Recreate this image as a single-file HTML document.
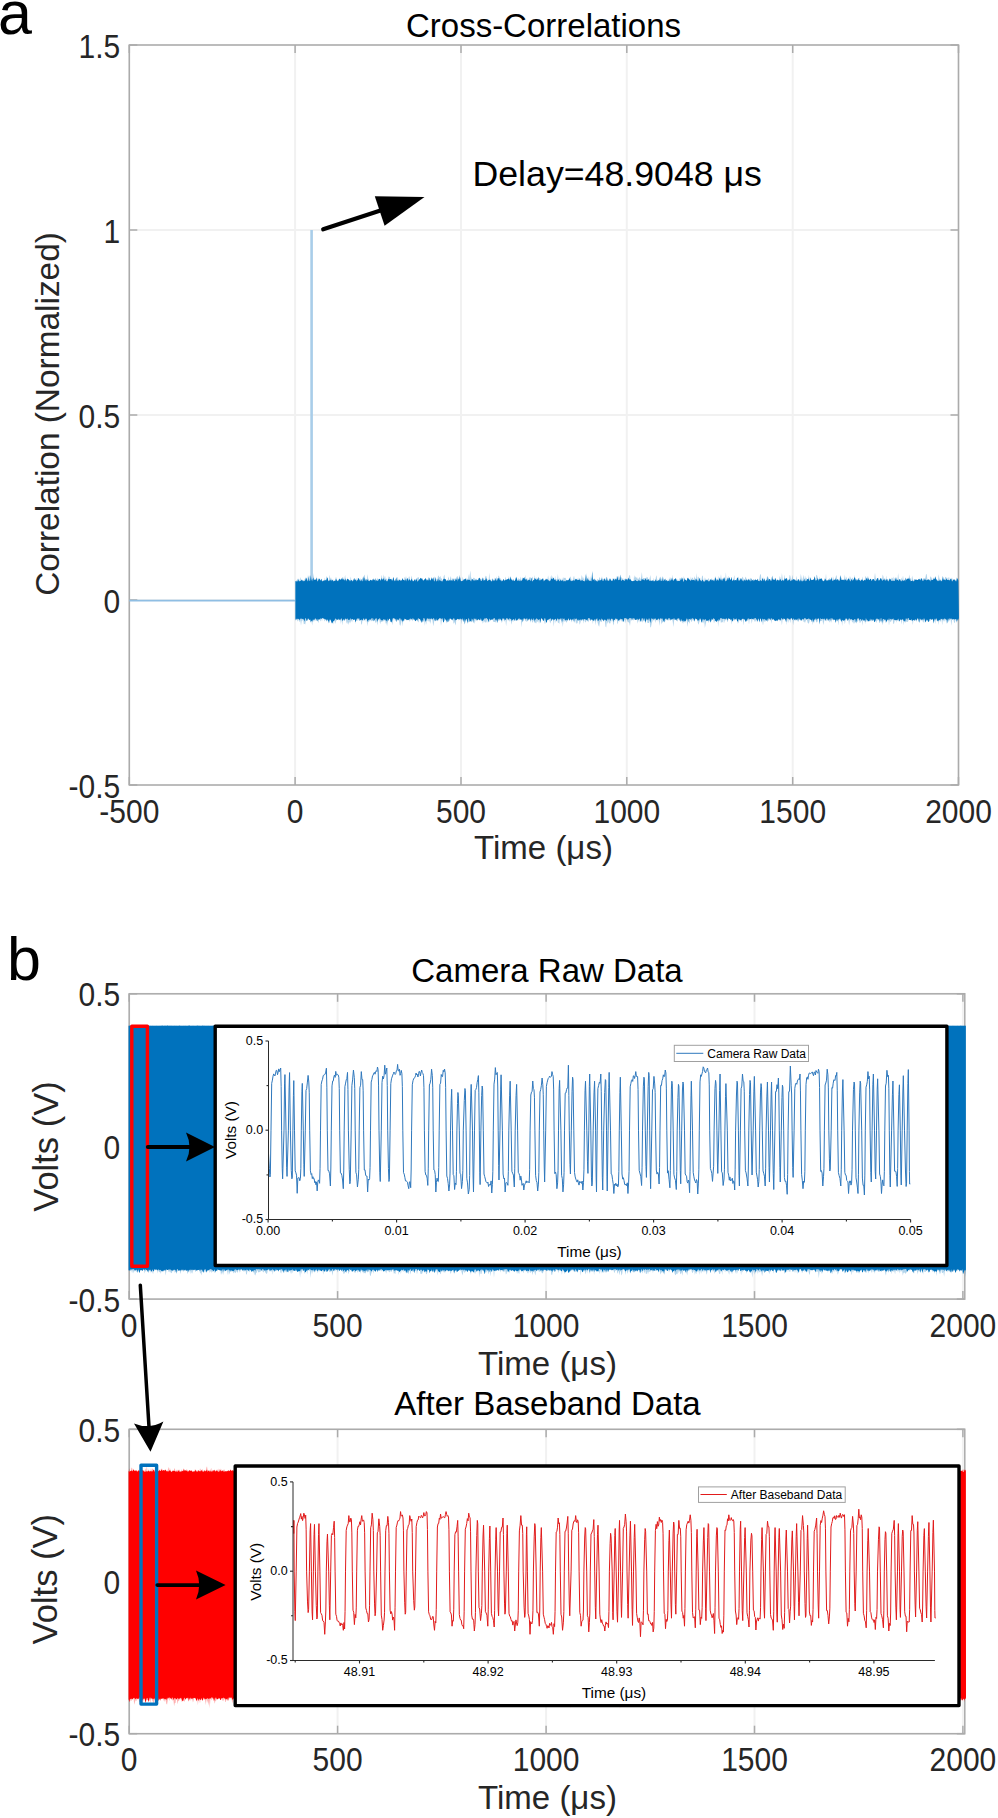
<!DOCTYPE html>
<html><head><meta charset="utf-8"><style>
html,body{margin:0;padding:0;background:#fff;}
svg{display:block;}
text{font-family:"Liberation Sans", Arial, Helvetica, sans-serif;}
</style></head><body>
<svg width="998" height="1818" viewBox="0 0 998 1818">
<rect width="998" height="1818" fill="#fff"/>
<g><line x1="129.3" y1="45" x2="129.3" y2="785" stroke="#f1f1f1" stroke-width="2"/><line x1="295.1" y1="45" x2="295.1" y2="785" stroke="#f1f1f1" stroke-width="2"/><line x1="461.0" y1="45" x2="461.0" y2="785" stroke="#f1f1f1" stroke-width="2"/><line x1="626.8" y1="45" x2="626.8" y2="785" stroke="#f1f1f1" stroke-width="2"/><line x1="792.7" y1="45" x2="792.7" y2="785" stroke="#f1f1f1" stroke-width="2"/><line x1="958.5" y1="45" x2="958.5" y2="785" stroke="#f1f1f1" stroke-width="2"/><line x1="129.3" y1="785.0" x2="958.5" y2="785.0" stroke="#f1f1f1" stroke-width="2"/><line x1="129.3" y1="600.0" x2="958.5" y2="600.0" stroke="#f1f1f1" stroke-width="2"/><line x1="129.3" y1="415.0" x2="958.5" y2="415.0" stroke="#f1f1f1" stroke-width="2"/><line x1="129.3" y1="230.0" x2="958.5" y2="230.0" stroke="#f1f1f1" stroke-width="2"/><line x1="129.3" y1="45.0" x2="958.5" y2="45.0" stroke="#f1f1f1" stroke-width="2"/><line x1="129.3" y1="785" x2="129.3" y2="777" stroke="#ababab" stroke-width="1.5"/><line x1="129.3" y1="45" x2="129.3" y2="53" stroke="#ababab" stroke-width="1.5"/><line x1="295.1" y1="785" x2="295.1" y2="777" stroke="#ababab" stroke-width="1.5"/><line x1="295.1" y1="45" x2="295.1" y2="53" stroke="#ababab" stroke-width="1.5"/><line x1="461.0" y1="785" x2="461.0" y2="777" stroke="#ababab" stroke-width="1.5"/><line x1="461.0" y1="45" x2="461.0" y2="53" stroke="#ababab" stroke-width="1.5"/><line x1="626.8" y1="785" x2="626.8" y2="777" stroke="#ababab" stroke-width="1.5"/><line x1="626.8" y1="45" x2="626.8" y2="53" stroke="#ababab" stroke-width="1.5"/><line x1="792.7" y1="785" x2="792.7" y2="777" stroke="#ababab" stroke-width="1.5"/><line x1="792.7" y1="45" x2="792.7" y2="53" stroke="#ababab" stroke-width="1.5"/><line x1="958.5" y1="785" x2="958.5" y2="777" stroke="#ababab" stroke-width="1.5"/><line x1="958.5" y1="45" x2="958.5" y2="53" stroke="#ababab" stroke-width="1.5"/><line x1="129.3" y1="785.0" x2="137.3" y2="785.0" stroke="#ababab" stroke-width="1.5"/><line x1="958.5" y1="785.0" x2="950.5" y2="785.0" stroke="#ababab" stroke-width="1.5"/><line x1="129.3" y1="600.0" x2="137.3" y2="600.0" stroke="#ababab" stroke-width="1.5"/><line x1="958.5" y1="600.0" x2="950.5" y2="600.0" stroke="#ababab" stroke-width="1.5"/><line x1="129.3" y1="415.0" x2="137.3" y2="415.0" stroke="#ababab" stroke-width="1.5"/><line x1="958.5" y1="415.0" x2="950.5" y2="415.0" stroke="#ababab" stroke-width="1.5"/><line x1="129.3" y1="230.0" x2="137.3" y2="230.0" stroke="#ababab" stroke-width="1.5"/><line x1="958.5" y1="230.0" x2="950.5" y2="230.0" stroke="#ababab" stroke-width="1.5"/><line x1="129.3" y1="45.0" x2="137.3" y2="45.0" stroke="#ababab" stroke-width="1.5"/><line x1="958.5" y1="45.0" x2="950.5" y2="45.0" stroke="#ababab" stroke-width="1.5"/><rect x="129.3" y="45" width="829.2" height="740" fill="none" stroke="#ababab" stroke-width="1.5"/><line x1="129.3" y1="600.6" x2="295.1" y2="600.6" stroke="#8fbee3" stroke-width="1.6"/><line x1="311.6" y1="230.0" x2="311.6" y2="600" stroke="#a9cde9" stroke-width="2.6"/><polygon points="295.4,581.5 295.4,581.5 296.1,580.5 296.8,580.6 297.5,578.5 298.2,580.0 298.9,578.2 299.6,581.3 300.3,577.0 301.0,579.8 301.7,579.4 302.4,579.8 303.1,580.3 303.8,581.1 304.5,578.4 305.2,581.4 305.9,579.2 306.6,577.0 307.3,580.0 308.0,575.1 308.7,577.1 309.4,575.3 310.1,580.7 310.8,577.2 311.5,580.6 312.2,581.0 312.9,580.9 313.6,573.0 314.3,579.7 315.0,581.3 315.7,581.1 316.4,576.3 317.1,579.9 317.8,578.2 318.5,578.8 319.2,577.9 319.9,578.8 320.6,581.4 321.3,578.5 322.0,579.5 322.7,581.1 323.4,581.1 324.1,581.3 324.8,577.4 325.5,581.2 326.2,576.9 326.9,576.3 327.6,578.6 328.3,581.1 329.0,579.3 329.7,574.7 330.4,578.9 331.1,577.5 331.8,581.2 332.5,579.6 333.2,580.9 333.9,579.2 334.6,581.3 335.3,579.2 336.0,576.6 336.7,579.2 337.4,580.8 338.1,579.9 338.8,581.1 339.5,577.5 340.2,579.5 340.9,580.8 341.6,578.5 342.3,577.6 343.0,577.0 343.7,578.8 344.4,579.3 345.1,574.8 345.8,579.9 346.5,581.2 347.2,577.3 347.9,579.2 348.6,580.4 349.3,580.3 350.0,580.7 350.7,576.4 351.4,580.1 352.1,580.5 352.8,580.3 353.5,581.1 354.2,580.8 354.9,577.7 355.6,581.5 356.3,580.0 357.0,577.6 357.7,579.3 358.4,581.4 359.1,579.2 359.8,580.4 360.5,577.9 361.2,581.5 361.9,579.5 362.6,577.1 363.3,580.3 364.0,575.8 364.7,574.6 365.4,580.5 366.1,578.5 366.8,580.9 367.5,573.9 368.2,578.7 368.9,579.4 369.6,580.8 370.3,579.8 371.0,580.9 371.7,580.8 372.4,579.1 373.1,579.7 373.8,578.0 374.5,581.2 375.2,581.4 375.9,577.9 376.6,580.6 377.3,578.6 378.0,578.2 378.7,580.8 379.4,581.2 380.1,579.5 380.8,581.1 381.5,574.8 382.2,577.7 382.9,580.3 383.6,574.3 384.3,578.6 385.0,575.6 385.7,578.9 386.4,578.6 387.1,578.9 387.8,581.1 388.5,576.3 389.2,577.3 389.9,576.6 390.6,581.3 391.3,580.6 392.0,581.0 392.7,578.2 393.4,577.8 394.1,579.7 394.8,581.3 395.5,578.8 396.2,579.4 396.9,577.2 397.6,577.3 398.3,581.0 399.0,578.2 399.7,581.5 400.4,579.2 401.1,580.4 401.8,579.6 402.5,581.5 403.2,580.2 403.9,580.5 404.6,576.8 405.3,578.8 406.0,575.9 406.7,579.2 407.4,577.9 408.1,580.4 408.8,576.8 409.5,576.6 410.2,580.8 410.9,579.4 411.6,575.6 412.3,579.0 413.0,581.4 413.7,581.3 414.4,579.0 415.1,580.0 415.8,579.7 416.5,581.0 417.2,577.8 417.9,577.4 418.6,577.0 419.3,579.8 420.0,580.5 420.7,581.4 421.4,580.0 422.1,579.8 422.8,579.4 423.5,580.5 424.2,581.0 424.9,581.4 425.6,577.5 426.3,579.2 427.0,580.2 427.7,579.6 428.4,576.8 429.1,578.3 429.8,578.2 430.5,581.0 431.2,579.7 431.9,578.9 432.6,578.7 433.3,578.4 434.0,580.0 434.7,576.4 435.4,577.3 436.1,578.6 436.8,579.8 437.5,578.6 438.2,575.2 438.9,576.5 439.6,577.6 440.3,575.8 441.0,578.7 441.7,578.1 442.4,581.5 443.1,578.7 443.8,576.0 444.5,574.4 445.2,580.6 445.9,581.4 446.6,580.7 447.3,581.4 448.0,578.6 448.7,576.4 449.4,580.9 450.1,578.2 450.8,576.0 451.5,579.8 452.2,581.3 452.9,580.1 453.6,578.2 454.3,579.3 455.0,578.1 455.7,578.5 456.4,580.8 457.1,578.9 457.8,580.3 458.5,580.4 459.2,574.7 459.9,576.8 460.6,578.5 461.3,581.2 462.0,581.5 462.7,576.6 463.4,579.9 464.1,579.0 464.8,581.2 465.5,581.2 466.2,580.5 466.9,577.6 467.6,581.4 468.3,574.1 469.0,579.2 469.7,574.9 470.4,570.5 471.1,579.7 471.8,577.0 472.5,581.3 473.2,577.5 473.9,578.3 474.6,577.7 475.3,581.0 476.0,581.3 476.7,581.3 477.4,581.4 478.1,578.8 478.8,579.6 479.5,580.8 480.2,578.0 480.9,579.8 481.6,579.2 482.3,577.8 483.0,577.2 483.7,581.0 484.4,581.5 485.1,577.0 485.8,575.7 486.5,576.6 487.2,579.9 487.9,578.9 488.6,580.2 489.3,572.7 490.0,580.7 490.7,581.3 491.4,581.2 492.1,577.9 492.8,580.6 493.5,580.9 494.2,577.5 494.9,580.4 495.6,581.5 496.3,576.3 497.0,579.6 497.7,580.2 498.4,575.4 499.1,576.2 499.8,578.2 500.5,578.4 501.2,579.2 501.9,581.1 502.6,580.8 503.3,580.6 504.0,580.8 504.7,581.3 505.4,576.4 506.1,579.6 506.8,581.3 507.5,579.5 508.2,579.4 508.9,576.1 509.6,579.8 510.3,581.3 511.0,580.3 511.7,577.8 512.4,581.3 513.1,578.6 513.8,580.2 514.5,580.7 515.2,580.8 515.9,581.1 516.6,576.1 517.3,580.7 518.0,578.6 518.7,578.5 519.4,578.9 520.1,579.6 520.8,576.4 521.5,580.4 522.2,579.5 522.9,580.9 523.6,581.5 524.3,578.1 525.0,579.9 525.7,574.7 526.4,580.6 527.1,580.8 527.8,578.0 528.5,580.4 529.2,577.3 529.9,577.8 530.6,577.2 531.3,578.4 532.0,577.9 532.7,576.4 533.4,580.6 534.1,579.6 534.8,574.9 535.5,580.8 536.2,579.5 536.9,576.9 537.6,581.4 538.3,576.5 539.0,578.3 539.7,578.3 540.4,578.6 541.1,579.8 541.8,580.5 542.5,580.8 543.2,580.8 543.9,580.5 544.6,580.5 545.3,581.4 546.0,580.8 546.7,581.2 547.4,579.8 548.1,575.2 548.8,579.5 549.5,581.3 550.2,575.8 550.9,580.2 551.6,574.9 552.3,576.7 553.0,578.6 553.7,579.1 554.4,581.0 555.1,575.7 555.8,580.2 556.5,579.2 557.2,579.4 557.9,573.9 558.6,580.8 559.3,578.9 560.0,577.5 560.7,581.3 561.4,580.9 562.1,577.6 562.8,581.1 563.5,577.6 564.2,577.7 564.9,577.9 565.6,577.8 566.3,579.9 567.0,579.8 567.7,581.1 568.4,580.2 569.1,580.4 569.8,577.1 570.5,576.6 571.2,578.8 571.9,580.9 572.6,580.8 573.3,578.1 574.0,575.7 574.7,578.9 575.4,580.9 576.1,580.2 576.8,580.2 577.5,578.0 578.2,580.8 578.9,577.4 579.6,578.4 580.3,578.8 581.0,579.9 581.7,575.1 582.4,577.0 583.1,579.5 583.8,577.0 584.5,580.2 585.2,580.5 585.9,577.7 586.6,572.9 587.3,580.9 588.0,576.1 588.7,579.3 589.4,580.9 590.1,575.9 590.8,580.2 591.5,578.2 592.2,577.3 592.9,577.9 593.6,580.4 594.3,578.0 595.0,579.8 595.7,580.0 596.4,581.3 597.1,579.7 597.8,578.7 598.5,580.5 599.2,578.0 599.9,577.1 600.6,581.3 601.3,578.5 602.0,576.3 602.7,581.5 603.4,579.3 604.1,578.2 604.8,578.6 605.5,579.8 606.2,576.4 606.9,578.9 607.6,580.2 608.3,580.7 609.0,579.0 609.7,579.5 610.4,581.0 611.1,579.5 611.8,581.3 612.5,577.8 613.2,581.2 613.9,581.3 614.6,578.3 615.3,578.4 616.0,581.4 616.7,575.7 617.4,579.3 618.1,577.8 618.8,575.4 619.5,581.3 620.2,577.8 620.9,576.4 621.6,577.8 622.3,579.0 623.0,577.7 623.7,580.2 624.4,578.8 625.1,579.1 625.8,579.5 626.5,579.0 627.2,580.0 627.9,578.2 628.6,577.4 629.3,575.3 630.0,575.2 630.7,580.4 631.4,580.7 632.1,581.4 632.8,581.0 633.5,581.3 634.2,575.1 634.9,578.0 635.6,576.2 636.3,578.1 637.0,577.0 637.7,579.0 638.4,578.7 639.1,578.3 639.8,576.8 640.5,580.3 641.2,576.8 641.9,572.0 642.6,579.7 643.3,577.9 644.0,578.0 644.7,577.9 645.4,580.5 646.1,576.4 646.8,578.2 647.5,576.8 648.2,578.7 648.9,580.1 649.6,578.6 650.3,575.1 651.0,580.2 651.7,581.4 652.4,581.2 653.1,581.2 653.8,577.7 654.5,581.3 655.2,581.4 655.9,577.1 656.6,575.2 657.3,581.0 658.0,578.9 658.7,581.3 659.4,579.4 660.1,579.0 660.8,581.3 661.5,578.0 662.2,579.5 662.9,581.1 663.6,580.7 664.3,580.9 665.0,579.0 665.7,578.3 666.4,580.7 667.1,579.6 667.8,580.7 668.5,581.5 669.2,576.9 669.9,581.3 670.6,577.0 671.3,579.4 672.0,580.5 672.7,574.5 673.4,581.2 674.1,581.0 674.8,581.0 675.5,580.1 676.2,580.2 676.9,578.2 677.6,580.6 678.3,579.6 679.0,581.2 679.7,577.4 680.4,580.7 681.1,581.0 681.8,581.0 682.5,580.0 683.2,579.6 683.9,575.9 684.6,579.9 685.3,580.7 686.0,580.5 686.7,580.2 687.4,579.3 688.1,580.6 688.8,579.3 689.5,580.0 690.2,580.8 690.9,576.4 691.6,579.7 692.3,577.6 693.0,578.1 693.7,580.7 694.4,576.2 695.1,578.3 695.8,581.0 696.5,573.0 697.2,580.2 697.9,576.5 698.6,577.1 699.3,579.4 700.0,577.2 700.7,580.2 701.4,580.6 702.1,575.6 702.8,576.1 703.5,581.2 704.2,580.7 704.9,577.2 705.6,579.2 706.3,580.1 707.0,580.2 707.7,581.1 708.4,578.1 709.1,578.9 709.8,581.3 710.5,579.0 711.2,579.5 711.9,577.9 712.6,580.2 713.3,580.5 714.0,580.3 714.7,578.1 715.4,576.0 716.1,579.5 716.8,581.3 717.5,580.5 718.2,575.8 718.9,580.3 719.6,579.5 720.3,578.6 721.0,573.9 721.7,580.4 722.4,578.5 723.1,580.2 723.8,579.5 724.5,581.4 725.2,578.9 725.9,572.2 726.6,581.1 727.3,579.7 728.0,579.2 728.7,575.8 729.4,577.7 730.1,580.4 730.8,580.5 731.5,578.8 732.2,579.7 732.9,581.4 733.6,578.4 734.3,574.9 735.0,581.0 735.7,581.3 736.4,580.8 737.1,577.0 737.8,581.4 738.5,576.5 739.2,578.2 739.9,580.9 740.6,580.8 741.3,578.8 742.0,578.0 742.7,576.4 743.4,578.4 744.1,580.4 744.8,579.3 745.5,576.4 746.2,578.0 746.9,579.8 747.6,579.8 748.3,579.9 749.0,578.0 749.7,580.7 750.4,577.8 751.1,578.4 751.8,578.6 752.5,580.8 753.2,579.1 753.9,579.2 754.6,580.6 755.3,578.4 756.0,581.3 756.7,580.3 757.4,578.4 758.1,579.4 758.8,580.0 759.5,577.4 760.2,573.9 760.9,574.8 761.6,581.3 762.3,580.8 763.0,576.3 763.7,581.1 764.4,578.2 765.1,581.1 765.8,580.0 766.5,578.7 767.2,575.9 767.9,576.7 768.6,579.3 769.3,578.9 770.0,581.0 770.7,580.8 771.4,579.4 772.1,580.4 772.8,579.8 773.5,578.5 774.2,580.3 774.9,578.0 775.6,577.7 776.3,581.4 777.0,579.0 777.7,580.3 778.4,580.8 779.1,579.1 779.8,576.1 780.5,578.0 781.2,580.2 781.9,573.0 782.6,578.3 783.3,581.1 784.0,579.1 784.7,574.6 785.4,580.7 786.1,580.3 786.8,577.4 787.5,579.8 788.2,579.2 788.9,579.8 789.6,575.0 790.3,575.7 791.0,579.6 791.7,579.2 792.4,574.7 793.1,579.3 793.8,580.8 794.5,580.0 795.2,579.2 795.9,580.3 796.6,575.8 797.3,580.3 798.0,579.0 798.7,580.4 799.4,579.5 800.1,580.3 800.8,573.7 801.5,577.4 802.2,580.6 802.9,577.7 803.6,574.8 804.3,581.4 805.0,575.4 805.7,578.5 806.4,577.4 807.1,579.8 807.8,581.2 808.5,574.7 809.2,580.3 809.9,576.4 810.6,580.5 811.3,581.1 812.0,580.4 812.7,581.3 813.4,579.7 814.1,579.4 814.8,575.8 815.5,581.4 816.2,575.3 816.9,574.8 817.6,577.0 818.3,579.1 819.0,579.2 819.7,576.6 820.4,581.3 821.1,581.3 821.8,580.5 822.5,581.2 823.2,580.0 823.9,581.2 824.6,577.8 825.3,580.2 826.0,573.8 826.7,581.3 827.4,580.7 828.1,579.7 828.8,579.1 829.5,577.7 830.2,580.8 830.9,578.4 831.6,580.6 832.3,581.1 833.0,576.3 833.7,579.2 834.4,581.2 835.1,579.7 835.8,576.5 836.5,574.9 837.2,579.2 837.9,579.7 838.6,579.3 839.3,579.5 840.0,576.8 840.7,576.2 841.4,579.0 842.1,580.5 842.8,579.3 843.5,579.7 844.2,578.4 844.9,574.5 845.6,580.3 846.3,576.4 847.0,579.3 847.7,580.2 848.4,580.4 849.1,576.1 849.8,580.8 850.5,576.3 851.2,578.9 851.9,578.4 852.6,577.4 853.3,580.0 854.0,579.3 854.7,574.8 855.4,579.1 856.1,581.1 856.8,580.3 857.5,581.1 858.2,579.4 858.9,581.4 859.6,577.3 860.3,580.1 861.0,580.2 861.7,580.1 862.4,576.6 863.1,580.9 863.8,580.6 864.5,580.8 865.2,576.9 865.9,576.0 866.6,581.1 867.3,577.4 868.0,575.7 868.7,580.6 869.4,581.2 870.1,579.1 870.8,581.2 871.5,579.3 872.2,579.6 872.9,579.1 873.6,581.4 874.3,578.2 875.0,572.8 875.7,578.1 876.4,579.9 877.1,578.7 877.8,578.9 878.5,577.6 879.2,579.9 879.9,581.4 880.6,578.2 881.3,578.3 882.0,579.9 882.7,574.4 883.4,576.6 884.1,580.1 884.8,581.0 885.5,580.9 886.2,575.5 886.9,579.9 887.6,578.8 888.3,579.6 889.0,581.2 889.7,578.5 890.4,579.4 891.1,579.5 891.8,577.6 892.5,578.8 893.2,576.6 893.9,580.8 894.6,577.6 895.3,579.9 896.0,578.3 896.7,579.5 897.4,581.0 898.1,573.1 898.8,578.9 899.5,579.8 900.2,581.2 900.9,580.4 901.6,577.4 902.3,579.8 903.0,575.6 903.7,580.6 904.4,581.4 905.1,581.1 905.8,577.1 906.5,580.4 907.2,578.8 907.9,577.8 908.6,578.6 909.3,574.4 910.0,578.9 910.7,580.6 911.4,581.0 912.1,575.5 912.8,578.4 913.5,581.1 914.2,579.9 914.9,579.0 915.6,580.0 916.3,580.5 917.0,580.6 917.7,581.1 918.4,581.1 919.1,577.6 919.8,581.4 920.5,578.5 921.2,578.2 921.9,580.7 922.6,579.3 923.3,577.9 924.0,580.9 924.7,577.9 925.4,577.7 926.1,573.7 926.8,574.7 927.5,580.8 928.2,579.0 928.9,581.1 929.6,581.2 930.3,576.3 931.0,577.0 931.7,577.9 932.4,581.3 933.1,576.7 933.8,580.9 934.5,579.2 935.2,580.6 935.9,579.0 936.6,581.4 937.3,579.9 938.0,579.7 938.7,574.3 939.4,578.5 940.1,579.1 940.8,581.0 941.5,581.3 942.2,578.0 942.9,580.0 943.6,579.1 944.3,580.9 945.0,577.5 945.7,576.8 946.4,577.5 947.1,579.3 947.8,577.8 948.5,577.2 949.2,581.2 949.9,577.1 950.6,580.3 951.3,578.4 952.0,577.5 952.7,580.1 953.4,580.1 954.1,579.1 954.8,579.3 955.5,580.3 956.2,581.4 956.9,579.7 957.6,579.8 958.3,581.3 958.9,618.0 958.3,620.7 957.6,619.8 956.9,622.8 956.2,621.4 955.5,618.9 954.8,623.0 954.1,622.5 953.4,619.5 952.7,619.8 952.0,620.0 951.3,625.8 950.6,618.9 949.9,618.1 949.2,621.4 948.5,619.0 947.8,620.0 947.1,620.3 946.4,624.1 945.7,620.3 945.0,619.2 944.3,621.4 943.6,621.2 942.9,618.7 942.2,625.3 941.5,619.1 940.8,620.4 940.1,622.3 939.4,619.0 938.7,624.9 938.0,618.8 937.3,618.3 936.6,621.3 935.9,618.4 935.2,623.9 934.5,619.7 933.8,621.3 933.1,618.8 932.4,618.8 931.7,619.3 931.0,619.7 930.3,620.4 929.6,620.9 928.9,622.0 928.2,618.0 927.5,621.8 926.8,619.0 926.1,621.4 925.4,621.7 924.7,619.0 924.0,623.3 923.3,621.5 922.6,621.6 921.9,618.2 921.2,621.3 920.5,619.2 919.8,622.0 919.1,622.6 918.4,620.2 917.7,618.6 917.0,620.0 916.3,622.1 915.6,619.0 914.9,618.9 914.2,619.4 913.5,619.5 912.8,624.9 912.1,619.9 911.4,621.3 910.7,618.0 910.0,618.6 909.3,620.1 908.6,619.9 907.9,622.1 907.2,621.8 906.5,622.0 905.8,620.5 905.1,620.8 904.4,619.2 903.7,625.6 903.0,618.4 902.3,619.1 901.6,624.4 900.9,619.2 900.2,620.6 899.5,621.8 898.8,620.5 898.1,621.4 897.4,619.5 896.7,622.8 896.0,618.7 895.3,618.8 894.6,620.9 893.9,624.2 893.2,623.2 892.5,618.3 891.8,620.3 891.1,621.6 890.4,622.0 889.7,620.5 889.0,625.8 888.3,619.2 887.6,619.2 886.9,621.9 886.2,622.5 885.5,622.7 884.8,619.0 884.1,620.4 883.4,621.5 882.7,625.3 882.0,621.6 881.3,621.1 880.6,621.2 879.9,619.9 879.2,621.5 878.5,619.5 877.8,621.0 877.1,619.4 876.4,623.3 875.7,620.4 875.0,621.9 874.3,618.4 873.6,619.0 872.9,620.6 872.2,619.3 871.5,621.7 870.8,618.5 870.1,621.4 869.4,620.6 868.7,619.7 868.0,622.6 867.3,619.3 866.6,622.1 865.9,619.6 865.2,624.1 864.5,620.7 863.8,620.2 863.1,618.3 862.4,625.7 861.7,620.3 861.0,621.3 860.3,622.8 859.6,622.7 858.9,618.6 858.2,620.9 857.5,621.9 856.8,620.8 856.1,621.7 855.4,622.0 854.7,623.8 854.0,620.4 853.3,623.8 852.6,622.0 851.9,621.5 851.2,618.9 850.5,620.4 849.8,620.8 849.1,625.6 848.4,620.1 847.7,621.1 847.0,620.7 846.3,618.8 845.6,620.3 844.9,624.2 844.2,620.9 843.5,620.2 842.8,620.3 842.1,626.0 841.4,618.3 840.7,620.6 840.0,620.2 839.3,618.3 838.6,625.4 837.9,618.9 837.2,619.2 836.5,620.2 835.8,622.4 835.1,620.6 834.4,619.0 833.7,621.1 833.0,618.3 832.3,618.6 831.6,622.9 830.9,618.3 830.2,622.2 829.5,622.2 828.8,618.5 828.1,621.6 827.4,619.2 826.7,621.5 826.0,619.1 825.3,620.6 824.6,619.6 823.9,622.2 823.2,624.9 822.5,619.5 821.8,621.1 821.1,620.7 820.4,621.4 819.7,619.9 819.0,620.0 818.3,618.0 817.6,621.4 816.9,622.6 816.2,621.9 815.5,619.4 814.8,620.2 814.1,622.8 813.4,619.7 812.7,625.2 812.0,618.3 811.3,619.7 810.6,619.1 809.9,619.4 809.2,622.4 808.5,623.8 807.8,622.9 807.1,620.6 806.4,619.5 805.7,620.8 805.0,623.1 804.3,621.6 803.6,622.0 802.9,618.2 802.2,620.8 801.5,619.9 800.8,619.3 800.1,618.5 799.4,619.0 798.7,621.1 798.0,622.3 797.3,619.4 796.6,618.8 795.9,618.9 795.2,619.5 794.5,619.3 793.8,621.0 793.1,625.3 792.4,618.8 791.7,618.2 791.0,618.4 790.3,622.9 789.6,620.0 788.9,618.9 788.2,622.9 787.5,618.7 786.8,624.9 786.1,618.6 785.4,620.2 784.7,618.6 784.0,619.9 783.3,619.8 782.6,619.4 781.9,625.3 781.2,619.8 780.5,620.8 779.8,621.5 779.1,618.6 778.4,619.7 777.7,621.8 777.0,618.7 776.3,620.8 775.6,621.0 774.9,618.9 774.2,621.2 773.5,618.2 772.8,620.2 772.1,619.1 771.4,623.7 770.7,618.5 770.0,620.5 769.3,619.4 768.6,618.4 767.9,621.1 767.2,619.0 766.5,620.9 765.8,621.0 765.1,621.8 764.4,621.5 763.7,620.9 763.0,625.6 762.3,621.6 761.6,618.8 760.9,619.0 760.2,619.3 759.5,621.7 758.8,619.8 758.1,620.4 757.4,622.5 756.7,618.8 756.0,622.2 755.3,620.2 754.6,621.9 753.9,618.4 753.2,618.1 752.5,619.2 751.8,623.7 751.1,619.5 750.4,619.0 749.7,618.6 749.0,624.8 748.3,618.6 747.6,618.3 746.9,621.0 746.2,619.4 745.5,620.5 744.8,619.2 744.1,620.3 743.4,625.4 742.7,618.1 742.0,620.3 741.3,622.2 740.6,619.3 739.9,619.7 739.2,620.8 738.5,622.5 737.8,623.8 737.1,618.1 736.4,620.3 735.7,618.5 735.0,620.2 734.3,620.5 733.6,619.7 732.9,621.9 732.2,618.0 731.5,624.7 730.8,620.0 730.1,618.4 729.4,618.2 728.7,618.0 728.0,621.3 727.3,622.3 726.6,618.2 725.9,621.1 725.2,619.1 724.5,623.3 723.8,618.4 723.1,623.0 722.4,621.7 721.7,621.9 721.0,623.3 720.3,619.5 719.6,621.7 718.9,618.0 718.2,627.0 717.5,618.4 716.8,620.3 716.1,622.3 715.4,621.0 714.7,621.1 714.0,623.4 713.3,619.5 712.6,618.4 711.9,619.4 711.2,618.7 710.5,623.1 709.8,618.6 709.1,622.1 708.4,622.7 707.7,618.4 707.0,619.3 706.3,621.4 705.6,624.4 704.9,628.1 704.2,620.6 703.5,623.8 702.8,619.4 702.1,619.9 701.4,618.3 700.7,619.2 700.0,620.5 699.3,622.0 698.6,624.8 697.9,622.9 697.2,619.6 696.5,618.5 695.8,618.5 695.1,620.1 694.4,620.3 693.7,621.0 693.0,619.4 692.3,620.3 691.6,622.3 690.9,620.6 690.2,619.4 689.5,623.7 688.8,622.0 688.1,622.1 687.4,627.1 686.7,620.4 686.0,618.8 685.3,623.0 684.6,620.7 683.9,624.0 683.2,619.7 682.5,623.6 681.8,622.1 681.1,618.7 680.4,619.3 679.7,620.5 679.0,619.4 678.3,619.3 677.6,621.4 676.9,621.1 676.2,620.9 675.5,618.6 674.8,618.1 674.1,620.8 673.4,627.0 672.7,621.5 672.0,618.3 671.3,619.0 670.6,621.1 669.9,619.9 669.2,620.2 668.5,620.5 667.8,619.6 667.1,619.7 666.4,619.2 665.7,621.5 665.0,618.2 664.3,619.8 663.6,621.2 662.9,622.5 662.2,622.2 661.5,624.5 660.8,618.9 660.1,620.4 659.4,625.9 658.7,618.3 658.0,622.0 657.3,618.8 656.6,619.6 655.9,620.3 655.2,623.0 654.5,618.3 653.8,618.7 653.1,618.6 652.4,621.5 651.7,623.3 651.0,626.9 650.3,627.4 649.6,620.2 648.9,623.1 648.2,623.1 647.5,622.9 646.8,619.2 646.1,620.9 645.4,623.8 644.7,620.5 644.0,621.2 643.3,620.7 642.6,622.8 641.9,619.5 641.2,618.3 640.5,621.2 639.8,618.5 639.1,622.8 638.4,619.5 637.7,623.8 637.0,619.4 636.3,620.0 635.6,620.0 634.9,618.9 634.2,619.0 633.5,620.7 632.8,619.1 632.1,620.4 631.4,620.4 630.7,619.6 630.0,626.0 629.3,622.9 628.6,622.2 627.9,621.9 627.2,621.0 626.5,618.8 625.8,620.5 625.1,623.5 624.4,618.4 623.7,622.5 623.0,618.9 622.3,622.2 621.6,621.1 620.9,619.1 620.2,620.6 619.5,622.1 618.8,618.2 618.1,622.4 617.4,624.5 616.7,618.4 616.0,618.6 615.3,621.3 614.6,618.3 613.9,623.7 613.2,625.4 612.5,618.6 611.8,622.1 611.1,618.1 610.4,623.2 609.7,623.4 609.0,623.0 608.3,621.1 607.6,624.1 606.9,620.4 606.2,627.5 605.5,626.5 604.8,620.4 604.1,620.1 603.4,621.9 602.7,618.5 602.0,621.3 601.3,622.2 600.6,621.2 599.9,621.8 599.2,626.8 598.5,625.4 597.8,623.3 597.1,620.5 596.4,619.0 595.7,625.2 595.0,619.9 594.3,619.4 593.6,619.1 592.9,624.0 592.2,619.9 591.5,620.1 590.8,620.2 590.1,619.9 589.4,619.8 588.7,621.3 588.0,622.6 587.3,619.0 586.6,619.1 585.9,622.4 585.2,621.9 584.5,619.1 583.8,623.8 583.1,619.1 582.4,618.7 581.7,621.1 581.0,620.3 580.3,623.1 579.6,624.8 578.9,619.4 578.2,618.6 577.5,623.5 576.8,622.5 576.1,624.3 575.4,619.7 574.7,622.3 574.0,622.4 573.3,620.4 572.6,618.2 571.9,622.4 571.2,620.6 570.5,619.3 569.8,619.4 569.1,621.0 568.4,618.9 567.7,618.7 567.0,622.2 566.3,622.5 565.6,621.3 564.9,619.8 564.2,622.3 563.5,620.4 562.8,627.1 562.1,621.0 561.4,623.5 560.7,618.7 560.0,618.1 559.3,624.1 558.6,622.8 557.9,622.8 557.2,618.9 556.5,619.0 555.8,623.2 555.1,618.7 554.4,620.6 553.7,626.7 553.0,618.6 552.3,620.1 551.6,620.0 550.9,621.7 550.2,623.4 549.5,620.6 548.8,618.2 548.1,620.8 547.4,618.6 546.7,621.1 546.0,618.9 545.3,623.7 544.6,623.4 543.9,618.1 543.2,619.8 542.5,618.6 541.8,618.3 541.1,618.7 540.4,618.3 539.7,621.4 539.0,623.8 538.3,620.0 537.6,622.2 536.9,620.9 536.2,623.4 535.5,622.9 534.8,622.0 534.1,623.0 533.4,618.6 532.7,623.1 532.0,621.6 531.3,619.4 530.6,622.7 529.9,620.0 529.2,619.7 528.5,619.8 527.8,620.0 527.1,619.1 526.4,622.3 525.7,621.0 525.0,620.4 524.3,618.4 523.6,618.2 522.9,622.7 522.2,620.4 521.5,627.5 520.8,618.3 520.1,619.1 519.4,620.1 518.7,620.6 518.0,618.6 517.3,621.1 516.6,619.6 515.9,620.7 515.2,620.4 514.5,619.4 513.8,618.8 513.1,622.2 512.4,619.5 511.7,624.8 511.0,621.8 510.3,619.6 509.6,622.0 508.9,618.7 508.2,621.3 507.5,619.5 506.8,620.3 506.1,626.3 505.4,619.2 504.7,621.6 504.0,621.1 503.3,618.7 502.6,620.2 501.9,622.9 501.2,621.1 500.5,619.2 499.8,621.1 499.1,619.3 498.4,619.1 497.7,618.4 497.0,623.2 496.3,620.2 495.6,622.6 494.9,622.0 494.2,622.1 493.5,622.0 492.8,620.2 492.1,619.0 491.4,619.1 490.7,620.3 490.0,619.2 489.3,622.3 488.6,620.2 487.9,623.1 487.2,618.8 486.5,622.4 485.8,622.0 485.1,622.9 484.4,620.9 483.7,623.1 483.0,618.1 482.3,623.9 481.6,620.0 480.9,618.8 480.2,619.4 479.5,620.8 478.8,618.6 478.1,618.3 477.4,621.3 476.7,621.0 476.0,618.1 475.3,621.0 474.6,623.9 473.9,619.2 473.2,619.8 472.5,618.7 471.8,622.6 471.1,620.8 470.4,618.6 469.7,618.5 469.0,622.7 468.3,621.8 467.6,622.0 466.9,621.1 466.2,619.7 465.5,621.0 464.8,620.2 464.1,618.8 463.4,619.8 462.7,620.9 462.0,618.5 461.3,624.3 460.6,618.3 459.9,618.0 459.2,618.2 458.5,620.7 457.8,619.3 457.1,618.7 456.4,619.1 455.7,625.4 455.0,623.5 454.3,621.9 453.6,624.1 452.9,618.8 452.2,620.0 451.5,619.7 450.8,618.1 450.1,619.3 449.4,621.4 448.7,618.2 448.0,619.8 447.3,621.1 446.6,623.5 445.9,620.8 445.2,619.7 444.5,621.5 443.8,619.5 443.1,618.6 442.4,618.4 441.7,620.9 441.0,625.9 440.3,618.3 439.6,618.2 438.9,621.2 438.2,618.2 437.5,621.6 436.8,620.1 436.1,620.1 435.4,619.2 434.7,618.5 434.0,622.4 433.3,626.3 432.6,621.6 431.9,618.0 431.2,619.1 430.5,624.0 429.8,620.6 429.1,622.5 428.4,620.2 427.7,621.6 427.0,618.1 426.3,624.8 425.6,620.5 424.9,625.7 424.2,620.6 423.5,621.9 422.8,620.4 422.1,618.5 421.4,620.3 420.7,619.7 420.0,620.5 419.3,618.1 418.6,622.5 417.9,621.7 417.2,620.6 416.5,619.0 415.8,618.4 415.1,618.2 414.4,619.2 413.7,619.7 413.0,619.2 412.3,621.5 411.6,618.6 410.9,621.0 410.2,618.2 409.5,622.1 408.8,619.5 408.1,619.3 407.4,620.5 406.7,619.9 406.0,618.7 405.3,619.8 404.6,618.7 403.9,618.7 403.2,620.6 402.5,626.5 401.8,619.0 401.1,622.9 400.4,625.8 399.7,624.9 399.0,620.3 398.3,619.2 397.6,620.7 396.9,620.2 396.2,621.1 395.5,618.7 394.8,618.4 394.1,620.4 393.4,618.0 392.7,625.2 392.0,621.8 391.3,618.7 390.6,618.9 389.9,618.6 389.2,618.8 388.5,618.9 387.8,621.7 387.1,626.1 386.4,623.0 385.7,623.4 385.0,618.4 384.3,621.2 383.6,620.5 382.9,621.9 382.2,620.9 381.5,621.9 380.8,622.0 380.1,624.3 379.4,619.6 378.7,620.1 378.0,620.5 377.3,625.5 376.6,620.4 375.9,623.2 375.2,621.8 374.5,619.3 373.8,620.9 373.1,621.0 372.4,620.3 371.7,620.8 371.0,621.4 370.3,619.4 369.6,620.9 368.9,621.7 368.2,621.9 367.5,626.2 366.8,618.4 366.1,622.7 365.4,618.9 364.7,620.7 364.0,619.2 363.3,621.0 362.6,619.0 361.9,624.7 361.2,623.9 360.5,618.1 359.8,620.8 359.1,618.8 358.4,620.0 357.7,621.3 357.0,618.4 356.3,618.7 355.6,623.9 354.9,619.9 354.2,618.2 353.5,619.1 352.8,619.0 352.1,622.6 351.4,620.2 350.7,621.6 350.0,623.4 349.3,621.3 348.6,624.9 347.9,621.6 347.2,623.9 346.5,622.8 345.8,618.9 345.1,618.7 344.4,620.4 343.7,620.5 343.0,619.3 342.3,625.5 341.6,618.8 340.9,624.1 340.2,619.0 339.5,618.2 338.8,618.2 338.1,619.5 337.4,619.3 336.7,620.2 336.0,621.2 335.3,624.0 334.6,619.3 333.9,624.8 333.2,619.4 332.5,619.3 331.8,619.2 331.1,620.8 330.4,619.6 329.7,619.4 329.0,621.5 328.3,621.0 327.6,618.3 326.9,618.5 326.2,618.8 325.5,619.2 324.8,621.6 324.1,619.9 323.4,618.3 322.7,618.1 322.0,621.5 321.3,618.5 320.6,621.5 319.9,619.7 319.2,618.1 318.5,623.3 317.8,621.1 317.1,621.1 316.4,619.3 315.7,621.0 315.0,618.8 314.3,621.2 313.6,621.5 312.9,620.1 312.2,625.6 311.5,621.5 310.8,618.3 310.1,620.2 309.4,619.5 308.7,618.2 308.0,620.5 307.3,620.7 306.6,620.2 305.9,621.3 305.2,624.6 304.5,623.7 303.8,624.3 303.1,619.1 302.4,620.7 301.7,620.8 301.0,625.7 300.3,620.0 299.6,622.1 298.9,621.0 298.2,618.7 297.5,621.8 296.8,619.4 296.1,619.9 295.4,618.1" fill="#0072BD" fill-opacity="0.3"/><polygon points="295.4,581.5 295.4,581.0 296.1,581.4 296.8,581.3 297.5,581.5 298.2,579.2 298.9,581.2 299.6,581.2 300.3,580.9 301.0,580.8 301.7,579.7 302.4,580.5 303.1,581.4 303.8,580.4 304.5,581.3 305.2,580.3 305.9,577.4 306.6,578.8 307.3,580.6 308.0,581.4 308.7,577.1 309.4,580.8 310.1,581.3 310.8,575.0 311.5,580.9 312.2,578.6 312.9,581.5 313.6,577.2 314.3,579.7 315.0,580.1 315.7,579.5 316.4,577.8 317.1,580.8 317.8,581.4 318.5,579.6 319.2,579.0 319.9,579.2 320.6,580.8 321.3,578.7 322.0,581.2 322.7,581.3 323.4,580.8 324.1,580.1 324.8,580.7 325.5,580.0 326.2,580.4 326.9,578.4 327.6,577.6 328.3,581.3 329.0,580.7 329.7,580.5 330.4,579.6 331.1,581.2 331.8,579.4 332.5,580.1 333.2,581.3 333.9,581.2 334.6,580.8 335.3,581.0 336.0,578.4 336.7,580.3 337.4,580.9 338.1,581.2 338.8,579.5 339.5,579.0 340.2,579.3 340.9,579.9 341.6,578.4 342.3,578.6 343.0,580.0 343.7,579.1 344.4,580.2 345.1,580.5 345.8,578.3 346.5,581.4 347.2,578.9 347.9,579.0 348.6,579.6 349.3,580.1 350.0,581.4 350.7,580.2 351.4,579.9 352.1,580.8 352.8,581.4 353.5,579.8 354.2,578.0 354.9,580.2 355.6,579.3 356.3,581.5 357.0,580.1 357.7,580.5 358.4,577.8 359.1,578.7 359.8,580.4 360.5,581.3 361.2,578.9 361.9,581.0 362.6,581.2 363.3,576.0 364.0,581.3 364.7,577.3 365.4,580.1 366.1,581.3 366.8,579.0 367.5,579.7 368.2,580.8 368.9,580.8 369.6,581.2 370.3,579.7 371.0,579.9 371.7,580.4 372.4,580.5 373.1,578.7 373.8,579.9 374.5,580.2 375.2,578.2 375.9,581.4 376.6,580.0 377.3,580.7 378.0,581.0 378.7,579.2 379.4,578.8 380.1,579.3 380.8,581.0 381.5,577.9 382.2,579.4 382.9,579.5 383.6,578.0 384.3,580.9 385.0,579.0 385.7,580.3 386.4,581.1 387.1,581.5 387.8,580.6 388.5,578.4 389.2,579.6 389.9,578.8 390.6,579.2 391.3,578.8 392.0,580.8 392.7,580.2 393.4,576.7 394.1,579.9 394.8,581.2 395.5,580.5 396.2,577.2 396.9,581.2 397.6,580.0 398.3,581.3 399.0,579.4 399.7,580.0 400.4,580.7 401.1,580.4 401.8,580.6 402.5,578.1 403.2,579.8 403.9,579.9 404.6,580.4 405.3,580.5 406.0,578.6 406.7,581.5 407.4,577.7 408.1,579.6 408.8,581.0 409.5,578.7 410.2,580.8 410.9,580.5 411.6,578.6 412.3,580.2 413.0,581.5 413.7,580.8 414.4,580.0 415.1,579.1 415.8,581.4 416.5,578.0 417.2,581.3 417.9,581.5 418.6,580.2 419.3,579.5 420.0,578.7 420.7,577.7 421.4,578.8 422.1,578.3 422.8,580.3 423.5,580.8 424.2,579.2 424.9,579.4 425.6,578.0 426.3,579.6 427.0,580.9 427.7,579.4 428.4,580.8 429.1,577.5 429.8,580.3 430.5,580.4 431.2,579.0 431.9,577.3 432.6,580.0 433.3,577.0 434.0,581.2 434.7,581.2 435.4,577.6 436.1,580.8 436.8,581.5 437.5,580.3 438.2,578.3 438.9,581.4 439.6,579.4 440.3,580.5 441.0,580.9 441.7,581.3 442.4,581.4 443.1,579.6 443.8,579.0 444.5,578.7 445.2,579.1 445.9,579.6 446.6,581.3 447.3,579.9 448.0,581.0 448.7,580.5 449.4,580.0 450.1,580.9 450.8,579.5 451.5,580.4 452.2,581.0 452.9,578.3 453.6,580.0 454.3,581.2 455.0,580.7 455.7,579.1 456.4,580.1 457.1,575.8 457.8,581.4 458.5,578.6 459.2,579.3 459.9,576.5 460.6,580.4 461.3,581.3 462.0,581.0 462.7,580.8 463.4,580.2 464.1,578.9 464.8,579.5 465.5,578.3 466.2,579.6 466.9,580.9 467.6,579.2 468.3,580.1 469.0,579.6 469.7,580.1 470.4,580.6 471.1,581.4 471.8,579.2 472.5,578.9 473.2,580.6 473.9,580.3 474.6,580.4 475.3,580.6 476.0,578.4 476.7,580.5 477.4,579.8 478.1,580.4 478.8,577.9 479.5,577.7 480.2,578.9 480.9,581.0 481.6,580.9 482.3,579.5 483.0,577.7 483.7,580.7 484.4,580.1 485.1,580.5 485.8,578.5 486.5,578.6 487.2,580.9 487.9,581.0 488.6,580.1 489.3,579.9 490.0,579.2 490.7,580.4 491.4,581.5 492.1,581.1 492.8,578.6 493.5,581.0 494.2,579.7 494.9,581.2 495.6,577.7 496.3,580.2 497.0,580.9 497.7,578.2 498.4,578.6 499.1,578.1 499.8,580.0 500.5,580.0 501.2,581.4 501.9,580.2 502.6,581.3 503.3,578.7 504.0,580.1 504.7,580.8 505.4,579.9 506.1,579.7 506.8,579.4 507.5,579.2 508.2,578.7 508.9,578.6 509.6,580.5 510.3,576.3 511.0,579.5 511.7,579.6 512.4,581.0 513.1,579.3 513.8,580.9 514.5,581.0 515.2,580.1 515.9,577.6 516.6,577.6 517.3,580.7 518.0,580.8 518.7,580.3 519.4,581.2 520.1,579.7 520.8,581.2 521.5,580.7 522.2,580.1 522.9,577.4 523.6,578.5 524.3,576.9 525.0,579.5 525.7,579.4 526.4,578.6 527.1,581.3 527.8,579.9 528.5,580.3 529.2,579.5 529.9,579.9 530.6,581.2 531.3,577.6 532.0,581.2 532.7,581.3 533.4,580.1 534.1,580.0 534.8,577.7 535.5,579.1 536.2,579.4 536.9,579.9 537.6,579.1 538.3,577.2 539.0,580.8 539.7,580.0 540.4,580.6 541.1,579.3 541.8,579.7 542.5,578.6 543.2,578.6 543.9,581.4 544.6,580.2 545.3,580.0 546.0,578.4 546.7,579.4 547.4,579.1 548.1,580.7 548.8,579.9 549.5,581.3 550.2,581.1 550.9,579.5 551.6,578.3 552.3,579.6 553.0,578.6 553.7,577.5 554.4,580.2 555.1,579.1 555.8,580.5 556.5,581.3 557.2,580.9 557.9,579.3 558.6,579.5 559.3,581.3 560.0,580.9 560.7,579.3 561.4,580.7 562.1,581.0 562.8,579.4 563.5,581.5 564.2,580.9 564.9,581.2 565.6,581.2 566.3,580.1 567.0,580.7 567.7,580.0 568.4,580.2 569.1,578.9 569.8,578.1 570.5,580.7 571.2,580.7 571.9,581.2 572.6,580.6 573.3,580.5 574.0,579.9 574.7,581.1 575.4,579.1 576.1,578.8 576.8,579.5 577.5,580.3 578.2,579.8 578.9,580.0 579.6,579.2 580.3,581.1 581.0,579.9 581.7,580.7 582.4,579.9 583.1,581.1 583.8,581.1 584.5,581.4 585.2,580.4 585.9,574.1 586.6,581.3 587.3,577.7 588.0,581.0 588.7,579.2 589.4,580.9 590.1,580.7 590.8,581.1 591.5,581.2 592.2,571.0 592.9,580.3 593.6,579.6 594.3,579.1 595.0,581.5 595.7,579.6 596.4,581.0 597.1,581.4 597.8,581.2 598.5,580.6 599.2,579.8 599.9,581.0 600.6,580.1 601.3,579.9 602.0,578.1 602.7,580.9 603.4,580.9 604.1,578.5 604.8,579.3 605.5,580.4 606.2,580.7 606.9,576.7 607.6,580.7 608.3,580.4 609.0,581.2 609.7,578.6 610.4,578.8 611.1,580.7 611.8,580.7 612.5,581.0 613.2,579.1 613.9,578.6 614.6,580.8 615.3,578.6 616.0,579.7 616.7,579.2 617.4,575.8 618.1,579.7 618.8,580.3 619.5,579.7 620.2,574.5 620.9,580.3 621.6,581.1 622.3,579.5 623.0,580.3 623.7,580.3 624.4,581.1 625.1,580.2 625.8,578.6 626.5,579.3 627.2,580.6 627.9,578.7 628.6,578.2 629.3,578.9 630.0,580.0 630.7,579.1 631.4,581.1 632.1,581.0 632.8,581.3 633.5,581.1 634.2,580.4 634.9,580.7 635.6,579.8 636.3,581.0 637.0,580.9 637.7,581.3 638.4,580.6 639.1,579.9 639.8,581.0 640.5,580.9 641.2,580.7 641.9,578.5 642.6,579.7 643.3,579.4 644.0,580.1 644.7,580.6 645.4,578.1 646.1,579.6 646.8,580.5 647.5,579.8 648.2,579.1 648.9,580.0 649.6,581.0 650.3,580.7 651.0,580.6 651.7,580.9 652.4,580.0 653.1,581.4 653.8,580.3 654.5,581.4 655.2,580.6 655.9,579.3 656.6,581.2 657.3,580.8 658.0,581.0 658.7,579.9 659.4,580.4 660.1,576.5 660.8,580.9 661.5,580.8 662.2,580.7 662.9,576.3 663.6,581.2 664.3,580.1 665.0,578.7 665.7,581.0 666.4,579.9 667.1,581.1 667.8,581.2 668.5,580.4 669.2,581.4 669.9,578.8 670.6,581.0 671.3,579.9 672.0,577.5 672.7,580.1 673.4,580.9 674.1,579.1 674.8,579.4 675.5,578.1 676.2,579.3 676.9,581.3 677.6,581.0 678.3,581.1 679.0,580.9 679.7,581.1 680.4,579.9 681.1,577.2 681.8,580.1 682.5,577.4 683.2,581.4 683.9,581.5 684.6,578.1 685.3,580.1 686.0,579.7 686.7,581.3 687.4,578.1 688.1,577.7 688.8,579.1 689.5,579.4 690.2,580.6 690.9,580.7 691.6,579.6 692.3,580.0 693.0,580.3 693.7,579.8 694.4,580.0 695.1,581.3 695.8,578.6 696.5,579.4 697.2,580.3 697.9,581.4 698.6,580.7 699.3,577.7 700.0,579.9 700.7,580.4 701.4,581.4 702.1,580.3 702.8,579.6 703.5,581.4 704.2,581.5 704.9,581.5 705.6,580.1 706.3,580.5 707.0,579.2 707.7,580.6 708.4,581.2 709.1,581.4 709.8,580.4 710.5,579.4 711.2,579.6 711.9,580.7 712.6,579.7 713.3,581.3 714.0,579.0 714.7,581.4 715.4,577.3 716.1,578.8 716.8,581.3 717.5,579.1 718.2,581.1 718.9,579.7 719.6,577.2 720.3,580.5 721.0,578.3 721.7,580.4 722.4,580.7 723.1,577.6 723.8,579.4 724.5,576.9 725.2,581.4 725.9,580.8 726.6,580.7 727.3,577.2 728.0,580.6 728.7,578.1 729.4,577.6 730.1,579.1 730.8,580.3 731.5,576.7 732.2,580.6 732.9,581.1 733.6,579.3 734.3,580.4 735.0,580.3 735.7,580.1 736.4,580.5 737.1,577.9 737.8,577.4 738.5,580.8 739.2,580.3 739.9,580.8 740.6,578.3 741.3,578.8 742.0,580.5 742.7,580.4 743.4,581.4 744.1,579.2 744.8,580.5 745.5,580.5 746.2,580.3 746.9,579.3 747.6,581.0 748.3,579.6 749.0,579.3 749.7,580.6 750.4,581.5 751.1,578.8 751.8,581.3 752.5,579.9 753.2,580.1 753.9,581.3 754.6,579.9 755.3,579.6 756.0,580.0 756.7,580.3 757.4,579.1 758.1,580.9 758.8,580.9 759.5,581.2 760.2,580.0 760.9,580.6 761.6,581.2 762.3,578.4 763.0,578.5 763.7,581.0 764.4,578.2 765.1,581.4 765.8,580.7 766.5,579.7 767.2,580.9 767.9,576.6 768.6,581.0 769.3,579.1 770.0,578.9 770.7,580.7 771.4,580.9 772.1,575.4 772.8,579.5 773.5,579.8 774.2,579.9 774.9,579.5 775.6,578.1 776.3,581.4 777.0,579.6 777.7,580.0 778.4,580.8 779.1,579.4 779.8,580.7 780.5,578.8 781.2,580.8 781.9,581.1 782.6,579.8 783.3,580.6 784.0,580.7 784.7,578.3 785.4,579.2 786.1,577.9 786.8,578.4 787.5,581.0 788.2,580.3 788.9,580.2 789.6,579.0 790.3,580.8 791.0,581.2 791.7,579.9 792.4,580.2 793.1,579.1 793.8,579.5 794.5,579.3 795.2,580.8 795.9,580.3 796.6,580.7 797.3,581.3 798.0,579.8 798.7,579.0 799.4,581.3 800.1,581.2 800.8,579.3 801.5,581.1 802.2,581.4 802.9,580.7 803.6,580.7 804.3,578.6 805.0,581.4 805.7,580.6 806.4,580.9 807.1,579.3 807.8,579.1 808.5,578.4 809.2,581.0 809.9,580.6 810.6,577.2 811.3,580.3 812.0,579.7 812.7,579.9 813.4,579.8 814.1,578.5 814.8,576.2 815.5,580.8 816.2,580.1 816.9,580.4 817.6,577.8 818.3,580.9 819.0,579.0 819.7,579.4 820.4,578.7 821.1,578.6 821.8,578.5 822.5,580.5 823.2,581.0 823.9,581.2 824.6,580.1 825.3,578.4 826.0,580.2 826.7,580.5 827.4,580.7 828.1,579.4 828.8,580.5 829.5,580.0 830.2,579.1 830.9,580.5 831.6,577.1 832.3,580.4 833.0,581.2 833.7,579.7 834.4,579.6 835.1,580.2 835.8,578.2 836.5,580.5 837.2,579.1 837.9,579.8 838.6,580.4 839.3,580.9 840.0,579.9 840.7,575.1 841.4,579.9 842.1,580.0 842.8,579.7 843.5,580.2 844.2,579.3 844.9,580.4 845.6,579.3 846.3,580.2 847.0,581.1 847.7,579.5 848.4,578.6 849.1,578.7 849.8,580.6 850.5,581.4 851.2,579.4 851.9,579.4 852.6,580.8 853.3,580.1 854.0,578.6 854.7,576.9 855.4,579.1 856.1,581.1 856.8,579.1 857.5,580.7 858.2,577.7 858.9,579.9 859.6,580.0 860.3,581.3 861.0,580.5 861.7,579.6 862.4,579.4 863.1,580.9 863.8,580.5 864.5,579.8 865.2,580.6 865.9,579.5 866.6,577.6 867.3,580.3 868.0,577.5 868.7,579.3 869.4,580.3 870.1,579.1 870.8,578.8 871.5,581.2 872.2,580.1 872.9,578.9 873.6,579.1 874.3,579.9 875.0,581.2 875.7,580.7 876.4,580.3 877.1,577.9 877.8,578.2 878.5,580.4 879.2,580.6 879.9,579.4 880.6,578.1 881.3,578.7 882.0,580.4 882.7,580.8 883.4,579.2 884.1,580.4 884.8,578.3 885.5,580.8 886.2,580.3 886.9,578.8 887.6,580.6 888.3,581.4 889.0,580.3 889.7,578.4 890.4,579.1 891.1,580.5 891.8,581.1 892.5,580.8 893.2,580.4 893.9,581.0 894.6,581.1 895.3,579.5 896.0,577.1 896.7,580.4 897.4,579.6 898.1,580.2 898.8,580.9 899.5,579.0 900.2,579.3 900.9,581.3 901.6,581.3 902.3,580.2 903.0,580.5 903.7,581.1 904.4,579.4 905.1,581.4 905.8,577.7 906.5,580.1 907.2,579.1 907.9,578.7 908.6,578.5 909.3,579.8 910.0,577.4 910.7,581.3 911.4,581.0 912.1,581.0 912.8,580.3 913.5,581.4 914.2,581.1 914.9,578.9 915.6,580.0 916.3,579.4 917.0,579.9 917.7,580.1 918.4,579.3 919.1,579.3 919.8,579.3 920.5,580.5 921.2,577.9 921.9,579.0 922.6,581.1 923.3,580.9 924.0,578.3 924.7,580.1 925.4,579.2 926.1,580.6 926.8,580.0 927.5,579.7 928.2,579.5 928.9,579.5 929.6,579.9 930.3,581.4 931.0,579.4 931.7,580.2 932.4,580.0 933.1,579.8 933.8,578.3 934.5,579.2 935.2,576.2 935.9,578.6 936.6,579.4 937.3,581.2 938.0,580.3 938.7,581.2 939.4,580.1 940.1,581.2 940.8,579.6 941.5,581.4 942.2,580.2 942.9,576.1 943.6,579.8 944.3,579.8 945.0,579.5 945.7,580.6 946.4,578.2 947.1,580.0 947.8,580.0 948.5,579.7 949.2,580.6 949.9,579.9 950.6,578.8 951.3,579.1 952.0,581.4 952.7,581.1 953.4,579.2 954.1,580.2 954.8,579.4 955.5,581.0 956.2,581.5 956.9,577.4 957.6,578.9 958.3,580.0 958.9,618.0 958.3,619.4 957.6,619.3 956.9,621.4 956.2,619.1 955.5,619.1 954.8,619.5 954.1,619.2 953.4,618.9 952.7,619.3 952.0,619.3 951.3,618.5 950.6,618.6 949.9,620.0 949.2,618.1 948.5,619.3 947.8,623.5 947.1,618.4 946.4,620.6 945.7,619.0 945.0,618.7 944.3,618.5 943.6,618.9 942.9,620.3 942.2,618.8 941.5,619.1 940.8,618.8 940.1,620.4 939.4,619.7 938.7,620.2 938.0,621.5 937.3,620.8 936.6,618.5 935.9,618.6 935.2,619.9 934.5,618.4 933.8,623.5 933.1,620.2 932.4,618.8 931.7,620.3 931.0,618.8 930.3,619.0 929.6,619.1 928.9,621.5 928.2,622.0 927.5,620.0 926.8,619.5 926.1,621.1 925.4,622.6 924.7,619.4 924.0,618.0 923.3,620.0 922.6,619.6 921.9,619.2 921.2,620.2 920.5,618.9 919.8,618.6 919.1,622.7 918.4,619.0 917.7,618.1 917.0,619.6 916.3,620.4 915.6,618.9 914.9,621.2 914.2,619.7 913.5,620.1 912.8,620.2 912.1,620.9 911.4,619.0 910.7,620.2 910.0,620.0 909.3,620.1 908.6,618.1 907.9,618.0 907.2,620.0 906.5,618.4 905.8,618.6 905.1,622.7 904.4,620.8 903.7,621.1 903.0,619.3 902.3,619.4 901.6,619.9 900.9,619.6 900.2,619.4 899.5,621.5 898.8,619.8 898.1,618.5 897.4,620.2 896.7,619.9 896.0,620.3 895.3,620.3 894.6,619.7 893.9,619.9 893.2,618.2 892.5,619.3 891.8,619.7 891.1,618.8 890.4,619.0 889.7,619.9 889.0,618.1 888.3,620.4 887.6,619.2 886.9,620.9 886.2,621.8 885.5,619.2 884.8,620.5 884.1,619.1 883.4,619.0 882.7,619.5 882.0,623.2 881.3,618.1 880.6,618.4 879.9,623.2 879.2,618.6 878.5,619.7 877.8,618.6 877.1,619.1 876.4,618.5 875.7,619.4 875.0,621.5 874.3,622.2 873.6,619.9 872.9,619.0 872.2,621.2 871.5,618.8 870.8,621.0 870.1,618.6 869.4,621.2 868.7,620.9 868.0,621.4 867.3,620.0 866.6,619.8 865.9,618.1 865.2,622.2 864.5,619.8 863.8,620.9 863.1,619.8 862.4,619.3 861.7,620.9 861.0,619.3 860.3,619.1 859.6,620.8 858.9,618.6 858.2,618.2 857.5,618.6 856.8,619.7 856.1,623.5 855.4,619.3 854.7,619.0 854.0,619.8 853.3,620.3 852.6,619.9 851.9,619.4 851.2,619.0 850.5,619.4 849.8,619.0 849.1,618.0 848.4,619.6 847.7,620.5 847.0,618.7 846.3,618.5 845.6,618.4 844.9,620.2 844.2,620.2 843.5,620.7 842.8,620.3 842.1,619.8 841.4,621.9 840.7,619.7 840.0,618.3 839.3,619.3 838.6,619.7 837.9,618.9 837.2,621.4 836.5,618.7 835.8,623.1 835.1,619.8 834.4,619.7 833.7,619.3 833.0,620.3 832.3,618.3 831.6,618.1 830.9,620.9 830.2,618.1 829.5,619.5 828.8,619.2 828.1,621.0 827.4,618.6 826.7,618.6 826.0,619.1 825.3,620.9 824.6,618.3 823.9,619.6 823.2,618.8 822.5,618.8 821.8,619.0 821.1,619.1 820.4,618.1 819.7,624.4 819.0,618.8 818.3,618.2 817.6,619.2 816.9,618.3 816.2,620.6 815.5,618.0 814.8,620.3 814.1,618.7 813.4,622.8 812.7,618.4 812.0,622.3 811.3,620.0 810.6,619.9 809.9,618.5 809.2,619.6 808.5,618.3 807.8,619.0 807.1,618.9 806.4,619.4 805.7,618.2 805.0,618.4 804.3,618.0 803.6,619.4 802.9,619.5 802.2,618.7 801.5,620.9 800.8,619.2 800.1,620.8 799.4,618.6 798.7,618.3 798.0,621.0 797.3,618.4 796.6,620.4 795.9,618.7 795.2,620.6 794.5,620.0 793.8,618.3 793.1,619.3 792.4,620.0 791.7,618.2 791.0,618.1 790.3,619.4 789.6,619.4 788.9,618.9 788.2,618.5 787.5,618.3 786.8,618.5 786.1,622.3 785.4,620.1 784.7,618.5 784.0,619.3 783.3,618.3 782.6,619.7 781.9,618.2 781.2,618.2 780.5,620.4 779.8,619.8 779.1,619.4 778.4,619.2 777.7,620.2 777.0,621.3 776.3,620.0 775.6,621.2 774.9,620.2 774.2,620.5 773.5,618.7 772.8,620.1 772.1,618.8 771.4,618.1 770.7,620.4 770.0,618.3 769.3,618.9 768.6,618.1 767.9,622.0 767.2,618.6 766.5,621.1 765.8,619.5 765.1,620.0 764.4,618.8 763.7,619.5 763.0,619.2 762.3,618.6 761.6,622.4 760.9,618.9 760.2,618.3 759.5,622.6 758.8,618.7 758.1,618.7 757.4,621.5 756.7,619.8 756.0,618.6 755.3,618.1 754.6,618.0 753.9,620.0 753.2,618.6 752.5,619.2 751.8,618.8 751.1,618.7 750.4,619.3 749.7,618.7 749.0,619.9 748.3,618.1 747.6,618.9 746.9,621.7 746.2,619.9 745.5,622.2 744.8,619.2 744.1,619.6 743.4,618.8 742.7,618.8 742.0,619.1 741.3,620.1 740.6,620.6 739.9,619.6 739.2,619.6 738.5,618.7 737.8,621.7 737.1,621.0 736.4,618.2 735.7,619.0 735.0,619.8 734.3,618.8 733.6,618.1 732.9,620.7 732.2,621.6 731.5,619.0 730.8,620.2 730.1,618.8 729.4,619.1 728.7,618.2 728.0,618.8 727.3,620.6 726.6,618.3 725.9,618.6 725.2,619.6 724.5,618.7 723.8,618.9 723.1,618.6 722.4,619.0 721.7,618.2 721.0,618.2 720.3,618.0 719.6,620.8 718.9,618.7 718.2,621.6 717.5,619.9 716.8,622.3 716.1,620.9 715.4,621.0 714.7,618.9 714.0,618.8 713.3,618.1 712.6,620.3 711.9,618.4 711.2,620.9 710.5,622.5 709.8,618.7 709.1,621.1 708.4,620.0 707.7,621.2 707.0,619.9 706.3,621.3 705.6,618.9 704.9,619.3 704.2,620.3 703.5,619.4 702.8,618.7 702.1,622.8 701.4,622.0 700.7,618.9 700.0,618.2 699.3,619.8 698.6,620.3 697.9,621.0 697.2,619.5 696.5,619.3 695.8,618.4 695.1,618.7 694.4,621.8 693.7,618.7 693.0,618.8 692.3,618.0 691.6,618.7 690.9,619.9 690.2,618.4 689.5,619.3 688.8,618.7 688.1,621.6 687.4,619.1 686.7,618.2 686.0,620.6 685.3,621.3 684.6,621.4 683.9,620.0 683.2,622.0 682.5,620.4 681.8,621.0 681.1,618.7 680.4,622.1 679.7,619.9 679.0,618.1 678.3,618.4 677.6,618.5 676.9,619.2 676.2,619.9 675.5,620.1 674.8,618.0 674.1,620.2 673.4,618.3 672.7,619.1 672.0,619.4 671.3,619.4 670.6,620.0 669.9,618.3 669.2,618.5 668.5,618.2 667.8,618.9 667.1,620.6 666.4,618.5 665.7,618.8 665.0,618.8 664.3,622.4 663.6,621.1 662.9,619.7 662.2,618.2 661.5,618.8 660.8,618.4 660.1,618.3 659.4,620.2 658.7,618.6 658.0,618.8 657.3,620.1 656.6,620.3 655.9,618.9 655.2,618.2 654.5,618.8 653.8,620.4 653.1,618.2 652.4,619.3 651.7,618.1 651.0,619.8 650.3,622.9 649.6,618.8 648.9,618.2 648.2,620.2 647.5,619.7 646.8,618.2 646.1,620.2 645.4,622.4 644.7,619.2 644.0,618.1 643.3,620.2 642.6,618.2 641.9,618.1 641.2,621.4 640.5,621.6 639.8,619.1 639.1,618.5 638.4,620.1 637.7,619.4 637.0,618.4 636.3,620.1 635.6,619.7 634.9,620.0 634.2,618.1 633.5,618.4 632.8,618.0 632.1,620.0 631.4,618.3 630.7,618.2 630.0,618.0 629.3,618.3 628.6,618.9 627.9,620.0 627.2,618.7 626.5,618.4 625.8,618.2 625.1,618.1 624.4,618.0 623.7,621.6 623.0,621.5 622.3,619.1 621.6,618.9 620.9,619.4 620.2,618.5 619.5,619.9 618.8,619.9 618.1,621.2 617.4,618.8 616.7,619.6 616.0,618.2 615.3,618.7 614.6,620.3 613.9,619.6 613.2,622.1 612.5,618.8 611.8,619.0 611.1,618.6 610.4,620.9 609.7,619.4 609.0,618.2 608.3,620.1 607.6,618.6 606.9,620.7 606.2,620.4 605.5,620.1 604.8,619.2 604.1,620.2 603.4,620.9 602.7,619.3 602.0,620.1 601.3,618.2 600.6,620.7 599.9,619.3 599.2,619.4 598.5,620.8 597.8,621.1 597.1,618.0 596.4,619.2 595.7,619.2 595.0,621.5 594.3,618.7 593.6,620.9 592.9,620.5 592.2,619.5 591.5,618.9 590.8,620.9 590.1,618.8 589.4,618.2 588.7,618.1 588.0,618.5 587.3,620.9 586.6,619.9 585.9,619.6 585.2,619.6 584.5,618.9 583.8,619.0 583.1,621.1 582.4,618.7 581.7,620.4 581.0,618.9 580.3,620.1 579.6,620.3 578.9,619.3 578.2,620.9 577.5,619.9 576.8,618.9 576.1,618.3 575.4,619.3 574.7,618.2 574.0,621.6 573.3,618.4 572.6,619.8 571.9,619.3 571.2,620.4 570.5,618.4 569.8,620.4 569.1,620.0 568.4,618.0 567.7,620.2 567.0,620.5 566.3,619.4 565.6,620.6 564.9,619.9 564.2,618.3 563.5,619.3 562.8,618.0 562.1,622.1 561.4,618.5 560.7,618.2 560.0,620.1 559.3,618.7 558.6,619.7 557.9,618.2 557.2,619.0 556.5,621.6 555.8,618.7 555.1,618.9 554.4,619.8 553.7,620.5 553.0,618.7 552.3,619.2 551.6,621.2 550.9,618.0 550.2,619.0 549.5,618.8 548.8,619.3 548.1,620.1 547.4,619.8 546.7,623.1 546.0,621.7 545.3,618.6 544.6,618.1 543.9,620.4 543.2,620.9 542.5,619.4 541.8,618.5 541.1,618.2 540.4,623.3 539.7,619.0 539.0,619.4 538.3,619.9 537.6,619.3 536.9,618.4 536.2,618.5 535.5,619.7 534.8,619.5 534.1,621.4 533.4,618.1 532.7,619.9 532.0,619.7 531.3,618.2 530.6,620.9 529.9,618.4 529.2,619.1 528.5,619.2 527.8,621.4 527.1,618.0 526.4,618.8 525.7,619.4 525.0,618.5 524.3,618.4 523.6,618.6 522.9,622.0 522.2,619.0 521.5,620.1 520.8,619.0 520.1,620.0 519.4,618.3 518.7,618.4 518.0,619.2 517.3,620.0 516.6,620.7 515.9,619.8 515.2,618.1 514.5,621.2 513.8,618.9 513.1,619.6 512.4,620.0 511.7,620.9 511.0,618.7 510.3,618.9 509.6,618.1 508.9,619.9 508.2,619.1 507.5,618.5 506.8,618.1 506.1,618.7 505.4,620.0 504.7,620.0 504.0,618.2 503.3,618.7 502.6,618.2 501.9,619.9 501.2,620.8 500.5,618.5 499.8,619.8 499.1,618.3 498.4,619.5 497.7,623.0 497.0,618.8 496.3,620.6 495.6,620.2 494.9,618.6 494.2,618.1 493.5,618.4 492.8,619.5 492.1,619.5 491.4,619.5 490.7,620.6 490.0,619.2 489.3,618.5 488.6,622.4 487.9,619.4 487.2,618.7 486.5,618.1 485.8,618.1 485.1,618.9 484.4,618.2 483.7,619.4 483.0,620.7 482.3,620.8 481.6,620.7 480.9,618.0 480.2,620.2 479.5,620.0 478.8,619.2 478.1,619.4 477.4,619.9 476.7,620.3 476.0,618.2 475.3,619.4 474.6,618.7 473.9,618.3 473.2,623.1 472.5,619.5 471.8,618.5 471.1,621.9 470.4,620.8 469.7,621.9 469.0,618.4 468.3,618.3 467.6,623.7 466.9,619.0 466.2,619.0 465.5,620.0 464.8,624.5 464.1,618.2 463.4,622.2 462.7,618.0 462.0,620.0 461.3,618.9 460.6,618.5 459.9,619.9 459.2,618.8 458.5,619.3 457.8,618.7 457.1,619.3 456.4,620.0 455.7,619.7 455.0,620.7 454.3,618.4 453.6,618.3 452.9,618.9 452.2,620.4 451.5,619.3 450.8,619.0 450.1,618.2 449.4,619.1 448.7,622.2 448.0,618.8 447.3,622.4 446.6,620.8 445.9,620.1 445.2,618.9 444.5,618.1 443.8,622.5 443.1,622.1 442.4,618.1 441.7,619.2 441.0,618.3 440.3,618.5 439.6,618.0 438.9,619.0 438.2,619.5 437.5,620.2 436.8,620.8 436.1,618.3 435.4,621.2 434.7,620.4 434.0,618.3 433.3,618.3 432.6,619.3 431.9,619.4 431.2,618.1 430.5,618.9 429.8,619.3 429.1,618.3 428.4,619.1 427.7,618.4 427.0,618.2 426.3,620.4 425.6,621.7 424.9,619.5 424.2,618.0 423.5,618.0 422.8,622.6 422.1,619.8 421.4,623.1 420.7,620.8 420.0,618.9 419.3,619.0 418.6,618.2 417.9,618.6 417.2,620.8 416.5,619.6 415.8,621.2 415.1,620.8 414.4,619.8 413.7,618.2 413.0,619.9 412.3,618.0 411.6,619.3 410.9,619.4 410.2,618.2 409.5,619.2 408.8,620.3 408.1,619.6 407.4,620.0 406.7,620.3 406.0,618.9 405.3,619.2 404.6,618.6 403.9,621.4 403.2,620.1 402.5,622.1 401.8,619.0 401.1,620.9 400.4,618.5 399.7,618.2 399.0,619.1 398.3,620.5 397.6,619.7 396.9,618.6 396.2,622.3 395.5,619.2 394.8,618.6 394.1,618.5 393.4,618.1 392.7,618.6 392.0,621.2 391.3,622.6 390.6,621.7 389.9,618.7 389.2,618.7 388.5,620.9 387.8,618.5 387.1,621.7 386.4,620.4 385.7,620.5 385.0,618.9 384.3,619.9 383.6,619.0 382.9,620.1 382.2,620.6 381.5,620.2 380.8,620.0 380.1,618.4 379.4,618.3 378.7,619.2 378.0,619.1 377.3,622.1 376.6,618.0 375.9,618.7 375.2,618.6 374.5,621.0 373.8,618.2 373.1,621.4 372.4,618.0 371.7,618.1 371.0,619.5 370.3,619.5 369.6,619.2 368.9,620.4 368.2,619.8 367.5,622.0 366.8,618.9 366.1,618.6 365.4,618.8 364.7,620.4 364.0,618.5 363.3,618.6 362.6,620.8 361.9,619.4 361.2,619.7 360.5,619.9 359.8,621.0 359.1,618.1 358.4,618.8 357.7,618.4 357.0,618.5 356.3,620.6 355.6,622.3 354.9,619.9 354.2,619.2 353.5,620.3 352.8,619.0 352.1,619.1 351.4,619.7 350.7,618.1 350.0,620.0 349.3,619.4 348.6,620.0 347.9,619.4 347.2,618.2 346.5,619.3 345.8,619.6 345.1,618.1 344.4,621.1 343.7,618.7 343.0,620.4 342.3,620.7 341.6,618.3 340.9,618.7 340.2,620.3 339.5,620.0 338.8,618.6 338.1,620.3 337.4,619.6 336.7,619.8 336.0,618.7 335.3,618.4 334.6,619.9 333.9,621.2 333.2,620.9 332.5,623.2 331.8,623.3 331.1,621.3 330.4,619.4 329.7,619.4 329.0,623.5 328.3,621.1 327.6,619.3 326.9,621.4 326.2,619.5 325.5,619.5 324.8,619.0 324.1,618.8 323.4,618.4 322.7,618.1 322.0,618.2 321.3,618.9 320.6,618.3 319.9,619.4 319.2,619.2 318.5,619.8 317.8,618.7 317.1,621.6 316.4,619.2 315.7,618.5 315.0,618.4 314.3,620.0 313.6,619.7 312.9,619.4 312.2,621.8 311.5,620.5 310.8,622.6 310.1,619.3 309.4,620.2 308.7,619.1 308.0,618.2 307.3,620.1 306.6,621.0 305.9,618.0 305.2,618.5 304.5,621.5 303.8,619.7 303.1,618.7 302.4,619.1 301.7,618.7 301.0,618.5 300.3,618.7 299.6,620.0 298.9,619.3 298.2,618.8 297.5,618.8 296.8,619.5 296.1,618.4 295.4,620.8" fill="#0072BD" fill-opacity="1.0"/><text transform="translate(129.3 822.6) scale(1 1.09)" font-size="30" fill="#262626" text-anchor="middle" >-500</text><text transform="translate(295.1 822.6) scale(1 1.09)" font-size="30" fill="#262626" text-anchor="middle" >0</text><text transform="translate(461.0 822.6) scale(1 1.09)" font-size="30" fill="#262626" text-anchor="middle" >500</text><text transform="translate(626.8 822.6) scale(1 1.09)" font-size="30" fill="#262626" text-anchor="middle" >1000</text><text transform="translate(792.7 822.6) scale(1 1.09)" font-size="30" fill="#262626" text-anchor="middle" >1500</text><text transform="translate(958.5 822.6) scale(1 1.09)" font-size="30" fill="#262626" text-anchor="middle" >2000</text><text transform="translate(120.2 797.6) scale(1 1.09)" font-size="30" fill="#262626" text-anchor="end" >-0.5</text><text transform="translate(120.2 612.6) scale(1 1.09)" font-size="30" fill="#262626" text-anchor="end" >0</text><text transform="translate(120.2 427.6) scale(1 1.09)" font-size="30" fill="#262626" text-anchor="end" >0.5</text><text transform="translate(120.2 242.6) scale(1 1.09)" font-size="30" fill="#262626" text-anchor="end" >1</text><text transform="translate(120.2 57.6) scale(1 1.09)" font-size="30" fill="#262626" text-anchor="end" >1.5</text><text x="543.5" y="859.4" font-size="33" fill="#262626" text-anchor="middle" >Time (μs)</text><text x="58.5" y="414.0" font-size="33.4" fill="#262626" text-anchor="middle" transform="rotate(-90 58.5 414)">Correlation (Normalized)</text><text x="543.5" y="36.6" font-size="33" fill="#000" text-anchor="middle" >Cross-Correlations</text></g><line x1="323.2" y1="229.3" x2="385" y2="209" stroke="#000" stroke-width="4.2" stroke-linecap="round"/><polygon points="424.5,197 374.8,196.2 384.6,225.8" fill="#000"/><text x="472.5" y="185.9" font-size="35.7" fill="#000" text-anchor="start" >Delay=48.9048 μs</text><text x="-2.0" y="34.3" font-size="61" fill="#000" text-anchor="start" >a</text>
<line x1="129.2" y1="993.8" x2="129.2" y2="1299.1" stroke="#f1f1f1" stroke-width="2"/><line x1="337.6" y1="993.8" x2="337.6" y2="1299.1" stroke="#f1f1f1" stroke-width="2"/><line x1="546.1" y1="993.8" x2="546.1" y2="1299.1" stroke="#f1f1f1" stroke-width="2"/><line x1="754.5" y1="993.8" x2="754.5" y2="1299.1" stroke="#f1f1f1" stroke-width="2"/><line x1="962.9" y1="993.8" x2="962.9" y2="1299.1" stroke="#f1f1f1" stroke-width="2"/><line x1="129.2" y1="1299.1" x2="964.8" y2="1299.1" stroke="#f1f1f1" stroke-width="2"/><line x1="129.2" y1="1146.4" x2="964.8" y2="1146.4" stroke="#f1f1f1" stroke-width="2"/><line x1="129.2" y1="993.8" x2="964.8" y2="993.8" stroke="#f1f1f1" stroke-width="2"/><line x1="129.2" y1="1299.1" x2="129.2" y2="1291.1" stroke="#ababab" stroke-width="1.5"/><line x1="129.2" y1="993.8" x2="129.2" y2="1001.8" stroke="#ababab" stroke-width="1.5"/><line x1="337.6" y1="1299.1" x2="337.6" y2="1291.1" stroke="#ababab" stroke-width="1.5"/><line x1="337.6" y1="993.8" x2="337.6" y2="1001.8" stroke="#ababab" stroke-width="1.5"/><line x1="546.1" y1="1299.1" x2="546.1" y2="1291.1" stroke="#ababab" stroke-width="1.5"/><line x1="546.1" y1="993.8" x2="546.1" y2="1001.8" stroke="#ababab" stroke-width="1.5"/><line x1="754.5" y1="1299.1" x2="754.5" y2="1291.1" stroke="#ababab" stroke-width="1.5"/><line x1="754.5" y1="993.8" x2="754.5" y2="1001.8" stroke="#ababab" stroke-width="1.5"/><line x1="962.9" y1="1299.1" x2="962.9" y2="1291.1" stroke="#ababab" stroke-width="1.5"/><line x1="962.9" y1="993.8" x2="962.9" y2="1001.8" stroke="#ababab" stroke-width="1.5"/><line x1="129.2" y1="1299.1" x2="137.2" y2="1299.1" stroke="#ababab" stroke-width="1.5"/><line x1="964.8" y1="1299.1" x2="956.8" y2="1299.1" stroke="#ababab" stroke-width="1.5"/><line x1="129.2" y1="1146.4" x2="137.2" y2="1146.4" stroke="#ababab" stroke-width="1.5"/><line x1="964.8" y1="1146.4" x2="956.8" y2="1146.4" stroke="#ababab" stroke-width="1.5"/><line x1="129.2" y1="993.8" x2="137.2" y2="993.8" stroke="#ababab" stroke-width="1.5"/><line x1="964.8" y1="993.8" x2="956.8" y2="993.8" stroke="#ababab" stroke-width="1.5"/><rect x="129.2" y="993.8" width="835.5999999999999" height="305.29999999999995" fill="none" stroke="#ababab" stroke-width="1.5"/><polygon points="128.6,1025.8 128.6,1025.7 129.3,1025.7 130.0,1025.6 130.7,1025.6 131.4,1025.7 132.1,1025.8 132.8,1025.6 133.5,1025.5 134.2,1025.7 134.9,1025.6 135.6,1025.8 136.3,1025.5 137.0,1025.6 137.7,1025.8 138.4,1025.8 139.1,1025.8 139.8,1025.7 140.5,1025.7 141.2,1025.6 141.9,1025.6 142.6,1025.7 143.3,1025.7 144.0,1025.5 144.7,1025.7 145.4,1025.7 146.1,1025.5 146.8,1025.8 147.5,1025.7 148.2,1025.8 148.9,1025.6 149.6,1025.7 150.3,1025.6 151.0,1025.8 151.7,1025.7 152.4,1025.6 153.1,1025.7 153.8,1025.8 154.5,1025.7 155.2,1025.7 155.9,1025.8 156.6,1025.5 157.3,1025.8 158.0,1025.7 158.7,1025.7 159.4,1025.8 160.1,1025.5 160.8,1025.8 161.5,1025.6 162.2,1025.5 162.9,1025.6 163.6,1025.7 164.3,1025.8 165.0,1025.7 165.7,1025.8 166.4,1025.7 167.1,1025.7 167.8,1025.7 168.5,1025.7 169.2,1025.5 169.9,1025.6 170.6,1025.5 171.3,1025.6 172.0,1025.6 172.7,1025.8 173.4,1025.8 174.1,1025.6 174.8,1025.6 175.5,1025.7 176.2,1025.6 176.9,1025.7 177.6,1025.8 178.3,1025.7 179.0,1025.6 179.7,1025.7 180.4,1025.8 181.1,1025.7 181.8,1025.7 182.5,1025.8 183.2,1025.7 183.9,1025.6 184.6,1025.7 185.3,1025.6 186.0,1025.7 186.7,1025.8 187.4,1025.8 188.1,1025.8 188.8,1025.7 189.5,1025.5 190.2,1025.8 190.9,1025.7 191.6,1025.7 192.3,1025.5 193.0,1025.8 193.7,1025.6 194.4,1025.7 195.1,1025.7 195.8,1025.7 196.5,1025.8 197.2,1025.5 197.9,1025.6 198.6,1025.6 199.3,1025.6 200.0,1025.8 200.7,1025.7 201.4,1025.7 202.1,1025.8 202.8,1025.5 203.5,1025.7 204.2,1025.6 204.9,1025.4 205.6,1025.8 206.3,1025.8 207.0,1025.6 207.7,1025.7 208.4,1025.6 209.1,1025.7 209.8,1025.8 210.5,1025.7 211.2,1025.7 211.9,1025.7 212.6,1025.6 213.3,1025.7 214.0,1025.5 214.7,1025.7 215.4,1025.6 216.1,1025.7 216.8,1025.7 217.5,1025.7 218.2,1025.7 218.9,1025.7 219.6,1025.6 220.3,1025.6 221.0,1025.7 221.7,1025.8 222.4,1025.7 223.1,1025.8 223.8,1025.6 224.5,1025.6 225.2,1025.7 225.9,1025.6 226.6,1025.7 227.3,1025.5 228.0,1025.5 228.7,1025.8 229.4,1025.8 230.1,1025.7 230.8,1025.6 231.5,1025.5 232.2,1025.8 232.9,1025.5 233.6,1025.7 234.3,1025.8 235.0,1025.7 235.7,1025.7 236.4,1025.8 237.1,1025.7 237.8,1025.8 238.5,1025.7 239.2,1025.7 239.9,1025.8 240.6,1025.8 241.3,1025.6 242.0,1025.7 242.7,1025.8 243.4,1025.4 244.1,1025.7 244.8,1025.7 245.5,1025.7 246.2,1025.5 246.9,1025.6 247.6,1025.7 248.3,1025.6 249.0,1025.7 249.7,1025.8 250.4,1025.6 251.1,1025.8 251.8,1025.8 252.5,1025.7 253.2,1025.6 253.9,1025.6 254.6,1025.8 255.3,1025.6 256.0,1025.7 256.7,1025.7 257.4,1025.7 258.1,1025.7 258.8,1025.7 259.5,1025.8 260.2,1025.7 260.9,1025.7 261.6,1025.7 262.3,1025.8 263.0,1025.4 263.7,1025.6 264.4,1025.7 265.1,1025.6 265.8,1025.8 266.5,1025.7 267.2,1025.6 267.9,1025.7 268.6,1025.6 269.3,1025.6 270.0,1025.8 270.7,1025.6 271.4,1025.6 272.1,1025.8 272.8,1025.7 273.5,1025.8 274.2,1025.7 274.9,1025.6 275.6,1025.6 276.3,1025.6 277.0,1025.7 277.7,1025.6 278.4,1025.8 279.1,1025.6 279.8,1025.8 280.5,1025.8 281.2,1025.8 281.9,1025.7 282.6,1025.8 283.3,1025.8 284.0,1025.6 284.7,1025.8 285.4,1025.7 286.1,1025.7 286.8,1025.8 287.5,1025.8 288.2,1025.5 288.9,1025.6 289.6,1025.8 290.3,1025.7 291.0,1025.7 291.7,1025.7 292.4,1025.6 293.1,1025.7 293.8,1025.8 294.5,1025.6 295.2,1025.7 295.9,1025.7 296.6,1025.8 297.3,1025.8 298.0,1025.8 298.7,1025.8 299.4,1025.7 300.1,1025.8 300.8,1025.8 301.5,1025.8 302.2,1025.7 302.9,1025.6 303.6,1025.7 304.3,1025.7 305.0,1025.8 305.7,1025.7 306.4,1025.5 307.1,1025.7 307.8,1025.8 308.5,1025.8 309.2,1025.6 309.9,1025.8 310.6,1025.5 311.3,1025.7 312.0,1025.7 312.7,1025.7 313.4,1025.8 314.1,1025.7 314.8,1025.8 315.5,1025.7 316.2,1025.8 316.9,1025.7 317.6,1025.7 318.3,1025.7 319.0,1025.5 319.7,1025.6 320.4,1025.4 321.1,1025.6 321.8,1025.8 322.5,1025.7 323.2,1025.8 323.9,1025.7 324.6,1025.7 325.3,1025.7 326.0,1025.7 326.7,1025.6 327.4,1025.5 328.1,1025.8 328.8,1025.7 329.5,1025.6 330.2,1025.7 330.9,1025.8 331.6,1025.6 332.3,1025.6 333.0,1025.6 333.7,1025.5 334.4,1025.7 335.1,1025.7 335.8,1025.8 336.5,1025.6 337.2,1025.7 337.9,1025.7 338.6,1025.7 339.3,1025.4 340.0,1025.7 340.7,1025.7 341.4,1025.6 342.1,1025.6 342.8,1025.6 343.5,1025.7 344.2,1025.7 344.9,1025.7 345.6,1025.8 346.3,1025.5 347.0,1025.6 347.7,1025.7 348.4,1025.7 349.1,1025.7 349.8,1025.7 350.5,1025.6 351.2,1025.7 351.9,1025.7 352.6,1025.8 353.3,1025.6 354.0,1025.6 354.7,1025.7 355.4,1025.8 356.1,1025.7 356.8,1025.7 357.5,1025.7 358.2,1025.7 358.9,1025.7 359.6,1025.7 360.3,1025.8 361.0,1025.6 361.7,1025.5 362.4,1025.8 363.1,1025.6 363.8,1025.7 364.5,1025.7 365.2,1025.5 365.9,1025.7 366.6,1025.6 367.3,1025.6 368.0,1025.7 368.7,1025.8 369.4,1025.8 370.1,1025.8 370.8,1025.7 371.5,1025.5 372.2,1025.5 372.9,1025.8 373.6,1025.7 374.3,1025.6 375.0,1025.7 375.7,1025.7 376.4,1025.7 377.1,1025.7 377.8,1025.6 378.5,1025.7 379.2,1025.8 379.9,1025.6 380.6,1025.8 381.3,1025.7 382.0,1025.7 382.7,1025.6 383.4,1025.5 384.1,1025.5 384.8,1025.6 385.5,1025.7 386.2,1025.8 386.9,1025.8 387.6,1025.8 388.3,1025.7 389.0,1025.7 389.7,1025.6 390.4,1025.6 391.1,1025.5 391.8,1025.4 392.5,1025.8 393.2,1025.6 393.9,1025.7 394.6,1025.7 395.3,1025.8 396.0,1025.7 396.7,1025.6 397.4,1025.7 398.1,1025.7 398.8,1025.8 399.5,1025.6 400.2,1025.6 400.9,1025.7 401.6,1025.6 402.3,1025.7 403.0,1025.5 403.7,1025.7 404.4,1025.8 405.1,1025.4 405.8,1025.6 406.5,1025.7 407.2,1025.7 407.9,1025.8 408.6,1025.8 409.3,1025.6 410.0,1025.7 410.7,1025.7 411.4,1025.6 412.1,1025.7 412.8,1025.7 413.5,1025.7 414.2,1025.6 414.9,1025.7 415.6,1025.6 416.3,1025.8 417.0,1025.7 417.7,1025.7 418.4,1025.7 419.1,1025.6 419.8,1025.7 420.5,1025.8 421.2,1025.7 421.9,1025.5 422.6,1025.5 423.3,1025.5 424.0,1025.7 424.7,1025.6 425.4,1025.7 426.1,1025.8 426.8,1025.8 427.5,1025.7 428.2,1025.8 428.9,1025.7 429.6,1025.8 430.3,1025.5 431.0,1025.7 431.7,1025.6 432.4,1025.7 433.1,1025.8 433.8,1025.7 434.5,1025.7 435.2,1025.6 435.9,1025.8 436.6,1025.6 437.3,1025.3 438.0,1025.7 438.7,1025.5 439.4,1025.5 440.1,1025.7 440.8,1025.7 441.5,1025.5 442.2,1025.7 442.9,1025.7 443.6,1025.7 444.3,1025.7 445.0,1025.6 445.7,1025.6 446.4,1025.6 447.1,1025.6 447.8,1025.7 448.5,1025.6 449.2,1025.6 449.9,1025.7 450.6,1025.8 451.3,1025.7 452.0,1025.7 452.7,1025.7 453.4,1025.6 454.1,1025.7 454.8,1025.8 455.5,1025.7 456.2,1025.8 456.9,1025.5 457.6,1025.7 458.3,1025.8 459.0,1025.6 459.7,1025.7 460.4,1025.7 461.1,1025.6 461.8,1025.7 462.5,1025.7 463.2,1025.8 463.9,1025.8 464.6,1025.6 465.3,1025.7 466.0,1025.6 466.7,1025.8 467.4,1025.8 468.1,1025.7 468.8,1025.8 469.5,1025.7 470.2,1025.7 470.9,1025.5 471.6,1025.8 472.3,1025.7 473.0,1025.7 473.7,1025.6 474.4,1025.7 475.1,1025.6 475.8,1025.6 476.5,1025.7 477.2,1025.7 477.9,1025.7 478.6,1025.6 479.3,1025.8 480.0,1025.5 480.7,1025.7 481.4,1025.7 482.1,1025.7 482.8,1025.8 483.5,1025.8 484.2,1025.7 484.9,1025.8 485.6,1025.7 486.3,1025.7 487.0,1025.8 487.7,1025.7 488.4,1025.8 489.1,1025.7 489.8,1025.7 490.5,1025.6 491.2,1025.7 491.9,1025.7 492.6,1025.6 493.3,1025.8 494.0,1025.8 494.7,1025.6 495.4,1025.7 496.1,1025.8 496.8,1025.7 497.5,1025.7 498.2,1025.8 498.9,1025.5 499.6,1025.6 500.3,1025.7 501.0,1025.8 501.7,1025.6 502.4,1025.7 503.1,1025.8 503.8,1025.8 504.5,1025.7 505.2,1025.8 505.9,1025.8 506.6,1025.8 507.3,1025.6 508.0,1025.8 508.7,1025.5 509.4,1025.6 510.1,1025.6 510.8,1025.7 511.5,1025.7 512.2,1025.7 512.9,1025.7 513.6,1025.8 514.3,1025.7 515.0,1025.6 515.7,1025.6 516.4,1025.7 517.1,1025.6 517.8,1025.6 518.5,1025.6 519.2,1025.6 519.9,1025.8 520.6,1025.8 521.3,1025.7 522.0,1025.8 522.7,1025.7 523.4,1025.8 524.1,1025.7 524.8,1025.6 525.5,1025.8 526.2,1025.8 526.9,1025.8 527.6,1025.8 528.3,1025.6 529.0,1025.7 529.7,1025.8 530.4,1025.7 531.1,1025.5 531.8,1025.6 532.5,1025.7 533.2,1025.8 533.9,1025.5 534.6,1025.7 535.3,1025.6 536.0,1025.6 536.7,1025.8 537.4,1025.8 538.1,1025.6 538.8,1025.7 539.5,1025.6 540.2,1025.7 540.9,1025.7 541.6,1025.6 542.3,1025.7 543.0,1025.7 543.7,1025.6 544.4,1025.7 545.1,1025.8 545.8,1025.7 546.5,1025.7 547.2,1025.6 547.9,1025.8 548.6,1025.6 549.3,1025.8 550.0,1025.7 550.7,1025.6 551.4,1025.7 552.1,1025.7 552.8,1025.8 553.5,1025.6 554.2,1025.8 554.9,1025.7 555.6,1025.8 556.3,1025.5 557.0,1025.7 557.7,1025.7 558.4,1025.8 559.1,1025.6 559.8,1025.6 560.5,1025.7 561.2,1025.7 561.9,1025.8 562.6,1025.7 563.3,1025.7 564.0,1025.7 564.7,1025.8 565.4,1025.6 566.1,1025.6 566.8,1025.7 567.5,1025.8 568.2,1025.5 568.9,1025.7 569.6,1025.8 570.3,1025.6 571.0,1025.7 571.7,1025.7 572.4,1025.5 573.1,1025.8 573.8,1025.7 574.5,1025.7 575.2,1025.7 575.9,1025.8 576.6,1025.5 577.3,1025.6 578.0,1025.8 578.7,1025.6 579.4,1025.5 580.1,1025.7 580.8,1025.6 581.5,1025.5 582.2,1025.6 582.9,1025.8 583.6,1025.7 584.3,1025.7 585.0,1025.8 585.7,1025.5 586.4,1025.7 587.1,1025.8 587.8,1025.6 588.5,1025.7 589.2,1025.7 589.9,1025.5 590.6,1025.7 591.3,1025.7 592.0,1025.8 592.7,1025.6 593.4,1025.5 594.1,1025.6 594.8,1025.7 595.5,1025.7 596.2,1025.7 596.9,1025.6 597.6,1025.6 598.3,1025.8 599.0,1025.4 599.7,1025.7 600.4,1025.7 601.1,1025.6 601.8,1025.8 602.5,1025.6 603.2,1025.7 603.9,1025.8 604.6,1025.8 605.3,1025.8 606.0,1025.7 606.7,1025.6 607.4,1025.7 608.1,1025.6 608.8,1025.6 609.5,1025.7 610.2,1025.7 610.9,1025.8 611.6,1025.7 612.3,1025.8 613.0,1025.8 613.7,1025.8 614.4,1025.7 615.1,1025.5 615.8,1025.8 616.5,1025.6 617.2,1025.6 617.9,1025.8 618.6,1025.7 619.3,1025.7 620.0,1025.6 620.7,1025.4 621.4,1025.8 622.1,1025.5 622.8,1025.7 623.5,1025.6 624.2,1025.8 624.9,1025.6 625.6,1025.6 626.3,1025.7 627.0,1025.7 627.7,1025.7 628.4,1025.8 629.1,1025.8 629.8,1025.5 630.5,1025.7 631.2,1025.6 631.9,1025.5 632.6,1025.8 633.3,1025.5 634.0,1025.7 634.7,1025.7 635.4,1025.5 636.1,1025.7 636.8,1025.7 637.5,1025.5 638.2,1025.8 638.9,1025.8 639.6,1025.5 640.3,1025.6 641.0,1025.7 641.7,1025.8 642.4,1025.5 643.1,1025.7 643.8,1025.7 644.5,1025.7 645.2,1025.8 645.9,1025.7 646.6,1025.7 647.3,1025.8 648.0,1025.5 648.7,1025.8 649.4,1025.7 650.1,1025.7 650.8,1025.4 651.5,1025.7 652.2,1025.7 652.9,1025.8 653.6,1025.7 654.3,1025.8 655.0,1025.5 655.7,1025.7 656.4,1025.7 657.1,1025.7 657.8,1025.7 658.5,1025.7 659.2,1025.5 659.9,1025.7 660.6,1025.7 661.3,1025.6 662.0,1025.5 662.7,1025.7 663.4,1025.8 664.1,1025.8 664.8,1025.7 665.5,1025.7 666.2,1025.7 666.9,1025.5 667.6,1025.8 668.3,1025.5 669.0,1025.6 669.7,1025.7 670.4,1025.7 671.1,1025.8 671.8,1025.5 672.5,1025.8 673.2,1025.7 673.9,1025.5 674.6,1025.7 675.3,1025.7 676.0,1025.8 676.7,1025.8 677.4,1025.7 678.1,1025.5 678.8,1025.6 679.5,1025.7 680.2,1025.8 680.9,1025.6 681.6,1025.7 682.3,1025.7 683.0,1025.7 683.7,1025.5 684.4,1025.8 685.1,1025.8 685.8,1025.6 686.5,1025.5 687.2,1025.7 687.9,1025.7 688.6,1025.7 689.3,1025.7 690.0,1025.4 690.7,1025.6 691.4,1025.5 692.1,1025.6 692.8,1025.7 693.5,1025.7 694.2,1025.6 694.9,1025.7 695.6,1025.7 696.3,1025.8 697.0,1025.5 697.7,1025.6 698.4,1025.7 699.1,1025.7 699.8,1025.6 700.5,1025.8 701.2,1025.8 701.9,1025.7 702.6,1025.7 703.3,1025.8 704.0,1025.8 704.7,1025.7 705.4,1025.7 706.1,1025.7 706.8,1025.8 707.5,1025.5 708.2,1025.6 708.9,1025.8 709.6,1025.5 710.3,1025.7 711.0,1025.5 711.7,1025.6 712.4,1025.7 713.1,1025.6 713.8,1025.7 714.5,1025.6 715.2,1025.6 715.9,1025.8 716.6,1025.7 717.3,1025.6 718.0,1025.7 718.7,1025.6 719.4,1025.8 720.1,1025.8 720.8,1025.7 721.5,1025.7 722.2,1025.6 722.9,1025.6 723.6,1025.8 724.3,1025.6 725.0,1025.7 725.7,1025.7 726.4,1025.7 727.1,1025.6 727.8,1025.7 728.5,1025.7 729.2,1025.7 729.9,1025.7 730.6,1025.8 731.3,1025.8 732.0,1025.6 732.7,1025.8 733.4,1025.6 734.1,1025.2 734.8,1025.7 735.5,1025.8 736.2,1025.6 736.9,1025.6 737.6,1025.5 738.3,1025.7 739.0,1025.8 739.7,1025.6 740.4,1025.6 741.1,1025.6 741.8,1025.7 742.5,1025.7 743.2,1025.6 743.9,1025.6 744.6,1025.7 745.3,1025.7 746.0,1025.8 746.7,1025.8 747.4,1025.7 748.1,1025.8 748.8,1025.6 749.5,1025.8 750.2,1025.6 750.9,1025.6 751.6,1025.7 752.3,1025.7 753.0,1025.6 753.7,1025.5 754.4,1025.6 755.1,1025.7 755.8,1025.8 756.5,1025.6 757.2,1025.7 757.9,1025.7 758.6,1025.7 759.3,1025.4 760.0,1025.7 760.7,1025.8 761.4,1025.7 762.1,1025.6 762.8,1025.7 763.5,1025.6 764.2,1025.8 764.9,1025.6 765.6,1025.7 766.3,1025.6 767.0,1025.6 767.7,1025.7 768.4,1025.6 769.1,1025.7 769.8,1025.7 770.5,1025.8 771.2,1025.6 771.9,1025.7 772.6,1025.5 773.3,1025.5 774.0,1025.7 774.7,1025.7 775.4,1025.7 776.1,1025.8 776.8,1025.6 777.5,1025.7 778.2,1025.7 778.9,1025.7 779.6,1025.7 780.3,1025.6 781.0,1025.6 781.7,1025.7 782.4,1025.7 783.1,1025.6 783.8,1025.6 784.5,1025.7 785.2,1025.7 785.9,1025.6 786.6,1025.8 787.3,1025.5 788.0,1025.6 788.7,1025.7 789.4,1025.7 790.1,1025.6 790.8,1025.7 791.5,1025.7 792.2,1025.7 792.9,1025.7 793.6,1025.7 794.3,1025.8 795.0,1025.6 795.7,1025.7 796.4,1025.7 797.1,1025.8 797.8,1025.8 798.5,1025.6 799.2,1025.6 799.9,1025.7 800.6,1025.6 801.3,1025.7 802.0,1025.8 802.7,1025.8 803.4,1025.7 804.1,1025.7 804.8,1025.6 805.5,1025.7 806.2,1025.8 806.9,1025.8 807.6,1025.5 808.3,1025.7 809.0,1025.7 809.7,1025.7 810.4,1025.7 811.1,1025.8 811.8,1025.8 812.5,1025.5 813.2,1025.5 813.9,1025.6 814.6,1025.7 815.3,1025.7 816.0,1025.8 816.7,1025.7 817.4,1025.8 818.1,1025.7 818.8,1025.6 819.5,1025.6 820.2,1025.7 820.9,1025.6 821.6,1025.7 822.3,1025.6 823.0,1025.7 823.7,1025.6 824.4,1025.8 825.1,1025.7 825.8,1025.7 826.5,1025.7 827.2,1025.5 827.9,1025.5 828.6,1025.8 829.3,1025.6 830.0,1025.6 830.7,1025.8 831.4,1025.5 832.1,1025.6 832.8,1025.7 833.5,1025.6 834.2,1025.6 834.9,1025.7 835.6,1025.7 836.3,1025.8 837.0,1025.7 837.7,1025.7 838.4,1025.7 839.1,1025.8 839.8,1025.5 840.5,1025.7 841.2,1025.4 841.9,1025.7 842.6,1025.8 843.3,1025.7 844.0,1025.8 844.7,1025.7 845.4,1025.6 846.1,1025.7 846.8,1025.7 847.5,1025.8 848.2,1025.6 848.9,1025.6 849.6,1025.4 850.3,1025.7 851.0,1025.7 851.7,1025.7 852.4,1025.7 853.1,1025.8 853.8,1025.7 854.5,1025.5 855.2,1025.8 855.9,1025.8 856.6,1025.6 857.3,1025.7 858.0,1025.7 858.7,1025.7 859.4,1025.8 860.1,1025.7 860.8,1025.7 861.5,1025.5 862.2,1025.7 862.9,1025.8 863.6,1025.7 864.3,1025.8 865.0,1025.7 865.7,1025.7 866.4,1025.5 867.1,1025.7 867.8,1025.6 868.5,1025.8 869.2,1025.7 869.9,1025.7 870.6,1025.6 871.3,1025.4 872.0,1025.8 872.7,1025.8 873.4,1025.8 874.1,1025.3 874.8,1025.6 875.5,1025.8 876.2,1025.7 876.9,1025.7 877.6,1025.6 878.3,1025.6 879.0,1025.7 879.7,1025.6 880.4,1025.5 881.1,1025.7 881.8,1025.7 882.5,1025.6 883.2,1025.8 883.9,1025.7 884.6,1025.8 885.3,1025.7 886.0,1025.6 886.7,1025.7 887.4,1025.6 888.1,1025.7 888.8,1025.7 889.5,1025.8 890.2,1025.7 890.9,1025.7 891.6,1025.4 892.3,1025.8 893.0,1025.7 893.7,1025.6 894.4,1025.7 895.1,1025.8 895.8,1025.8 896.5,1025.7 897.2,1025.7 897.9,1025.7 898.6,1025.8 899.3,1025.7 900.0,1025.7 900.7,1025.7 901.4,1025.3 902.1,1025.7 902.8,1025.7 903.5,1025.8 904.2,1025.8 904.9,1025.7 905.6,1025.7 906.3,1025.8 907.0,1025.8 907.7,1025.5 908.4,1025.7 909.1,1025.8 909.8,1025.6 910.5,1025.7 911.2,1025.5 911.9,1025.7 912.6,1025.7 913.3,1025.8 914.0,1025.6 914.7,1025.7 915.4,1025.8 916.1,1025.7 916.8,1025.7 917.5,1025.8 918.2,1025.8 918.9,1025.8 919.6,1025.7 920.3,1025.7 921.0,1025.8 921.7,1025.7 922.4,1025.6 923.1,1025.6 923.8,1025.8 924.5,1025.8 925.2,1025.8 925.9,1025.8 926.6,1025.8 927.3,1025.8 928.0,1025.7 928.7,1025.7 929.4,1025.7 930.1,1025.6 930.8,1025.5 931.5,1025.6 932.2,1025.6 932.9,1025.8 933.6,1025.7 934.3,1025.7 935.0,1025.6 935.7,1025.8 936.4,1025.5 937.1,1025.7 937.8,1025.7 938.5,1025.7 939.2,1025.7 939.9,1025.7 940.6,1025.6 941.3,1025.7 942.0,1025.5 942.7,1025.4 943.4,1025.6 944.1,1025.8 944.8,1025.7 945.5,1025.7 946.2,1025.6 946.9,1025.6 947.6,1025.8 948.3,1025.5 949.0,1025.8 949.7,1025.4 950.4,1025.7 951.1,1025.7 951.8,1025.8 952.5,1025.6 953.2,1025.8 953.9,1025.6 954.6,1025.8 955.3,1025.7 956.0,1025.7 956.7,1025.7 957.4,1025.6 958.1,1025.7 958.8,1025.8 959.5,1025.7 960.2,1025.7 960.9,1025.8 961.6,1025.7 962.3,1025.8 963.0,1025.7 963.7,1025.7 964.4,1025.8 965.1,1025.7 965.8,1025.7 965.9,1269.0 965.8,1277.1 965.1,1272.8 964.4,1269.2 963.7,1270.7 963.0,1269.4 962.3,1269.6 961.6,1269.0 960.9,1270.8 960.2,1270.9 959.5,1272.2 958.8,1269.2 958.1,1270.4 957.4,1270.5 956.7,1271.1 956.0,1269.0 955.3,1269.5 954.6,1269.2 953.9,1269.8 953.2,1269.7 952.5,1271.9 951.8,1271.4 951.1,1273.5 950.4,1269.6 949.7,1269.8 949.0,1272.2 948.3,1269.1 947.6,1272.6 946.9,1269.4 946.2,1271.9 945.5,1269.6 944.8,1271.5 944.1,1276.8 943.4,1272.0 942.7,1272.9 942.0,1272.9 941.3,1269.6 940.6,1273.1 939.9,1274.1 939.2,1272.0 938.5,1270.4 937.8,1270.5 937.1,1270.2 936.4,1275.9 935.7,1270.0 935.0,1271.1 934.3,1273.8 933.6,1270.4 932.9,1271.4 932.2,1271.4 931.5,1270.0 930.8,1269.2 930.1,1270.1 929.4,1269.6 928.7,1269.7 928.0,1271.9 927.3,1269.2 926.6,1269.6 925.9,1271.4 925.2,1271.9 924.5,1272.1 923.8,1269.1 923.1,1274.7 922.4,1269.9 921.7,1270.2 921.0,1271.2 920.3,1271.4 919.6,1271.1 918.9,1272.6 918.2,1269.8 917.5,1274.4 916.8,1270.5 916.1,1271.0 915.4,1271.0 914.7,1269.7 914.0,1274.0 913.3,1271.0 912.6,1272.4 911.9,1269.7 911.2,1269.9 910.5,1269.6 909.8,1271.2 909.1,1269.3 908.4,1270.0 907.7,1272.0 907.0,1271.5 906.3,1272.8 905.6,1274.1 904.9,1272.5 904.2,1272.7 903.5,1272.8 902.8,1275.8 902.1,1270.1 901.4,1271.5 900.7,1271.8 900.0,1269.4 899.3,1273.4 898.6,1270.3 897.9,1271.9 897.2,1270.2 896.5,1271.1 895.8,1269.6 895.1,1274.3 894.4,1271.2 893.7,1271.1 893.0,1272.2 892.3,1269.8 891.6,1274.2 890.9,1270.0 890.2,1271.7 889.5,1270.2 888.8,1271.9 888.1,1272.4 887.4,1270.1 886.7,1269.3 886.0,1275.8 885.3,1273.6 884.6,1269.5 883.9,1269.5 883.2,1269.9 882.5,1269.7 881.8,1271.5 881.1,1272.0 880.4,1269.4 879.7,1269.1 879.0,1271.5 878.3,1270.0 877.6,1271.2 876.9,1270.7 876.2,1269.9 875.5,1270.1 874.8,1273.7 874.1,1270.1 873.4,1272.2 872.7,1269.5 872.0,1272.9 871.3,1271.5 870.6,1269.9 869.9,1271.6 869.2,1271.0 868.5,1273.5 867.8,1269.4 867.1,1270.2 866.4,1272.8 865.7,1272.4 865.0,1272.2 864.3,1269.1 863.6,1269.8 862.9,1269.6 862.2,1270.4 861.5,1269.4 860.8,1269.9 860.1,1269.6 859.4,1273.3 858.7,1273.2 858.0,1271.2 857.3,1272.7 856.6,1273.0 855.9,1270.5 855.2,1270.4 854.5,1269.7 853.8,1270.5 853.1,1272.6 852.4,1270.8 851.7,1275.3 851.0,1270.2 850.3,1272.0 849.6,1269.1 848.9,1272.2 848.2,1270.2 847.5,1272.6 846.8,1269.7 846.1,1271.1 845.4,1272.5 844.7,1273.6 844.0,1271.6 843.3,1270.9 842.6,1272.1 841.9,1269.7 841.2,1269.9 840.5,1269.1 839.8,1269.2 839.1,1270.8 838.4,1273.0 837.7,1274.8 837.0,1269.5 836.3,1272.2 835.6,1269.4 834.9,1272.5 834.2,1269.5 833.5,1271.5 832.8,1271.7 832.1,1274.2 831.4,1271.9 830.7,1272.7 830.0,1271.9 829.3,1269.2 828.6,1270.6 827.9,1272.8 827.2,1270.1 826.5,1270.6 825.8,1271.0 825.1,1269.8 824.4,1269.6 823.7,1270.6 823.0,1270.0 822.3,1273.2 821.6,1273.4 820.9,1269.7 820.2,1269.7 819.5,1271.7 818.8,1278.2 818.1,1271.1 817.4,1271.7 816.7,1271.9 816.0,1271.0 815.3,1270.1 814.6,1270.5 813.9,1269.5 813.2,1270.1 812.5,1270.4 811.8,1269.6 811.1,1270.8 810.4,1270.1 809.7,1275.1 809.0,1273.4 808.3,1270.3 807.6,1271.9 806.9,1270.7 806.2,1273.1 805.5,1269.8 804.8,1272.1 804.1,1269.6 803.4,1270.4 802.7,1271.9 802.0,1273.1 801.3,1269.6 800.6,1269.1 799.9,1269.2 799.2,1272.5 798.5,1269.1 797.8,1270.2 797.1,1274.2 796.4,1269.4 795.7,1270.0 795.0,1273.3 794.3,1269.8 793.6,1271.5 792.9,1272.0 792.2,1269.4 791.5,1269.5 790.8,1269.7 790.1,1272.2 789.4,1271.5 788.7,1269.2 788.0,1272.3 787.3,1269.2 786.6,1271.5 785.9,1272.5 785.2,1272.7 784.5,1273.8 783.8,1270.5 783.1,1269.0 782.4,1269.7 781.7,1271.0 781.0,1269.9 780.3,1270.4 779.6,1271.2 778.9,1269.3 778.2,1269.6 777.5,1269.3 776.8,1270.6 776.1,1273.1 775.4,1270.3 774.7,1269.2 774.0,1270.3 773.3,1273.6 772.6,1270.0 771.9,1269.1 771.2,1270.0 770.5,1271.7 769.8,1271.9 769.1,1274.2 768.4,1269.6 767.7,1269.1 767.0,1269.4 766.3,1271.6 765.6,1270.4 764.9,1272.8 764.2,1273.0 763.5,1269.1 762.8,1272.2 762.1,1276.2 761.4,1271.9 760.7,1271.1 760.0,1272.5 759.3,1272.1 758.6,1270.7 757.9,1274.0 757.2,1270.6 756.5,1270.8 755.8,1273.8 755.1,1269.2 754.4,1274.7 753.7,1272.1 753.0,1270.0 752.3,1277.7 751.6,1272.3 750.9,1270.5 750.2,1273.0 749.5,1269.5 748.8,1269.6 748.1,1269.9 747.4,1269.2 746.7,1273.8 746.0,1271.3 745.3,1270.6 744.6,1269.4 743.9,1270.8 743.2,1270.6 742.5,1272.4 741.8,1270.3 741.1,1275.2 740.4,1269.3 739.7,1269.2 739.0,1269.1 738.3,1269.8 737.6,1271.6 736.9,1274.1 736.2,1270.2 735.5,1273.6 734.8,1270.3 734.1,1269.6 733.4,1271.3 732.7,1271.2 732.0,1274.5 731.3,1269.8 730.6,1270.1 729.9,1269.3 729.2,1274.8 728.5,1272.4 727.8,1269.9 727.1,1269.6 726.4,1270.0 725.7,1270.5 725.0,1272.5 724.3,1269.1 723.6,1270.7 722.9,1269.2 722.2,1275.0 721.5,1269.8 720.8,1269.8 720.1,1274.0 719.4,1273.9 718.7,1271.9 718.0,1270.6 717.3,1270.2 716.6,1269.7 715.9,1271.8 715.2,1271.7 714.5,1273.9 713.8,1269.3 713.1,1272.3 712.4,1270.2 711.7,1270.1 711.0,1269.3 710.3,1272.5 709.6,1269.9 708.9,1269.3 708.2,1270.0 707.5,1271.0 706.8,1274.7 706.1,1272.5 705.4,1270.1 704.7,1270.3 704.0,1272.8 703.3,1270.0 702.6,1272.3 701.9,1270.0 701.2,1273.7 700.5,1269.8 699.8,1275.0 699.1,1269.1 698.4,1272.7 697.7,1269.2 697.0,1270.4 696.3,1274.2 695.6,1272.0 694.9,1274.9 694.2,1269.9 693.5,1271.1 692.8,1273.0 692.1,1272.4 691.4,1270.1 690.7,1269.7 690.0,1269.4 689.3,1270.9 688.6,1269.1 687.9,1270.5 687.2,1275.6 686.5,1272.6 685.8,1272.7 685.1,1270.2 684.4,1270.5 683.7,1271.1 683.0,1270.8 682.3,1275.7 681.6,1271.7 680.9,1274.2 680.2,1273.6 679.5,1270.3 678.8,1273.2 678.1,1270.3 677.4,1274.2 676.7,1273.4 676.0,1274.5 675.3,1275.3 674.6,1273.6 673.9,1269.3 673.2,1270.7 672.5,1271.1 671.8,1270.0 671.1,1269.3 670.4,1269.1 669.7,1270.5 669.0,1272.5 668.3,1269.8 667.6,1270.4 666.9,1270.3 666.2,1269.4 665.5,1269.9 664.8,1271.0 664.1,1270.1 663.4,1272.8 662.7,1272.2 662.0,1271.9 661.3,1272.4 660.6,1274.4 659.9,1271.9 659.2,1270.0 658.5,1270.7 657.8,1270.1 657.1,1270.2 656.4,1271.1 655.7,1271.1 655.0,1270.4 654.3,1271.0 653.6,1270.6 652.9,1272.9 652.2,1269.4 651.5,1270.2 650.8,1269.9 650.1,1272.2 649.4,1271.5 648.7,1271.4 648.0,1274.2 647.3,1271.2 646.6,1273.9 645.9,1273.9 645.2,1269.8 644.5,1273.5 643.8,1271.2 643.1,1270.0 642.4,1273.6 641.7,1271.5 641.0,1271.7 640.3,1270.8 639.6,1273.3 638.9,1269.4 638.2,1270.9 637.5,1269.1 636.8,1270.0 636.1,1271.7 635.4,1271.2 634.7,1271.9 634.0,1269.5 633.3,1271.8 632.6,1271.9 631.9,1269.7 631.2,1270.8 630.5,1269.4 629.8,1272.4 629.1,1270.1 628.4,1270.7 627.7,1273.8 627.0,1271.4 626.3,1269.5 625.6,1275.1 624.9,1271.3 624.2,1269.3 623.5,1269.2 622.8,1269.4 622.1,1274.3 621.4,1275.4 620.7,1270.4 620.0,1272.0 619.3,1275.3 618.6,1269.4 617.9,1273.8 617.2,1272.4 616.5,1269.0 615.8,1270.4 615.1,1270.9 614.4,1273.2 613.7,1270.9 613.0,1269.2 612.3,1270.1 611.6,1270.3 610.9,1270.1 610.2,1269.1 609.5,1270.3 608.8,1269.5 608.1,1269.0 607.4,1271.9 606.7,1271.7 606.0,1269.3 605.3,1271.3 604.6,1271.2 603.9,1273.1 603.2,1271.8 602.5,1270.0 601.8,1269.5 601.1,1273.4 600.4,1269.4 599.7,1274.0 599.0,1270.3 598.3,1271.1 597.6,1269.3 596.9,1269.9 596.2,1270.8 595.5,1269.0 594.8,1269.2 594.1,1274.9 593.4,1269.1 592.7,1271.2 592.0,1272.3 591.3,1270.6 590.6,1270.0 589.9,1273.7 589.2,1272.3 588.5,1269.4 587.8,1269.7 587.1,1273.6 586.4,1269.8 585.7,1274.6 585.0,1272.2 584.3,1269.7 583.6,1269.1 582.9,1270.0 582.2,1269.7 581.5,1269.0 580.8,1275.8 580.1,1269.4 579.4,1269.2 578.7,1270.1 578.0,1271.5 577.3,1271.2 576.6,1270.3 575.9,1271.9 575.2,1271.2 574.5,1272.3 573.8,1271.4 573.1,1270.1 572.4,1270.3 571.7,1270.9 571.0,1269.9 570.3,1269.2 569.6,1273.3 568.9,1270.0 568.2,1270.8 567.5,1270.2 566.8,1270.4 566.1,1271.3 565.4,1270.2 564.7,1273.9 564.0,1272.5 563.3,1269.3 562.6,1269.6 561.9,1274.9 561.2,1269.1 560.5,1270.4 559.8,1270.6 559.1,1269.9 558.4,1273.1 557.7,1270.8 557.0,1269.6 556.3,1269.9 555.6,1271.8 554.9,1270.5 554.2,1270.0 553.5,1269.7 552.8,1271.7 552.1,1275.1 551.4,1274.8 550.7,1270.5 550.0,1271.0 549.3,1271.3 548.6,1269.1 547.9,1270.1 547.2,1269.9 546.5,1271.3 545.8,1271.2 545.1,1269.0 544.4,1269.9 543.7,1271.1 543.0,1272.8 542.3,1273.5 541.6,1272.5 540.9,1270.3 540.2,1271.7 539.5,1272.1 538.8,1269.9 538.1,1272.1 537.4,1269.0 536.7,1269.2 536.0,1271.8 535.3,1275.4 534.6,1272.4 533.9,1269.9 533.2,1271.8 532.5,1275.2 531.8,1270.8 531.1,1272.3 530.4,1272.8 529.7,1272.3 529.0,1269.4 528.3,1273.2 527.6,1273.2 526.9,1270.5 526.2,1272.2 525.5,1270.2 524.8,1270.4 524.1,1270.6 523.4,1273.2 522.7,1271.2 522.0,1270.0 521.3,1272.6 520.6,1269.3 519.9,1269.7 519.2,1274.0 518.5,1273.1 517.8,1271.2 517.1,1274.0 516.4,1271.3 515.7,1269.2 515.0,1271.4 514.3,1270.3 513.6,1270.5 512.9,1269.9 512.2,1269.1 511.5,1270.5 510.8,1269.7 510.1,1270.6 509.4,1273.1 508.7,1270.9 508.0,1271.5 507.3,1269.2 506.6,1273.4 505.9,1274.6 505.2,1269.9 504.5,1271.8 503.8,1271.2 503.1,1272.3 502.4,1270.3 501.7,1270.3 501.0,1269.4 500.3,1272.4 499.6,1269.7 498.9,1271.2 498.2,1269.2 497.5,1269.9 496.8,1269.9 496.1,1269.7 495.4,1271.7 494.7,1269.6 494.0,1277.7 493.3,1269.2 492.6,1269.9 491.9,1270.1 491.2,1269.4 490.5,1276.4 489.8,1270.5 489.1,1272.7 488.4,1274.3 487.7,1269.1 487.0,1272.7 486.3,1271.4 485.6,1269.1 484.9,1274.0 484.2,1273.6 483.5,1270.6 482.8,1269.8 482.1,1270.5 481.4,1274.1 480.7,1274.1 480.0,1270.6 479.3,1277.5 478.6,1269.7 477.9,1269.0 477.2,1272.2 476.5,1272.0 475.8,1271.7 475.1,1274.1 474.4,1272.5 473.7,1271.3 473.0,1271.6 472.3,1271.7 471.6,1269.0 470.9,1275.1 470.2,1270.1 469.5,1269.3 468.8,1269.5 468.1,1270.3 467.4,1271.6 466.7,1269.3 466.0,1272.4 465.3,1271.1 464.6,1273.3 463.9,1270.4 463.2,1271.9 462.5,1275.5 461.8,1273.1 461.1,1270.2 460.4,1271.1 459.7,1269.2 459.0,1270.6 458.3,1270.5 457.6,1269.0 456.9,1272.9 456.2,1269.5 455.5,1271.1 454.8,1271.0 454.1,1274.5 453.4,1269.9 452.7,1270.7 452.0,1270.1 451.3,1272.3 450.6,1273.9 449.9,1271.0 449.2,1270.6 448.5,1270.8 447.8,1271.4 447.1,1270.1 446.4,1271.2 445.7,1270.3 445.0,1273.2 444.3,1271.5 443.6,1272.4 442.9,1269.3 442.2,1270.2 441.5,1269.9 440.8,1274.3 440.1,1273.4 439.4,1272.1 438.7,1272.8 438.0,1270.6 437.3,1275.4 436.6,1270.2 435.9,1270.6 435.2,1269.4 434.5,1272.7 433.8,1271.5 433.1,1270.4 432.4,1272.5 431.7,1271.0 431.0,1270.7 430.3,1270.1 429.6,1270.2 428.9,1269.6 428.2,1270.3 427.5,1272.0 426.8,1274.3 426.1,1274.1 425.4,1271.0 424.7,1272.4 424.0,1271.6 423.3,1270.9 422.6,1272.3 421.9,1274.2 421.2,1273.4 420.5,1274.0 419.8,1270.2 419.1,1270.1 418.4,1269.4 417.7,1271.1 417.0,1274.3 416.3,1270.6 415.6,1271.0 414.9,1270.7 414.2,1270.1 413.5,1271.8 412.8,1272.1 412.1,1269.7 411.4,1269.2 410.7,1274.5 410.0,1271.5 409.3,1269.8 408.6,1273.9 407.9,1273.3 407.2,1270.8 406.5,1272.0 405.8,1269.9 405.1,1273.3 404.4,1269.1 403.7,1272.3 403.0,1269.7 402.3,1271.4 401.6,1269.7 400.9,1274.0 400.2,1270.5 399.5,1270.0 398.8,1274.9 398.1,1271.1 397.4,1269.4 396.7,1269.0 396.0,1269.7 395.3,1274.2 394.6,1273.1 393.9,1273.7 393.2,1270.3 392.5,1269.0 391.8,1272.2 391.1,1271.0 390.4,1271.3 389.7,1272.4 389.0,1271.4 388.3,1271.3 387.6,1270.7 386.9,1270.6 386.2,1273.5 385.5,1271.5 384.8,1270.4 384.1,1271.6 383.4,1269.7 382.7,1269.9 382.0,1269.7 381.3,1271.6 380.6,1270.1 379.9,1269.1 379.2,1270.5 378.5,1269.4 377.8,1272.4 377.1,1270.2 376.4,1269.9 375.7,1269.7 375.0,1271.0 374.3,1270.4 373.6,1273.8 372.9,1269.4 372.2,1271.9 371.5,1272.5 370.8,1275.2 370.1,1276.2 369.4,1270.6 368.7,1270.3 368.0,1269.7 367.3,1272.4 366.6,1270.1 365.9,1272.8 365.2,1273.6 364.5,1272.7 363.8,1273.5 363.1,1271.6 362.4,1272.4 361.7,1270.5 361.0,1270.5 360.3,1273.7 359.6,1269.6 358.9,1269.3 358.2,1272.2 357.5,1272.4 356.8,1269.9 356.1,1270.4 355.4,1272.9 354.7,1272.5 354.0,1272.0 353.3,1270.3 352.6,1270.2 351.9,1271.5 351.2,1269.4 350.5,1269.8 349.8,1271.4 349.1,1272.0 348.4,1274.2 347.7,1269.2 347.0,1271.0 346.3,1273.3 345.6,1271.7 344.9,1272.6 344.2,1273.8 343.5,1273.8 342.8,1271.1 342.1,1272.2 341.4,1269.1 340.7,1270.1 340.0,1269.2 339.3,1269.6 338.6,1269.6 337.9,1272.6 337.2,1271.1 336.5,1269.5 335.8,1270.9 335.1,1269.4 334.4,1271.5 333.7,1269.6 333.0,1272.1 332.3,1275.7 331.6,1269.5 330.9,1269.5 330.2,1272.2 329.5,1271.9 328.8,1270.6 328.1,1270.3 327.4,1269.5 326.7,1269.5 326.0,1271.7 325.3,1271.1 324.6,1270.3 323.9,1270.8 323.2,1274.8 322.5,1269.6 321.8,1269.1 321.1,1270.0 320.4,1270.4 319.7,1271.4 319.0,1270.1 318.3,1271.3 317.6,1272.9 316.9,1270.4 316.2,1270.5 315.5,1272.0 314.8,1269.2 314.1,1270.1 313.4,1270.0 312.7,1271.6 312.0,1274.1 311.3,1270.1 310.6,1278.1 309.9,1271.0 309.2,1270.4 308.5,1269.1 307.8,1270.8 307.1,1274.4 306.4,1269.2 305.7,1269.5 305.0,1273.8 304.3,1272.9 303.6,1269.3 302.9,1271.5 302.2,1269.5 301.5,1274.1 300.8,1269.9 300.1,1277.8 299.4,1271.3 298.7,1270.6 298.0,1269.0 297.3,1270.4 296.6,1271.6 295.9,1269.8 295.2,1271.3 294.5,1269.4 293.8,1271.5 293.1,1269.1 292.4,1272.5 291.7,1273.8 291.0,1269.5 290.3,1273.8 289.6,1269.3 288.9,1269.1 288.2,1269.8 287.5,1271.5 286.8,1271.2 286.1,1269.2 285.4,1269.9 284.7,1272.9 284.0,1269.5 283.3,1271.1 282.6,1271.1 281.9,1270.2 281.2,1273.6 280.5,1272.6 279.8,1269.2 279.1,1269.6 278.4,1271.4 277.7,1269.4 277.0,1271.1 276.3,1270.4 275.6,1271.2 274.9,1269.9 274.2,1272.3 273.5,1269.4 272.8,1274.8 272.1,1270.0 271.4,1272.1 270.7,1270.1 270.0,1271.8 269.3,1269.2 268.6,1270.3 267.9,1270.1 267.2,1273.2 266.5,1274.0 265.8,1272.9 265.1,1272.0 264.4,1270.2 263.7,1272.2 263.0,1272.3 262.3,1270.5 261.6,1270.2 260.9,1271.6 260.2,1271.6 259.5,1271.9 258.8,1272.6 258.1,1271.9 257.4,1269.9 256.7,1272.5 256.0,1273.3 255.3,1275.5 254.6,1274.6 253.9,1270.5 253.2,1273.4 252.5,1269.6 251.8,1271.0 251.1,1269.2 250.4,1270.2 249.7,1271.2 249.0,1272.4 248.3,1269.3 247.6,1270.1 246.9,1274.0 246.2,1274.7 245.5,1269.6 244.8,1271.0 244.1,1271.4 243.4,1271.3 242.7,1270.9 242.0,1269.6 241.3,1269.1 240.6,1270.5 239.9,1272.7 239.2,1270.6 238.5,1269.3 237.8,1273.1 237.1,1271.7 236.4,1271.0 235.7,1273.2 235.0,1272.3 234.3,1272.2 233.6,1273.5 232.9,1271.0 232.2,1270.7 231.5,1271.7 230.8,1270.9 230.1,1271.8 229.4,1274.6 228.7,1270.6 228.0,1275.3 227.3,1271.7 226.6,1269.9 225.9,1271.5 225.2,1270.6 224.5,1271.3 223.8,1271.7 223.1,1275.1 222.4,1272.1 221.7,1272.9 221.0,1275.0 220.3,1269.3 219.6,1269.9 218.9,1269.9 218.2,1269.3 217.5,1271.5 216.8,1270.1 216.1,1269.2 215.4,1272.8 214.7,1273.0 214.0,1270.4 213.3,1269.8 212.6,1272.3 211.9,1270.9 211.2,1272.9 210.5,1270.4 209.8,1272.9 209.1,1269.7 208.4,1269.3 207.7,1270.5 207.0,1272.1 206.3,1269.6 205.6,1271.4 204.9,1272.6 204.2,1270.8 203.5,1272.9 202.8,1270.6 202.1,1270.8 201.4,1275.6 200.7,1273.3 200.0,1272.8 199.3,1270.3 198.6,1269.5 197.9,1270.2 197.2,1271.5 196.5,1270.1 195.8,1271.7 195.1,1271.4 194.4,1269.3 193.7,1269.7 193.0,1270.5 192.3,1273.6 191.6,1273.0 190.9,1269.8 190.2,1273.9 189.5,1270.8 188.8,1271.0 188.1,1272.8 187.4,1274.1 186.7,1269.4 186.0,1269.3 185.3,1269.8 184.6,1270.6 183.9,1271.1 183.2,1271.7 182.5,1270.7 181.8,1270.0 181.1,1271.3 180.4,1274.1 179.7,1269.9 179.0,1269.2 178.3,1270.5 177.6,1272.0 176.9,1269.8 176.2,1271.9 175.5,1270.9 174.8,1273.1 174.1,1269.3 173.4,1271.6 172.7,1270.3 172.0,1272.4 171.3,1273.2 170.6,1272.5 169.9,1270.7 169.2,1272.3 168.5,1271.6 167.8,1269.6 167.1,1269.6 166.4,1270.7 165.7,1275.5 165.0,1270.5 164.3,1270.2 163.6,1271.4 162.9,1271.4 162.2,1271.8 161.5,1271.0 160.8,1273.8 160.1,1271.7 159.4,1272.2 158.7,1271.4 158.0,1269.7 157.3,1273.4 156.6,1269.1 155.9,1269.5 155.2,1269.3 154.5,1270.1 153.8,1270.2 153.1,1273.9 152.4,1272.2 151.7,1269.1 151.0,1273.6 150.3,1269.8 149.6,1270.9 148.9,1271.4 148.2,1269.7 147.5,1269.7 146.8,1269.5 146.1,1271.2 145.4,1271.1 144.7,1273.6 144.0,1270.1 143.3,1269.2 142.6,1269.8 141.9,1270.2 141.2,1270.5 140.5,1269.2 139.8,1269.7 139.1,1270.4 138.4,1269.7 137.7,1270.2 137.0,1270.8 136.3,1272.2 135.6,1269.8 134.9,1272.0 134.2,1269.4 133.5,1273.6 132.8,1270.0 132.1,1273.3 131.4,1270.3 130.7,1271.0 130.0,1271.1 129.3,1270.5 128.6,1270.2" fill="#0072BD" fill-opacity="0.3"/><polygon points="128.6,1025.8 128.6,1025.8 129.3,1025.7 130.0,1025.7 130.7,1025.7 131.4,1025.7 132.1,1025.7 132.8,1025.8 133.5,1025.8 134.2,1025.7 134.9,1025.7 135.6,1025.8 136.3,1025.8 137.0,1025.7 137.7,1025.6 138.4,1025.8 139.1,1025.8 139.8,1025.8 140.5,1025.8 141.2,1025.8 141.9,1025.7 142.6,1025.6 143.3,1025.6 144.0,1025.8 144.7,1025.8 145.4,1025.8 146.1,1025.7 146.8,1025.8 147.5,1025.8 148.2,1025.7 148.9,1025.8 149.6,1025.8 150.3,1025.8 151.0,1025.7 151.7,1025.7 152.4,1025.8 153.1,1025.7 153.8,1025.8 154.5,1025.8 155.2,1025.8 155.9,1025.7 156.6,1025.7 157.3,1025.7 158.0,1025.8 158.7,1025.7 159.4,1025.7 160.1,1025.8 160.8,1025.8 161.5,1025.7 162.2,1025.6 162.9,1025.7 163.6,1025.7 164.3,1025.7 165.0,1025.6 165.7,1025.8 166.4,1025.7 167.1,1025.6 167.8,1025.6 168.5,1025.8 169.2,1025.8 169.9,1025.7 170.6,1025.7 171.3,1025.7 172.0,1025.7 172.7,1025.7 173.4,1025.8 174.1,1025.7 174.8,1025.7 175.5,1025.7 176.2,1025.7 176.9,1025.8 177.6,1025.8 178.3,1025.7 179.0,1025.8 179.7,1025.6 180.4,1025.8 181.1,1025.8 181.8,1025.7 182.5,1025.8 183.2,1025.8 183.9,1025.8 184.6,1025.7 185.3,1025.7 186.0,1025.7 186.7,1025.7 187.4,1025.8 188.1,1025.7 188.8,1025.6 189.5,1025.6 190.2,1025.7 190.9,1025.8 191.6,1025.7 192.3,1025.7 193.0,1025.8 193.7,1025.8 194.4,1025.7 195.1,1025.7 195.8,1025.7 196.5,1025.8 197.2,1025.6 197.9,1025.7 198.6,1025.8 199.3,1025.8 200.0,1025.8 200.7,1025.7 201.4,1025.8 202.1,1025.7 202.8,1025.6 203.5,1025.8 204.2,1025.8 204.9,1025.7 205.6,1025.7 206.3,1025.7 207.0,1025.7 207.7,1025.7 208.4,1025.8 209.1,1025.8 209.8,1025.8 210.5,1025.7 211.2,1025.8 211.9,1025.7 212.6,1025.8 213.3,1025.6 214.0,1025.7 214.7,1025.8 215.4,1025.7 216.1,1025.7 216.8,1025.6 217.5,1025.6 218.2,1025.7 218.9,1025.7 219.6,1025.8 220.3,1025.7 221.0,1025.8 221.7,1025.8 222.4,1025.8 223.1,1025.7 223.8,1025.7 224.5,1025.8 225.2,1025.7 225.9,1025.8 226.6,1025.7 227.3,1025.7 228.0,1025.7 228.7,1025.7 229.4,1025.7 230.1,1025.7 230.8,1025.7 231.5,1025.7 232.2,1025.8 232.9,1025.7 233.6,1025.6 234.3,1025.8 235.0,1025.8 235.7,1025.7 236.4,1025.6 237.1,1025.8 237.8,1025.7 238.5,1025.7 239.2,1025.7 239.9,1025.7 240.6,1025.7 241.3,1025.8 242.0,1025.8 242.7,1025.8 243.4,1025.8 244.1,1025.7 244.8,1025.7 245.5,1025.7 246.2,1025.8 246.9,1025.7 247.6,1025.8 248.3,1025.7 249.0,1025.7 249.7,1025.7 250.4,1025.6 251.1,1025.8 251.8,1025.7 252.5,1025.7 253.2,1025.6 253.9,1025.7 254.6,1025.7 255.3,1025.7 256.0,1025.7 256.7,1025.6 257.4,1025.7 258.1,1025.8 258.8,1025.7 259.5,1025.8 260.2,1025.7 260.9,1025.6 261.6,1025.7 262.3,1025.7 263.0,1025.7 263.7,1025.7 264.4,1025.8 265.1,1025.7 265.8,1025.7 266.5,1025.8 267.2,1025.7 267.9,1025.8 268.6,1025.7 269.3,1025.6 270.0,1025.7 270.7,1025.7 271.4,1025.5 272.1,1025.7 272.8,1025.7 273.5,1025.8 274.2,1025.8 274.9,1025.7 275.6,1025.8 276.3,1025.6 277.0,1025.8 277.7,1025.7 278.4,1025.7 279.1,1025.8 279.8,1025.8 280.5,1025.8 281.2,1025.7 281.9,1025.8 282.6,1025.7 283.3,1025.8 284.0,1025.7 284.7,1025.7 285.4,1025.7 286.1,1025.8 286.8,1025.8 287.5,1025.7 288.2,1025.8 288.9,1025.7 289.6,1025.8 290.3,1025.7 291.0,1025.7 291.7,1025.7 292.4,1025.8 293.1,1025.7 293.8,1025.7 294.5,1025.8 295.2,1025.7 295.9,1025.7 296.6,1025.8 297.3,1025.8 298.0,1025.7 298.7,1025.8 299.4,1025.8 300.1,1025.7 300.8,1025.7 301.5,1025.6 302.2,1025.7 302.9,1025.7 303.6,1025.8 304.3,1025.7 305.0,1025.7 305.7,1025.8 306.4,1025.7 307.1,1025.8 307.8,1025.7 308.5,1025.7 309.2,1025.7 309.9,1025.7 310.6,1025.8 311.3,1025.8 312.0,1025.7 312.7,1025.7 313.4,1025.8 314.1,1025.7 314.8,1025.7 315.5,1025.8 316.2,1025.8 316.9,1025.6 317.6,1025.8 318.3,1025.7 319.0,1025.8 319.7,1025.8 320.4,1025.7 321.1,1025.7 321.8,1025.8 322.5,1025.7 323.2,1025.7 323.9,1025.7 324.6,1025.8 325.3,1025.8 326.0,1025.8 326.7,1025.8 327.4,1025.8 328.1,1025.7 328.8,1025.7 329.5,1025.8 330.2,1025.7 330.9,1025.7 331.6,1025.7 332.3,1025.7 333.0,1025.7 333.7,1025.8 334.4,1025.8 335.1,1025.7 335.8,1025.6 336.5,1025.7 337.2,1025.7 337.9,1025.8 338.6,1025.8 339.3,1025.7 340.0,1025.7 340.7,1025.7 341.4,1025.8 342.1,1025.8 342.8,1025.7 343.5,1025.7 344.2,1025.8 344.9,1025.8 345.6,1025.8 346.3,1025.6 347.0,1025.8 347.7,1025.8 348.4,1025.6 349.1,1025.8 349.8,1025.7 350.5,1025.7 351.2,1025.7 351.9,1025.8 352.6,1025.8 353.3,1025.8 354.0,1025.8 354.7,1025.7 355.4,1025.7 356.1,1025.8 356.8,1025.8 357.5,1025.7 358.2,1025.7 358.9,1025.8 359.6,1025.7 360.3,1025.7 361.0,1025.7 361.7,1025.7 362.4,1025.7 363.1,1025.8 363.8,1025.7 364.5,1025.6 365.2,1025.8 365.9,1025.6 366.6,1025.8 367.3,1025.8 368.0,1025.7 368.7,1025.7 369.4,1025.8 370.1,1025.8 370.8,1025.8 371.5,1025.7 372.2,1025.8 372.9,1025.6 373.6,1025.7 374.3,1025.8 375.0,1025.7 375.7,1025.7 376.4,1025.8 377.1,1025.8 377.8,1025.6 378.5,1025.8 379.2,1025.7 379.9,1025.8 380.6,1025.7 381.3,1025.8 382.0,1025.6 382.7,1025.8 383.4,1025.8 384.1,1025.7 384.8,1025.8 385.5,1025.8 386.2,1025.7 386.9,1025.8 387.6,1025.8 388.3,1025.6 389.0,1025.8 389.7,1025.7 390.4,1025.7 391.1,1025.8 391.8,1025.8 392.5,1025.8 393.2,1025.7 393.9,1025.8 394.6,1025.7 395.3,1025.7 396.0,1025.7 396.7,1025.8 397.4,1025.7 398.1,1025.8 398.8,1025.8 399.5,1025.8 400.2,1025.7 400.9,1025.7 401.6,1025.8 402.3,1025.8 403.0,1025.8 403.7,1025.6 404.4,1025.8 405.1,1025.7 405.8,1025.7 406.5,1025.7 407.2,1025.7 407.9,1025.7 408.6,1025.8 409.3,1025.7 410.0,1025.8 410.7,1025.7 411.4,1025.7 412.1,1025.7 412.8,1025.8 413.5,1025.6 414.2,1025.8 414.9,1025.6 415.6,1025.6 416.3,1025.7 417.0,1025.8 417.7,1025.7 418.4,1025.8 419.1,1025.8 419.8,1025.8 420.5,1025.7 421.2,1025.7 421.9,1025.8 422.6,1025.8 423.3,1025.8 424.0,1025.8 424.7,1025.7 425.4,1025.8 426.1,1025.8 426.8,1025.7 427.5,1025.7 428.2,1025.6 428.9,1025.8 429.6,1025.7 430.3,1025.7 431.0,1025.8 431.7,1025.5 432.4,1025.8 433.1,1025.7 433.8,1025.8 434.5,1025.7 435.2,1025.7 435.9,1025.8 436.6,1025.6 437.3,1025.7 438.0,1025.8 438.7,1025.7 439.4,1025.7 440.1,1025.7 440.8,1025.8 441.5,1025.6 442.2,1025.6 442.9,1025.8 443.6,1025.8 444.3,1025.8 445.0,1025.6 445.7,1025.8 446.4,1025.7 447.1,1025.7 447.8,1025.8 448.5,1025.8 449.2,1025.7 449.9,1025.8 450.6,1025.7 451.3,1025.7 452.0,1025.8 452.7,1025.7 453.4,1025.7 454.1,1025.7 454.8,1025.8 455.5,1025.7 456.2,1025.8 456.9,1025.8 457.6,1025.7 458.3,1025.8 459.0,1025.7 459.7,1025.8 460.4,1025.8 461.1,1025.7 461.8,1025.8 462.5,1025.7 463.2,1025.7 463.9,1025.8 464.6,1025.8 465.3,1025.7 466.0,1025.8 466.7,1025.7 467.4,1025.7 468.1,1025.7 468.8,1025.7 469.5,1025.6 470.2,1025.7 470.9,1025.8 471.6,1025.7 472.3,1025.8 473.0,1025.7 473.7,1025.8 474.4,1025.8 475.1,1025.8 475.8,1025.8 476.5,1025.7 477.2,1025.7 477.9,1025.7 478.6,1025.8 479.3,1025.8 480.0,1025.6 480.7,1025.6 481.4,1025.7 482.1,1025.6 482.8,1025.8 483.5,1025.8 484.2,1025.5 484.9,1025.8 485.6,1025.6 486.3,1025.7 487.0,1025.8 487.7,1025.8 488.4,1025.7 489.1,1025.8 489.8,1025.8 490.5,1025.8 491.2,1025.7 491.9,1025.7 492.6,1025.8 493.3,1025.8 494.0,1025.7 494.7,1025.8 495.4,1025.8 496.1,1025.8 496.8,1025.7 497.5,1025.8 498.2,1025.8 498.9,1025.7 499.6,1025.7 500.3,1025.8 501.0,1025.7 501.7,1025.8 502.4,1025.7 503.1,1025.7 503.8,1025.7 504.5,1025.7 505.2,1025.7 505.9,1025.7 506.6,1025.8 507.3,1025.6 508.0,1025.6 508.7,1025.8 509.4,1025.8 510.1,1025.7 510.8,1025.8 511.5,1025.6 512.2,1025.7 512.9,1025.7 513.6,1025.8 514.3,1025.7 515.0,1025.7 515.7,1025.8 516.4,1025.7 517.1,1025.7 517.8,1025.7 518.5,1025.8 519.2,1025.8 519.9,1025.8 520.6,1025.8 521.3,1025.7 522.0,1025.7 522.7,1025.8 523.4,1025.8 524.1,1025.8 524.8,1025.7 525.5,1025.6 526.2,1025.8 526.9,1025.7 527.6,1025.8 528.3,1025.7 529.0,1025.6 529.7,1025.6 530.4,1025.8 531.1,1025.7 531.8,1025.8 532.5,1025.6 533.2,1025.8 533.9,1025.7 534.6,1025.8 535.3,1025.7 536.0,1025.7 536.7,1025.8 537.4,1025.8 538.1,1025.6 538.8,1025.8 539.5,1025.7 540.2,1025.7 540.9,1025.7 541.6,1025.7 542.3,1025.7 543.0,1025.6 543.7,1025.7 544.4,1025.7 545.1,1025.7 545.8,1025.8 546.5,1025.8 547.2,1025.8 547.9,1025.7 548.6,1025.7 549.3,1025.8 550.0,1025.7 550.7,1025.8 551.4,1025.7 552.1,1025.8 552.8,1025.8 553.5,1025.7 554.2,1025.7 554.9,1025.6 555.6,1025.7 556.3,1025.7 557.0,1025.7 557.7,1025.8 558.4,1025.8 559.1,1025.7 559.8,1025.8 560.5,1025.7 561.2,1025.8 561.9,1025.8 562.6,1025.7 563.3,1025.8 564.0,1025.8 564.7,1025.6 565.4,1025.7 566.1,1025.8 566.8,1025.8 567.5,1025.7 568.2,1025.8 568.9,1025.8 569.6,1025.7 570.3,1025.7 571.0,1025.7 571.7,1025.8 572.4,1025.8 573.1,1025.8 573.8,1025.8 574.5,1025.8 575.2,1025.8 575.9,1025.7 576.6,1025.8 577.3,1025.7 578.0,1025.7 578.7,1025.7 579.4,1025.7 580.1,1025.7 580.8,1025.8 581.5,1025.8 582.2,1025.7 582.9,1025.7 583.6,1025.7 584.3,1025.7 585.0,1025.7 585.7,1025.8 586.4,1025.8 587.1,1025.8 587.8,1025.7 588.5,1025.7 589.2,1025.7 589.9,1025.7 590.6,1025.7 591.3,1025.7 592.0,1025.7 592.7,1025.8 593.4,1025.8 594.1,1025.8 594.8,1025.8 595.5,1025.7 596.2,1025.7 596.9,1025.7 597.6,1025.7 598.3,1025.7 599.0,1025.7 599.7,1025.6 600.4,1025.7 601.1,1025.8 601.8,1025.7 602.5,1025.7 603.2,1025.8 603.9,1025.7 604.6,1025.7 605.3,1025.8 606.0,1025.8 606.7,1025.7 607.4,1025.7 608.1,1025.7 608.8,1025.8 609.5,1025.8 610.2,1025.8 610.9,1025.8 611.6,1025.8 612.3,1025.7 613.0,1025.8 613.7,1025.7 614.4,1025.8 615.1,1025.7 615.8,1025.7 616.5,1025.8 617.2,1025.8 617.9,1025.8 618.6,1025.8 619.3,1025.7 620.0,1025.8 620.7,1025.7 621.4,1025.7 622.1,1025.7 622.8,1025.7 623.5,1025.8 624.2,1025.8 624.9,1025.7 625.6,1025.7 626.3,1025.8 627.0,1025.6 627.7,1025.8 628.4,1025.7 629.1,1025.7 629.8,1025.8 630.5,1025.7 631.2,1025.8 631.9,1025.8 632.6,1025.7 633.3,1025.7 634.0,1025.8 634.7,1025.8 635.4,1025.7 636.1,1025.8 636.8,1025.8 637.5,1025.8 638.2,1025.7 638.9,1025.8 639.6,1025.7 640.3,1025.8 641.0,1025.8 641.7,1025.8 642.4,1025.6 643.1,1025.7 643.8,1025.8 644.5,1025.7 645.2,1025.7 645.9,1025.8 646.6,1025.8 647.3,1025.8 648.0,1025.7 648.7,1025.7 649.4,1025.8 650.1,1025.8 650.8,1025.6 651.5,1025.8 652.2,1025.7 652.9,1025.7 653.6,1025.8 654.3,1025.7 655.0,1025.7 655.7,1025.7 656.4,1025.7 657.1,1025.8 657.8,1025.6 658.5,1025.7 659.2,1025.7 659.9,1025.8 660.6,1025.8 661.3,1025.7 662.0,1025.7 662.7,1025.7 663.4,1025.8 664.1,1025.8 664.8,1025.8 665.5,1025.7 666.2,1025.7 666.9,1025.7 667.6,1025.8 668.3,1025.7 669.0,1025.8 669.7,1025.8 670.4,1025.7 671.1,1025.7 671.8,1025.7 672.5,1025.6 673.2,1025.8 673.9,1025.7 674.6,1025.7 675.3,1025.7 676.0,1025.7 676.7,1025.8 677.4,1025.7 678.1,1025.7 678.8,1025.8 679.5,1025.8 680.2,1025.7 680.9,1025.8 681.6,1025.8 682.3,1025.7 683.0,1025.8 683.7,1025.8 684.4,1025.8 685.1,1025.8 685.8,1025.8 686.5,1025.7 687.2,1025.7 687.9,1025.7 688.6,1025.7 689.3,1025.8 690.0,1025.7 690.7,1025.8 691.4,1025.8 692.1,1025.7 692.8,1025.8 693.5,1025.8 694.2,1025.7 694.9,1025.7 695.6,1025.7 696.3,1025.7 697.0,1025.7 697.7,1025.8 698.4,1025.7 699.1,1025.7 699.8,1025.6 700.5,1025.7 701.2,1025.8 701.9,1025.8 702.6,1025.8 703.3,1025.7 704.0,1025.8 704.7,1025.8 705.4,1025.7 706.1,1025.6 706.8,1025.8 707.5,1025.8 708.2,1025.7 708.9,1025.8 709.6,1025.7 710.3,1025.6 711.0,1025.7 711.7,1025.7 712.4,1025.6 713.1,1025.8 713.8,1025.7 714.5,1025.6 715.2,1025.7 715.9,1025.8 716.6,1025.6 717.3,1025.7 718.0,1025.7 718.7,1025.7 719.4,1025.7 720.1,1025.8 720.8,1025.7 721.5,1025.8 722.2,1025.8 722.9,1025.8 723.6,1025.8 724.3,1025.8 725.0,1025.7 725.7,1025.8 726.4,1025.6 727.1,1025.6 727.8,1025.7 728.5,1025.7 729.2,1025.7 729.9,1025.7 730.6,1025.8 731.3,1025.7 732.0,1025.7 732.7,1025.8 733.4,1025.7 734.1,1025.8 734.8,1025.8 735.5,1025.7 736.2,1025.8 736.9,1025.8 737.6,1025.7 738.3,1025.7 739.0,1025.8 739.7,1025.7 740.4,1025.7 741.1,1025.7 741.8,1025.7 742.5,1025.7 743.2,1025.7 743.9,1025.7 744.6,1025.8 745.3,1025.7 746.0,1025.7 746.7,1025.8 747.4,1025.8 748.1,1025.7 748.8,1025.8 749.5,1025.7 750.2,1025.8 750.9,1025.8 751.6,1025.6 752.3,1025.8 753.0,1025.7 753.7,1025.6 754.4,1025.7 755.1,1025.8 755.8,1025.7 756.5,1025.8 757.2,1025.7 757.9,1025.7 758.6,1025.7 759.3,1025.7 760.0,1025.8 760.7,1025.7 761.4,1025.7 762.1,1025.7 762.8,1025.8 763.5,1025.8 764.2,1025.7 764.9,1025.7 765.6,1025.8 766.3,1025.7 767.0,1025.8 767.7,1025.7 768.4,1025.8 769.1,1025.7 769.8,1025.7 770.5,1025.7 771.2,1025.8 771.9,1025.8 772.6,1025.7 773.3,1025.7 774.0,1025.6 774.7,1025.8 775.4,1025.7 776.1,1025.7 776.8,1025.7 777.5,1025.7 778.2,1025.8 778.9,1025.7 779.6,1025.7 780.3,1025.7 781.0,1025.7 781.7,1025.7 782.4,1025.8 783.1,1025.6 783.8,1025.7 784.5,1025.7 785.2,1025.7 785.9,1025.8 786.6,1025.8 787.3,1025.7 788.0,1025.8 788.7,1025.8 789.4,1025.8 790.1,1025.8 790.8,1025.8 791.5,1025.7 792.2,1025.8 792.9,1025.7 793.6,1025.6 794.3,1025.7 795.0,1025.8 795.7,1025.7 796.4,1025.8 797.1,1025.7 797.8,1025.7 798.5,1025.7 799.2,1025.8 799.9,1025.8 800.6,1025.8 801.3,1025.7 802.0,1025.8 802.7,1025.8 803.4,1025.7 804.1,1025.8 804.8,1025.7 805.5,1025.7 806.2,1025.8 806.9,1025.6 807.6,1025.7 808.3,1025.7 809.0,1025.8 809.7,1025.6 810.4,1025.8 811.1,1025.7 811.8,1025.8 812.5,1025.8 813.2,1025.8 813.9,1025.6 814.6,1025.7 815.3,1025.7 816.0,1025.7 816.7,1025.7 817.4,1025.8 818.1,1025.7 818.8,1025.7 819.5,1025.7 820.2,1025.7 820.9,1025.7 821.6,1025.7 822.3,1025.8 823.0,1025.7 823.7,1025.7 824.4,1025.7 825.1,1025.8 825.8,1025.7 826.5,1025.8 827.2,1025.7 827.9,1025.8 828.6,1025.8 829.3,1025.7 830.0,1025.7 830.7,1025.7 831.4,1025.8 832.1,1025.7 832.8,1025.7 833.5,1025.7 834.2,1025.7 834.9,1025.7 835.6,1025.6 836.3,1025.8 837.0,1025.8 837.7,1025.7 838.4,1025.7 839.1,1025.8 839.8,1025.6 840.5,1025.7 841.2,1025.7 841.9,1025.8 842.6,1025.7 843.3,1025.7 844.0,1025.8 844.7,1025.8 845.4,1025.8 846.1,1025.7 846.8,1025.7 847.5,1025.7 848.2,1025.8 848.9,1025.8 849.6,1025.7 850.3,1025.7 851.0,1025.7 851.7,1025.8 852.4,1025.7 853.1,1025.7 853.8,1025.7 854.5,1025.7 855.2,1025.7 855.9,1025.8 856.6,1025.7 857.3,1025.8 858.0,1025.7 858.7,1025.8 859.4,1025.8 860.1,1025.7 860.8,1025.7 861.5,1025.8 862.2,1025.8 862.9,1025.6 863.6,1025.8 864.3,1025.8 865.0,1025.8 865.7,1025.7 866.4,1025.7 867.1,1025.7 867.8,1025.7 868.5,1025.7 869.2,1025.6 869.9,1025.8 870.6,1025.8 871.3,1025.8 872.0,1025.7 872.7,1025.8 873.4,1025.7 874.1,1025.8 874.8,1025.8 875.5,1025.7 876.2,1025.7 876.9,1025.7 877.6,1025.8 878.3,1025.8 879.0,1025.8 879.7,1025.8 880.4,1025.7 881.1,1025.5 881.8,1025.8 882.5,1025.7 883.2,1025.7 883.9,1025.7 884.6,1025.8 885.3,1025.7 886.0,1025.8 886.7,1025.7 887.4,1025.8 888.1,1025.8 888.8,1025.8 889.5,1025.8 890.2,1025.7 890.9,1025.8 891.6,1025.7 892.3,1025.8 893.0,1025.7 893.7,1025.7 894.4,1025.8 895.1,1025.6 895.8,1025.7 896.5,1025.7 897.2,1025.8 897.9,1025.8 898.6,1025.6 899.3,1025.7 900.0,1025.8 900.7,1025.8 901.4,1025.8 902.1,1025.8 902.8,1025.7 903.5,1025.8 904.2,1025.7 904.9,1025.8 905.6,1025.7 906.3,1025.8 907.0,1025.8 907.7,1025.8 908.4,1025.8 909.1,1025.8 909.8,1025.6 910.5,1025.7 911.2,1025.7 911.9,1025.8 912.6,1025.8 913.3,1025.6 914.0,1025.8 914.7,1025.8 915.4,1025.7 916.1,1025.7 916.8,1025.8 917.5,1025.7 918.2,1025.6 918.9,1025.7 919.6,1025.8 920.3,1025.7 921.0,1025.8 921.7,1025.8 922.4,1025.7 923.1,1025.7 923.8,1025.7 924.5,1025.7 925.2,1025.7 925.9,1025.8 926.6,1025.6 927.3,1025.8 928.0,1025.7 928.7,1025.8 929.4,1025.8 930.1,1025.8 930.8,1025.8 931.5,1025.7 932.2,1025.7 932.9,1025.8 933.6,1025.7 934.3,1025.7 935.0,1025.8 935.7,1025.7 936.4,1025.7 937.1,1025.7 937.8,1025.8 938.5,1025.8 939.2,1025.8 939.9,1025.8 940.6,1025.6 941.3,1025.8 942.0,1025.6 942.7,1025.8 943.4,1025.8 944.1,1025.8 944.8,1025.6 945.5,1025.7 946.2,1025.8 946.9,1025.8 947.6,1025.7 948.3,1025.8 949.0,1025.8 949.7,1025.7 950.4,1025.8 951.1,1025.7 951.8,1025.8 952.5,1025.7 953.2,1025.8 953.9,1025.7 954.6,1025.8 955.3,1025.8 956.0,1025.8 956.7,1025.7 957.4,1025.7 958.1,1025.8 958.8,1025.7 959.5,1025.8 960.2,1025.8 960.9,1025.6 961.6,1025.8 962.3,1025.7 963.0,1025.8 963.7,1025.8 964.4,1025.8 965.1,1025.7 965.8,1025.7 965.9,1269.0 965.8,1270.6 965.1,1270.2 964.4,1270.3 963.7,1272.7 963.0,1274.2 962.3,1269.3 961.6,1270.7 960.9,1270.2 960.2,1270.1 959.5,1270.9 958.8,1269.7 958.1,1269.6 957.4,1269.2 956.7,1269.9 956.0,1271.7 955.3,1273.0 954.6,1269.2 953.9,1271.4 953.2,1269.3 952.5,1271.6 951.8,1271.7 951.1,1269.3 950.4,1272.6 949.7,1271.0 949.0,1269.3 948.3,1270.7 947.6,1269.7 946.9,1270.5 946.2,1271.2 945.5,1269.1 944.8,1270.9 944.1,1269.1 943.4,1269.9 942.7,1269.9 942.0,1269.0 941.3,1269.9 940.6,1269.3 939.9,1271.7 939.2,1269.6 938.5,1269.9 937.8,1269.3 937.1,1270.4 936.4,1271.9 935.7,1271.6 935.0,1270.7 934.3,1272.1 933.6,1270.7 932.9,1270.2 932.2,1269.9 931.5,1269.5 930.8,1269.7 930.1,1269.8 929.4,1272.0 928.7,1272.6 928.0,1269.7 927.3,1269.8 926.6,1270.8 925.9,1269.7 925.2,1269.6 924.5,1269.3 923.8,1269.1 923.1,1270.0 922.4,1273.1 921.7,1269.3 921.0,1269.3 920.3,1272.9 919.6,1269.2 918.9,1269.4 918.2,1270.4 917.5,1269.4 916.8,1269.7 916.1,1269.8 915.4,1270.5 914.7,1270.9 914.0,1269.3 913.3,1273.1 912.6,1271.3 911.9,1270.0 911.2,1269.4 910.5,1269.2 909.8,1269.6 909.1,1269.7 908.4,1270.0 907.7,1270.9 907.0,1271.5 906.3,1269.3 905.6,1269.0 904.9,1269.2 904.2,1269.3 903.5,1269.3 902.8,1270.0 902.1,1269.6 901.4,1270.3 900.7,1269.7 900.0,1269.4 899.3,1270.3 898.6,1269.8 897.9,1269.3 897.2,1269.3 896.5,1270.7 895.8,1269.3 895.1,1270.4 894.4,1269.5 893.7,1270.2 893.0,1269.2 892.3,1271.3 891.6,1270.2 890.9,1270.2 890.2,1272.2 889.5,1269.3 888.8,1269.2 888.1,1271.2 887.4,1269.6 886.7,1271.9 886.0,1270.2 885.3,1271.4 884.6,1269.3 883.9,1270.4 883.2,1270.3 882.5,1270.7 881.8,1270.2 881.1,1270.7 880.4,1271.2 879.7,1269.3 879.0,1272.3 878.3,1269.6 877.6,1269.8 876.9,1269.6 876.2,1270.6 875.5,1270.1 874.8,1271.8 874.1,1269.4 873.4,1270.1 872.7,1269.5 872.0,1269.4 871.3,1269.5 870.6,1269.7 869.9,1270.7 869.2,1270.4 868.5,1270.5 867.8,1271.2 867.1,1269.3 866.4,1269.5 865.7,1270.4 865.0,1272.0 864.3,1270.1 863.6,1270.0 862.9,1272.0 862.2,1272.6 861.5,1269.4 860.8,1270.1 860.1,1270.9 859.4,1271.8 858.7,1271.1 858.0,1271.4 857.3,1270.5 856.6,1271.7 855.9,1270.5 855.2,1270.6 854.5,1270.4 853.8,1270.3 853.1,1269.4 852.4,1270.0 851.7,1269.4 851.0,1270.9 850.3,1271.6 849.6,1270.2 848.9,1269.8 848.2,1271.5 847.5,1272.6 846.8,1271.2 846.1,1269.4 845.4,1273.1 844.7,1269.2 844.0,1270.1 843.3,1270.5 842.6,1271.7 841.9,1269.0 841.2,1269.3 840.5,1269.2 839.8,1269.3 839.1,1270.9 838.4,1271.3 837.7,1270.3 837.0,1271.4 836.3,1269.1 835.6,1270.2 834.9,1269.1 834.2,1269.2 833.5,1270.4 832.8,1269.4 832.1,1269.9 831.4,1271.8 830.7,1273.4 830.0,1269.3 829.3,1270.9 828.6,1270.4 827.9,1270.5 827.2,1271.1 826.5,1270.8 825.8,1269.5 825.1,1270.7 824.4,1270.3 823.7,1269.2 823.0,1270.0 822.3,1272.0 821.6,1270.6 820.9,1269.7 820.2,1272.3 819.5,1270.1 818.8,1269.3 818.1,1269.8 817.4,1269.2 816.7,1269.0 816.0,1270.3 815.3,1272.4 814.6,1269.4 813.9,1269.9 813.2,1269.6 812.5,1270.3 811.8,1270.1 811.1,1270.3 810.4,1269.8 809.7,1269.4 809.0,1269.3 808.3,1269.2 807.6,1269.2 806.9,1271.0 806.2,1272.0 805.5,1270.5 804.8,1270.0 804.1,1269.1 803.4,1270.7 802.7,1270.9 802.0,1269.9 801.3,1271.1 800.6,1269.1 799.9,1269.0 799.2,1269.7 798.5,1272.9 797.8,1270.8 797.1,1269.8 796.4,1269.6 795.7,1270.2 795.0,1269.4 794.3,1270.2 793.6,1269.6 792.9,1271.7 792.2,1269.3 791.5,1269.9 790.8,1269.5 790.1,1269.4 789.4,1269.3 788.7,1270.1 788.0,1269.5 787.3,1270.0 786.6,1269.5 785.9,1271.4 785.2,1272.4 784.5,1269.4 783.8,1270.0 783.1,1270.8 782.4,1270.5 781.7,1269.3 781.0,1269.2 780.3,1271.4 779.6,1269.6 778.9,1270.8 778.2,1269.2 777.5,1270.5 776.8,1271.9 776.1,1273.2 775.4,1270.1 774.7,1269.6 774.0,1269.3 773.3,1271.1 772.6,1270.9 771.9,1270.2 771.2,1269.5 770.5,1270.8 769.8,1270.2 769.1,1269.3 768.4,1271.6 767.7,1270.9 767.0,1270.7 766.3,1270.4 765.6,1271.9 764.9,1269.2 764.2,1272.4 763.5,1270.1 762.8,1270.7 762.1,1269.7 761.4,1271.6 760.7,1270.0 760.0,1269.3 759.3,1269.3 758.6,1270.6 757.9,1270.1 757.2,1269.2 756.5,1269.0 755.8,1272.6 755.1,1270.2 754.4,1269.7 753.7,1270.6 753.0,1269.5 752.3,1269.8 751.6,1271.3 750.9,1271.3 750.2,1272.8 749.5,1271.5 748.8,1269.8 748.1,1270.4 747.4,1271.5 746.7,1271.4 746.0,1270.3 745.3,1271.1 744.6,1269.4 743.9,1270.4 743.2,1269.7 742.5,1270.2 741.8,1269.8 741.1,1270.9 740.4,1270.9 739.7,1269.1 739.0,1269.1 738.3,1271.0 737.6,1269.6 736.9,1270.0 736.2,1269.7 735.5,1270.5 734.8,1269.9 734.1,1269.8 733.4,1270.2 732.7,1271.9 732.0,1269.6 731.3,1272.4 730.6,1271.3 729.9,1270.0 729.2,1269.5 728.5,1270.1 727.8,1269.9 727.1,1271.4 726.4,1270.5 725.7,1269.8 725.0,1270.1 724.3,1269.1 723.6,1270.3 722.9,1270.1 722.2,1269.4 721.5,1271.6 720.8,1270.8 720.1,1269.2 719.4,1269.5 718.7,1269.5 718.0,1269.8 717.3,1270.6 716.6,1270.2 715.9,1272.6 715.2,1270.6 714.5,1269.0 713.8,1270.8 713.1,1269.3 712.4,1269.2 711.7,1270.6 711.0,1269.7 710.3,1273.3 709.6,1269.0 708.9,1270.5 708.2,1269.8 707.5,1270.3 706.8,1269.6 706.1,1271.4 705.4,1269.8 704.7,1270.5 704.0,1269.5 703.3,1269.5 702.6,1271.1 701.9,1269.2 701.2,1269.1 700.5,1270.3 699.8,1270.8 699.1,1270.0 698.4,1269.2 697.7,1269.8 697.0,1271.9 696.3,1271.0 695.6,1270.7 694.9,1270.1 694.2,1270.0 693.5,1269.5 692.8,1269.7 692.1,1270.0 691.4,1269.1 690.7,1269.0 690.0,1269.7 689.3,1269.2 688.6,1269.6 687.9,1271.7 687.2,1270.1 686.5,1270.0 685.8,1272.5 685.1,1270.3 684.4,1270.3 683.7,1270.8 683.0,1269.9 682.3,1269.5 681.6,1271.1 680.9,1269.4 680.2,1271.3 679.5,1269.8 678.8,1269.1 678.1,1270.2 677.4,1269.3 676.7,1270.0 676.0,1269.6 675.3,1271.8 674.6,1269.6 673.9,1271.4 673.2,1270.7 672.5,1273.0 671.8,1270.4 671.1,1269.8 670.4,1269.3 669.7,1270.2 669.0,1269.0 668.3,1269.5 667.6,1270.9 666.9,1270.7 666.2,1269.3 665.5,1269.4 664.8,1269.0 664.1,1274.5 663.4,1270.7 662.7,1271.0 662.0,1270.8 661.3,1269.7 660.6,1270.6 659.9,1269.3 659.2,1269.4 658.5,1272.4 657.8,1270.1 657.1,1270.3 656.4,1269.9 655.7,1269.1 655.0,1269.4 654.3,1271.1 653.6,1269.9 652.9,1270.9 652.2,1269.3 651.5,1270.2 650.8,1270.6 650.1,1269.8 649.4,1269.1 648.7,1269.4 648.0,1269.9 647.3,1269.2 646.6,1269.9 645.9,1269.6 645.2,1269.1 644.5,1270.2 643.8,1269.0 643.1,1269.8 642.4,1271.3 641.7,1269.2 641.0,1269.6 640.3,1273.4 639.6,1270.0 638.9,1269.9 638.2,1269.4 637.5,1271.7 636.8,1270.1 636.1,1271.1 635.4,1270.8 634.7,1269.8 634.0,1272.8 633.3,1270.0 632.6,1269.6 631.9,1270.8 631.2,1270.7 630.5,1273.5 629.8,1269.2 629.1,1269.4 628.4,1269.6 627.7,1270.6 627.0,1269.2 626.3,1270.6 625.6,1271.4 624.9,1270.4 624.2,1269.3 623.5,1269.2 622.8,1269.2 622.1,1269.7 621.4,1270.0 620.7,1270.5 620.0,1269.3 619.3,1269.7 618.6,1270.7 617.9,1269.1 617.2,1270.2 616.5,1270.1 615.8,1269.0 615.1,1269.6 614.4,1269.2 613.7,1269.2 613.0,1270.2 612.3,1270.0 611.6,1270.3 610.9,1269.3 610.2,1269.9 609.5,1269.2 608.8,1270.3 608.1,1271.9 607.4,1269.6 606.7,1269.7 606.0,1272.9 605.3,1269.0 604.6,1270.5 603.9,1269.2 603.2,1269.9 602.5,1272.8 601.8,1269.5 601.1,1269.6 600.4,1269.5 599.7,1269.1 599.0,1269.1 598.3,1271.7 597.6,1271.1 596.9,1271.8 596.2,1270.6 595.5,1270.4 594.8,1269.5 594.1,1272.2 593.4,1269.4 592.7,1269.8 592.0,1271.6 591.3,1269.8 590.6,1269.5 589.9,1272.2 589.2,1269.0 588.5,1269.1 587.8,1270.3 587.1,1270.2 586.4,1269.2 585.7,1269.8 585.0,1271.1 584.3,1269.3 583.6,1270.2 582.9,1272.3 582.2,1271.8 581.5,1270.0 580.8,1269.6 580.1,1270.0 579.4,1269.9 578.7,1269.6 578.0,1269.9 577.3,1272.4 576.6,1271.1 575.9,1269.3 575.2,1269.6 574.5,1271.6 573.8,1269.3 573.1,1270.5 572.4,1269.0 571.7,1269.9 571.0,1269.3 570.3,1271.2 569.6,1271.2 568.9,1272.5 568.2,1272.8 567.5,1269.2 566.8,1271.3 566.1,1271.5 565.4,1272.5 564.7,1271.8 564.0,1271.2 563.3,1270.1 562.6,1269.1 561.9,1270.9 561.2,1271.3 560.5,1270.3 559.8,1269.0 559.1,1270.5 558.4,1269.9 557.7,1269.5 557.0,1270.0 556.3,1269.0 555.6,1269.0 554.9,1272.2 554.2,1270.0 553.5,1269.4 552.8,1271.9 552.1,1269.8 551.4,1271.3 550.7,1269.6 550.0,1270.8 549.3,1269.8 548.6,1270.4 547.9,1269.1 547.2,1271.1 546.5,1270.4 545.8,1269.8 545.1,1269.9 544.4,1269.4 543.7,1270.7 543.0,1269.3 542.3,1271.4 541.6,1270.2 540.9,1269.5 540.2,1270.9 539.5,1269.0 538.8,1270.3 538.1,1269.3 537.4,1270.1 536.7,1271.3 536.0,1270.1 535.3,1269.8 534.6,1270.6 533.9,1269.8 533.2,1271.9 532.5,1270.5 531.8,1271.3 531.1,1270.2 530.4,1270.9 529.7,1269.1 529.0,1270.4 528.3,1271.3 527.6,1270.5 526.9,1270.8 526.2,1270.9 525.5,1269.5 524.8,1270.5 524.1,1269.4 523.4,1270.6 522.7,1270.8 522.0,1271.2 521.3,1270.8 520.6,1269.9 519.9,1269.1 519.2,1270.4 518.5,1270.4 517.8,1271.0 517.1,1271.2 516.4,1271.0 515.7,1270.1 515.0,1271.0 514.3,1271.8 513.6,1271.0 512.9,1269.9 512.2,1270.5 511.5,1270.7 510.8,1270.4 510.1,1269.4 509.4,1270.1 508.7,1270.9 508.0,1272.5 507.3,1269.4 506.6,1269.3 505.9,1269.2 505.2,1269.2 504.5,1269.6 503.8,1269.2 503.1,1270.9 502.4,1269.7 501.7,1270.1 501.0,1270.3 500.3,1269.9 499.6,1269.1 498.9,1270.0 498.2,1270.7 497.5,1269.8 496.8,1270.4 496.1,1270.6 495.4,1270.6 494.7,1270.8 494.0,1271.1 493.3,1270.0 492.6,1269.1 491.9,1272.3 491.2,1270.4 490.5,1270.2 489.8,1269.2 489.1,1272.3 488.4,1269.7 487.7,1270.7 487.0,1269.6 486.3,1269.8 485.6,1269.6 484.9,1274.2 484.2,1271.7 483.5,1270.5 482.8,1269.3 482.1,1270.7 481.4,1269.2 480.7,1269.8 480.0,1270.7 479.3,1271.5 478.6,1270.0 477.9,1271.1 477.2,1270.2 476.5,1271.3 475.8,1269.8 475.1,1269.2 474.4,1270.1 473.7,1272.8 473.0,1271.4 472.3,1271.1 471.6,1270.7 470.9,1272.7 470.2,1271.2 469.5,1270.8 468.8,1269.8 468.1,1270.9 467.4,1272.1 466.7,1270.4 466.0,1270.2 465.3,1270.6 464.6,1269.7 463.9,1269.4 463.2,1270.5 462.5,1269.5 461.8,1269.9 461.1,1269.7 460.4,1269.4 459.7,1269.8 459.0,1270.4 458.3,1270.7 457.6,1271.5 456.9,1271.9 456.2,1269.8 455.5,1270.5 454.8,1270.7 454.1,1273.2 453.4,1269.8 452.7,1270.1 452.0,1270.5 451.3,1271.1 450.6,1270.4 449.9,1271.3 449.2,1269.9 448.5,1271.4 447.8,1270.1 447.1,1270.5 446.4,1269.8 445.7,1270.7 445.0,1271.6 444.3,1269.8 443.6,1270.0 442.9,1271.5 442.2,1269.4 441.5,1271.7 440.8,1269.5 440.1,1272.1 439.4,1272.1 438.7,1271.4 438.0,1270.7 437.3,1269.3 436.6,1269.6 435.9,1269.1 435.2,1271.6 434.5,1273.0 433.8,1269.3 433.1,1271.9 432.4,1271.0 431.7,1269.2 431.0,1271.2 430.3,1271.0 429.6,1273.3 428.9,1269.5 428.2,1270.2 427.5,1269.3 426.8,1271.1 426.1,1272.2 425.4,1270.4 424.7,1272.6 424.0,1269.7 423.3,1269.9 422.6,1271.2 421.9,1270.3 421.2,1269.5 420.5,1269.8 419.8,1270.8 419.1,1270.7 418.4,1269.1 417.7,1270.7 417.0,1269.5 416.3,1269.0 415.6,1269.1 414.9,1270.6 414.2,1273.3 413.5,1269.3 412.8,1269.4 412.1,1270.9 411.4,1271.0 410.7,1269.2 410.0,1269.2 409.3,1270.8 408.6,1269.7 407.9,1273.2 407.2,1269.3 406.5,1273.6 405.8,1271.3 405.1,1269.7 404.4,1271.2 403.7,1269.2 403.0,1269.9 402.3,1270.2 401.6,1269.5 400.9,1270.5 400.2,1270.9 399.5,1272.2 398.8,1271.1 398.1,1270.5 397.4,1270.7 396.7,1270.6 396.0,1269.7 395.3,1270.4 394.6,1270.4 393.9,1270.8 393.2,1269.0 392.5,1269.4 391.8,1270.4 391.1,1269.6 390.4,1270.1 389.7,1270.0 389.0,1270.2 388.3,1269.9 387.6,1270.1 386.9,1270.4 386.2,1269.8 385.5,1270.0 384.8,1270.6 384.1,1271.2 383.4,1271.6 382.7,1270.2 382.0,1269.7 381.3,1269.1 380.6,1269.2 379.9,1271.0 379.2,1269.4 378.5,1270.0 377.8,1271.8 377.1,1269.9 376.4,1269.7 375.7,1272.0 375.0,1270.7 374.3,1270.5 373.6,1269.8 372.9,1269.4 372.2,1270.2 371.5,1271.6 370.8,1270.4 370.1,1270.1 369.4,1269.7 368.7,1269.2 368.0,1272.6 367.3,1269.3 366.6,1270.1 365.9,1271.8 365.2,1269.9 364.5,1271.0 363.8,1271.4 363.1,1269.9 362.4,1270.5 361.7,1270.2 361.0,1269.1 360.3,1271.2 359.6,1272.0 358.9,1269.8 358.2,1270.7 357.5,1269.5 356.8,1270.5 356.1,1270.5 355.4,1271.6 354.7,1269.9 354.0,1270.1 353.3,1270.8 352.6,1271.4 351.9,1271.6 351.2,1269.5 350.5,1270.0 349.8,1269.6 349.1,1269.0 348.4,1271.3 347.7,1270.1 347.0,1270.1 346.3,1271.3 345.6,1271.9 344.9,1269.8 344.2,1270.2 343.5,1271.2 342.8,1270.1 342.1,1269.2 341.4,1271.3 340.7,1269.3 340.0,1270.2 339.3,1271.1 338.6,1269.0 337.9,1270.2 337.2,1269.2 336.5,1269.7 335.8,1269.4 335.1,1269.1 334.4,1269.9 333.7,1271.2 333.0,1269.2 332.3,1269.1 331.6,1270.4 330.9,1271.4 330.2,1269.7 329.5,1269.3 328.8,1269.3 328.1,1270.5 327.4,1271.4 326.7,1271.9 326.0,1269.3 325.3,1270.0 324.6,1271.8 323.9,1271.2 323.2,1269.4 322.5,1270.1 321.8,1271.2 321.1,1270.9 320.4,1270.6 319.7,1269.5 319.0,1270.4 318.3,1269.2 317.6,1271.2 316.9,1270.2 316.2,1269.1 315.5,1270.3 314.8,1270.3 314.1,1272.6 313.4,1269.2 312.7,1270.3 312.0,1270.3 311.3,1270.0 310.6,1269.4 309.9,1269.6 309.2,1269.1 308.5,1270.4 307.8,1269.6 307.1,1270.7 306.4,1270.4 305.7,1272.3 305.0,1271.9 304.3,1269.2 303.6,1271.3 302.9,1269.4 302.2,1269.1 301.5,1269.4 300.8,1269.3 300.1,1271.6 299.4,1271.0 298.7,1271.3 298.0,1271.6 297.3,1271.9 296.6,1270.6 295.9,1269.1 295.2,1271.1 294.5,1271.1 293.8,1270.1 293.1,1270.9 292.4,1269.0 291.7,1269.9 291.0,1270.2 290.3,1270.3 289.6,1270.9 288.9,1269.3 288.2,1272.2 287.5,1271.9 286.8,1269.0 286.1,1272.5 285.4,1269.3 284.7,1270.7 284.0,1269.9 283.3,1273.0 282.6,1270.2 281.9,1269.1 281.2,1269.4 280.5,1269.4 279.8,1269.9 279.1,1269.5 278.4,1271.5 277.7,1270.0 277.0,1269.8 276.3,1269.8 275.6,1269.3 274.9,1271.8 274.2,1270.2 273.5,1270.3 272.8,1269.2 272.1,1269.4 271.4,1270.2 270.7,1269.7 270.0,1271.5 269.3,1269.6 268.6,1269.1 267.9,1269.7 267.2,1269.9 266.5,1270.4 265.8,1269.6 265.1,1271.1 264.4,1270.2 263.7,1269.8 263.0,1269.2 262.3,1269.0 261.6,1270.8 260.9,1269.8 260.2,1269.2 259.5,1269.4 258.8,1269.0 258.1,1269.6 257.4,1269.2 256.7,1269.3 256.0,1269.1 255.3,1270.8 254.6,1269.9 253.9,1269.7 253.2,1271.8 252.5,1270.5 251.8,1272.2 251.1,1270.4 250.4,1270.0 249.7,1269.2 249.0,1270.4 248.3,1270.8 247.6,1269.9 246.9,1269.3 246.2,1270.2 245.5,1270.4 244.8,1269.5 244.1,1270.4 243.4,1269.5 242.7,1270.4 242.0,1270.1 241.3,1269.1 240.6,1269.3 239.9,1270.6 239.2,1269.3 238.5,1269.4 237.8,1269.9 237.1,1270.3 236.4,1269.7 235.7,1269.6 235.0,1269.3 234.3,1270.3 233.6,1271.2 232.9,1270.6 232.2,1271.6 231.5,1270.2 230.8,1270.1 230.1,1271.7 229.4,1269.9 228.7,1269.7 228.0,1269.3 227.3,1269.9 226.6,1269.9 225.9,1270.5 225.2,1271.1 224.5,1269.8 223.8,1269.0 223.1,1271.4 222.4,1269.0 221.7,1270.5 221.0,1270.8 220.3,1270.2 219.6,1270.3 218.9,1270.0 218.2,1269.8 217.5,1269.3 216.8,1270.7 216.1,1270.7 215.4,1272.1 214.7,1269.3 214.0,1270.6 213.3,1271.6 212.6,1270.0 211.9,1269.8 211.2,1269.3 210.5,1269.0 209.8,1269.6 209.1,1269.7 208.4,1270.5 207.7,1270.2 207.0,1270.8 206.3,1272.7 205.6,1269.0 204.9,1269.7 204.2,1269.4 203.5,1272.4 202.8,1272.0 202.1,1269.7 201.4,1269.7 200.7,1269.6 200.0,1271.2 199.3,1269.4 198.6,1269.9 197.9,1270.0 197.2,1270.0 196.5,1270.6 195.8,1270.3 195.1,1269.2 194.4,1270.1 193.7,1270.2 193.0,1269.4 192.3,1270.0 191.6,1269.9 190.9,1269.3 190.2,1270.6 189.5,1269.7 188.8,1270.1 188.1,1272.1 187.4,1270.1 186.7,1270.6 186.0,1271.0 185.3,1269.6 184.6,1270.5 183.9,1269.6 183.2,1270.4 182.5,1269.7 181.8,1269.4 181.1,1270.6 180.4,1270.5 179.7,1269.9 179.0,1271.2 178.3,1270.3 177.6,1269.1 176.9,1269.5 176.2,1273.8 175.5,1270.0 174.8,1270.0 174.1,1269.6 173.4,1269.9 172.7,1271.1 172.0,1269.8 171.3,1270.8 170.6,1269.5 169.9,1269.4 169.2,1269.5 168.5,1269.4 167.8,1270.0 167.1,1270.0 166.4,1269.2 165.7,1269.7 165.0,1271.1 164.3,1269.8 163.6,1270.6 162.9,1271.2 162.2,1270.8 161.5,1271.2 160.8,1269.7 160.1,1270.2 159.4,1270.2 158.7,1269.1 158.0,1270.4 157.3,1270.0 156.6,1269.2 155.9,1270.2 155.2,1269.3 154.5,1269.1 153.8,1271.5 153.1,1270.7 152.4,1269.3 151.7,1271.5 151.0,1271.5 150.3,1269.6 149.6,1270.2 148.9,1269.2 148.2,1272.7 147.5,1270.9 146.8,1269.8 146.1,1270.0 145.4,1269.1 144.7,1270.4 144.0,1269.1 143.3,1269.5 142.6,1271.0 141.9,1270.3 141.2,1269.9 140.5,1270.0 139.8,1272.0 139.1,1272.9 138.4,1269.0 137.7,1273.1 137.0,1269.7 136.3,1269.8 135.6,1270.2 134.9,1270.7 134.2,1269.4 133.5,1269.1 132.8,1269.3 132.1,1269.2 131.4,1269.5 130.7,1269.5 130.0,1269.8 129.3,1270.6 128.6,1270.2" fill="#0072BD" fill-opacity="1.0"/><text transform="translate(129.2 1336.8) scale(1 1.09)" font-size="30" fill="#262626" text-anchor="middle" >0</text><text transform="translate(337.6 1336.8) scale(1 1.09)" font-size="30" fill="#262626" text-anchor="middle" >500</text><text transform="translate(546.1 1336.8) scale(1 1.09)" font-size="30" fill="#262626" text-anchor="middle" >1000</text><text transform="translate(754.5 1336.8) scale(1 1.09)" font-size="30" fill="#262626" text-anchor="middle" >1500</text><text transform="translate(962.9 1336.8) scale(1 1.09)" font-size="30" fill="#262626" text-anchor="middle" >2000</text><text transform="translate(120.2 1311.7) scale(1 1.09)" font-size="30" fill="#262626" text-anchor="end" >-0.5</text><text transform="translate(120.2 1159.0) scale(1 1.09)" font-size="30" fill="#262626" text-anchor="end" >0</text><text transform="translate(120.2 1006.4) scale(1 1.09)" font-size="30" fill="#262626" text-anchor="end" >0.5</text><text x="547.5" y="1375.0" font-size="33" fill="#262626" text-anchor="middle" >Time (μs)</text><text x="57.5" y="1146.5" font-size="34.5" fill="#262626" text-anchor="middle" transform="rotate(-90 57.5 1146.5)">Volts (V)</text><text x="547.0" y="981.6" font-size="33" fill="#000" text-anchor="middle" >Camera Raw Data</text><text x="7.0" y="980.0" font-size="61" fill="#000" text-anchor="start" >b</text><rect x="215.2" y="1026.2" width="731.7" height="239.29999999999995" fill="#fff" stroke="#000" stroke-width="3.4" stroke-linejoin="round"/><polyline points="268.50,1153.6 269.35,1168.6 269.91,1177.0 270.36,1174.7 271.00,1130.2 271.70,1083.4 272.40,1080.1 273.04,1076.1 273.68,1073.9 274.32,1075.3 274.95,1076.0 275.59,1073.1 276.23,1070.3 276.87,1070.5 277.51,1074.7 278.15,1072.2 278.78,1068.9 279.42,1071.6 280.06,1069.8 280.70,1068.0 281.15,1086.3 281.60,1130.2 282.22,1168.3 282.63,1178.8 284.00,1130.2 284.56,1083.9 284.94,1074.6 286.00,1130.2 286.62,1167.2 287.04,1176.4 288.40,1130.2 289.09,1087.9 289.55,1072.6 290.40,1130.2 291.27,1170.6 291.85,1178.8 292.30,1177.8 292.90,1130.2 293.43,1095.5 293.78,1080.6 294.50,1130.2 295.20,1170.8 295.90,1172.8 296.54,1175.2 297.19,1193.3 297.83,1178.1 298.47,1177.7 299.11,1177.7 299.76,1180.8 300.40,1178.7 300.85,1168.3 301.30,1130.2 301.90,1091.8 302.30,1083.4 303.30,1130.2 303.85,1164.8 304.22,1176.4 305.30,1130.2 306.00,1090.4 306.70,1088.6 307.40,1082.1 308.10,1075.4 308.80,1082.0 309.25,1092.8 309.70,1130.2 310.40,1170.8 311.10,1174.5 311.71,1173.6 312.31,1178.6 312.92,1176.7 313.53,1178.8 314.14,1178.5 314.74,1182.7 315.35,1181.5 315.96,1184.8 316.56,1181.9 317.17,1190.9 317.78,1182.3 318.39,1179.9 318.99,1180.8 319.60,1183.3 320.05,1168.3 320.50,1130.2 321.20,1084.4 321.90,1081.0 322.54,1079.3 323.19,1075.8 323.83,1074.9 324.47,1074.8 325.11,1074.1 325.76,1072.1 326.40,1068.2 326.85,1087.2 327.30,1130.2 328.00,1170.6 328.70,1170.5 329.55,1173.8 330.40,1186.0 330.85,1168.0 331.30,1130.2 332.00,1085.9 332.70,1081.0 333.31,1080.9 333.92,1076.6 334.53,1075.0 335.14,1077.4 335.75,1071.4 336.36,1074.9 336.97,1075.2 337.58,1074.3 338.19,1074.9 338.80,1077.2 339.25,1088.6 339.70,1130.2 340.40,1172.8 341.10,1173.1 341.83,1175.3 342.57,1180.0 343.30,1188.7 343.75,1170.1 344.20,1130.2 344.90,1086.7 345.60,1083.1 346.23,1079.9 346.87,1078.4 347.50,1072.4 347.95,1089.4 348.40,1130.2 349.26,1169.8 349.84,1183.8 350.29,1181.6 351.20,1130.2 351.90,1085.5 352.60,1079.9 353.45,1070.0 354.30,1077.6 354.75,1088.3 355.20,1130.2 355.90,1172.3 356.60,1174.8 357.45,1187.0 358.30,1179.2 358.75,1169.7 359.20,1130.2 359.90,1087.6 360.60,1085.2 361.30,1071.6 362.00,1079.6 362.70,1079.6 363.15,1090.2 363.60,1130.2 364.30,1170.0 365.00,1169.8 365.66,1175.2 366.31,1176.1 366.97,1176.0 367.63,1192.0 368.29,1179.1 368.94,1180.1 369.60,1178.7 370.05,1167.5 370.50,1130.2 371.20,1082.1 371.90,1079.4 372.52,1075.9 373.14,1075.1 373.76,1073.2 374.38,1072.4 375.00,1074.2 375.62,1071.8 376.24,1070.7 376.86,1071.5 377.48,1067.0 378.10,1069.6 378.55,1085.1 379.00,1130.2 379.75,1172.2 380.25,1181.5 381.30,1130.2 382.00,1082.5 382.70,1076.2 383.38,1079.0 384.07,1075.7 384.75,1065.2 385.43,1074.2 386.12,1071.4 386.80,1068.0 387.25,1085.5 387.70,1130.2 388.44,1168.5 388.94,1181.5 389.39,1179.3 390.10,1130.2 390.80,1083.6 391.50,1078.8 392.11,1077.0 392.72,1075.1 393.34,1073.8 393.95,1072.0 394.56,1073.4 395.17,1074.5 395.78,1073.5 396.39,1070.7 397.01,1070.3 397.62,1064.4 398.23,1070.9 398.84,1071.0 399.45,1069.2 400.06,1075.3 400.68,1073.6 401.29,1070.4 401.90,1073.6 402.35,1086.5 402.80,1130.2 403.50,1172.6 404.20,1174.1 404.85,1177.3 405.50,1180.9 406.15,1180.8 406.80,1181.4 407.45,1182.2 408.10,1185.8 408.75,1188.7 409.40,1182.1 410.05,1181.5 410.70,1187.7 411.15,1170.0 411.60,1130.2 412.30,1084.8 413.00,1080.7 413.62,1078.9 414.24,1077.9 414.85,1077.6 415.47,1075.7 416.09,1073.0 416.71,1075.0 417.32,1074.4 417.94,1077.0 418.56,1073.7 419.18,1071.3 419.79,1071.8 420.41,1076.0 421.03,1072.6 421.65,1070.0 422.26,1072.5 422.88,1073.5 423.50,1075.5 423.95,1087.7 424.40,1130.2 425.10,1171.5 425.80,1175.1 426.47,1175.4 427.13,1178.2 427.80,1185.4 428.25,1168.9 428.70,1130.2 429.40,1085.0 430.10,1083.3 430.83,1079.3 431.57,1069.2 432.30,1075.4 432.75,1087.8 433.20,1130.2 433.90,1170.0 434.60,1170.4 435.22,1174.6 435.83,1192.0 436.45,1182.3 437.07,1178.1 437.68,1181.1 438.30,1181.6 438.75,1167.5 439.20,1130.2 439.90,1084.4 440.60,1083.1 441.26,1074.5 441.91,1076.5 442.57,1076.6 443.23,1070.3 443.89,1071.9 444.54,1069.0 445.20,1072.9 445.65,1087.3 446.10,1130.2 446.80,1176.0 447.50,1178.4 448.20,1183.5 448.90,1191.0 449.60,1184.9 450.05,1173.1 450.50,1130.2 451.20,1100.8 451.67,1089.3 452.50,1130.2 453.20,1174.5 453.90,1175.8 454.60,1189.5 455.30,1183.0 456.00,1184.6 456.45,1171.7 456.90,1130.2 457.51,1103.4 457.92,1092.5 458.37,1095.8 459.30,1130.2 460.00,1173.2 460.70,1174.2 461.55,1188.6 462.40,1181.5 462.85,1170.5 463.30,1130.2 464.29,1100.6 464.95,1088.5 465.40,1090.8 466.10,1130.2 466.80,1178.5 467.50,1182.9 468.35,1194.0 469.20,1189.5 469.65,1175.5 470.10,1130.2 470.75,1095.9 471.19,1084.4 472.50,1130.2 473.10,1177.0 473.49,1192.0 474.50,1130.2 475.20,1090.3 475.90,1089.4 476.52,1087.6 477.15,1082.5 477.78,1079.6 478.40,1075.6 478.85,1092.8 479.30,1130.2 479.79,1172.8 480.12,1184.6 480.90,1130.2 481.66,1095.5 482.17,1086.0 482.62,1089.0 483.30,1130.2 484.00,1174.0 484.70,1176.6 485.34,1179.1 485.98,1181.7 486.62,1182.5 487.27,1183.1 487.91,1182.1 488.55,1186.5 489.19,1184.5 489.83,1184.9 490.48,1185.0 491.12,1180.9 491.76,1193.0 492.40,1184.4 492.85,1171.3 493.30,1130.2 494.00,1084.1 494.70,1079.1 495.35,1067.6 496.00,1074.8 496.65,1073.2 497.30,1072.5 497.75,1087.0 498.20,1130.2 498.66,1165.6 498.97,1180.0 500.00,1130.2 500.65,1089.9 501.08,1074.8 502.40,1130.2 503.10,1174.0 503.80,1178.7 504.48,1178.0 505.17,1192.0 505.85,1182.8 506.53,1182.5 507.22,1183.1 507.90,1185.3 508.35,1171.3 508.80,1130.2 509.62,1095.8 510.16,1081.2 511.20,1130.2 511.90,1171.4 512.60,1173.2 513.45,1175.1 514.30,1187.0 514.75,1168.8 515.20,1130.2 516.06,1095.6 516.63,1084.4 517.60,1130.2 518.30,1172.4 519.00,1173.6 519.60,1175.3 520.20,1180.2 520.80,1176.1 521.40,1179.1 522.00,1185.3 522.60,1184.0 523.20,1183.4 523.80,1190.0 524.40,1185.8 525.00,1183.8 525.60,1183.0 526.20,1180.8 526.80,1182.8 527.40,1181.7 528.00,1181.8 528.60,1181.8 529.20,1182.9 529.65,1169.8 530.10,1130.2 530.80,1095.0 531.50,1092.1 532.12,1091.3 532.75,1081.0 533.38,1088.7 534.00,1089.8 534.45,1097.2 534.90,1130.2 535.60,1175.3 536.30,1180.6 537.00,1182.7 537.70,1191.0 538.40,1184.1 538.85,1172.5 539.30,1130.2 540.00,1091.9 540.70,1089.7 541.40,1085.3 542.10,1078.0 542.80,1084.7 543.25,1094.3 543.70,1130.2 544.26,1167.0 544.63,1182.0 545.70,1130.2 546.40,1086.3 547.10,1082.6 547.71,1080.1 548.32,1078.3 548.93,1077.7 549.54,1076.2 550.15,1077.1 550.76,1077.0 551.37,1076.5 551.98,1071.6 552.59,1074.5 553.20,1076.3 553.65,1089.1 554.10,1130.2 554.80,1173.6 555.50,1172.0 556.20,1174.7 556.90,1188.7 557.60,1182.9 558.05,1170.8 558.50,1130.2 559.17,1088.5 559.61,1080.4 560.90,1130.2 561.60,1175.4 562.30,1178.6 562.95,1191.9 563.60,1184.8 564.05,1172.6 564.50,1130.2 565.20,1093.2 565.90,1093.0 566.52,1089.7 567.15,1088.0 567.77,1087.9 568.40,1065.2 568.85,1095.5 569.30,1130.2 569.97,1164.5 570.42,1174.0 571.30,1130.2 572.07,1091.2 572.58,1077.2 573.03,1079.8 573.80,1130.2 574.50,1172.4 575.20,1176.9 575.84,1179.1 576.48,1180.8 577.12,1182.1 577.75,1179.8 578.39,1182.7 579.03,1185.1 579.67,1181.4 580.31,1182.6 580.95,1181.7 581.58,1183.4 582.22,1181.1 582.86,1190.0 583.50,1182.3 583.95,1169.8 584.40,1130.2 585.06,1090.5 585.50,1081.2 586.80,1130.2 587.49,1161.9 587.94,1173.4 588.80,1130.2 589.34,1086.5 589.70,1074.0 590.80,1130.2 591.44,1177.1 591.87,1186.0 592.32,1182.9 593.20,1130.2 594.02,1092.9 594.57,1081.2 595.60,1130.2 596.14,1177.1 596.50,1192.0 597.20,1130.2 597.90,1088.6 598.60,1085.7 599.33,1082.3 600.07,1083.3 600.80,1074.0 601.25,1091.2 601.70,1130.2 602.33,1177.2 602.74,1190.0 603.70,1130.2 604.68,1092.5 605.33,1079.6 605.78,1080.6 606.50,1130.2 606.94,1176.9 607.24,1191.0 608.10,1130.2 608.74,1087.3 609.17,1072.4 610.50,1130.2 611.20,1174.0 611.90,1174.8 612.55,1179.7 613.20,1183.8 613.85,1193.5 614.50,1184.1 615.15,1185.3 615.80,1183.2 616.45,1186.0 617.10,1184.2 617.75,1186.9 618.40,1185.8 618.85,1171.3 619.30,1130.2 619.92,1092.3 620.33,1077.2 621.30,1130.2 622.00,1174.0 622.70,1179.1 623.36,1177.7 624.01,1180.5 624.67,1184.2 625.32,1185.1 625.98,1184.0 626.63,1185.7 627.29,1182.8 627.94,1193.5 628.60,1182.9 629.05,1171.3 629.50,1130.2 630.20,1086.8 630.90,1083.3 631.51,1080.3 632.12,1079.6 632.73,1081.4 633.34,1075.8 633.95,1076.0 634.55,1078.5 635.16,1075.7 635.77,1071.6 636.38,1076.5 636.99,1076.2 637.60,1076.6 638.05,1089.5 638.50,1130.2 639.20,1170.4 639.90,1173.1 640.75,1176.2 641.60,1185.5 642.05,1167.8 642.50,1130.2 643.35,1086.2 643.92,1077.2 644.37,1079.1 645.30,1130.2 645.98,1166.5 646.43,1177.4 647.30,1130.2 648.15,1086.3 648.72,1072.4 649.17,1075.5 649.70,1130.2 650.25,1174.1 650.61,1188.7 651.80,1130.2 652.50,1089.9 653.20,1088.7 653.95,1076.4 654.70,1083.9 655.15,1092.4 655.60,1130.2 656.30,1170.0 657.00,1174.1 657.70,1172.3 658.40,1174.0 659.10,1184.0 659.55,1167.5 660.00,1130.2 660.70,1085.3 661.40,1085.6 662.04,1080.7 662.69,1078.9 663.33,1074.8 663.97,1076.8 664.61,1076.2 665.26,1070.0 665.90,1072.9 666.35,1088.1 666.80,1130.2 667.50,1173.1 668.20,1170.7 669.05,1179.3 669.90,1187.8 670.35,1170.4 670.80,1130.2 671.41,1089.1 671.82,1081.2 672.27,1083.4 673.20,1130.2 673.90,1174.3 674.60,1177.9 675.45,1180.3 676.30,1189.5 676.75,1171.6 677.20,1130.2 677.95,1097.5 678.45,1084.4 678.90,1086.3 679.70,1130.2 680.31,1170.6 680.71,1183.8 681.70,1130.2 682.44,1090.0 682.93,1082.0 683.38,1083.4 684.50,1130.2 685.20,1174.0 685.90,1175.2 686.52,1176.2 687.13,1181.7 687.75,1183.1 688.37,1180.1 688.98,1182.2 689.60,1192.7 690.05,1171.3 690.50,1130.2 691.00,1095.8 691.34,1081.2 692.50,1130.2 693.20,1172.4 693.90,1176.8 694.54,1180.0 695.19,1181.4 695.83,1183.0 696.47,1179.5 697.11,1181.1 697.76,1194.0 698.40,1183.1 698.85,1169.8 699.30,1130.2 700.00,1081.9 700.70,1074.8 701.32,1076.4 701.95,1073.9 702.57,1071.6 703.19,1066.8 703.82,1067.9 704.44,1071.1 705.06,1072.0 705.68,1072.9 706.31,1070.1 706.93,1069.6 707.55,1068.0 708.18,1071.9 708.80,1072.7 709.25,1084.9 709.70,1130.2 710.40,1168.6 711.10,1170.6 711.80,1173.3 712.50,1181.4 713.20,1172.0 713.65,1166.2 714.10,1130.2 714.97,1088.4 715.55,1080.4 716.00,1083.5 716.90,1130.2 717.43,1162.0 717.78,1173.4 718.90,1130.2 719.59,1090.6 720.05,1074.0 720.90,1130.2 721.60,1171.8 722.30,1172.9 723.15,1185.5 724.00,1179.0 724.45,1169.2 724.90,1130.2 725.51,1096.7 725.92,1083.6 727.30,1130.2 728.00,1172.4 728.70,1175.1 729.30,1180.2 729.90,1176.9 730.50,1181.0 731.10,1180.3 731.70,1180.0 732.30,1178.2 732.90,1183.5 733.50,1181.0 734.10,1181.5 734.70,1190.0 735.15,1169.8 735.60,1130.2 736.46,1095.0 737.03,1081.2 737.48,1082.8 738.40,1130.2 739.00,1175.3 739.40,1186.0 740.40,1130.2 741.10,1088.6 741.80,1086.1 742.47,1074.0 743.13,1081.1 743.80,1081.6 744.25,1091.2 744.70,1130.2 745.40,1170.6 746.10,1172.9 747.00,1178.1 747.90,1186.0 748.35,1168.0 748.80,1130.2 749.53,1094.6 750.02,1080.4 750.47,1082.7 751.20,1130.2 751.72,1162.0 752.07,1175.0 753.20,1130.2 753.89,1091.1 754.35,1076.4 755.60,1130.2 756.30,1172.2 757.00,1176.1 757.60,1179.8 758.20,1187.0 758.80,1181.7 759.25,1169.6 759.70,1130.2 760.50,1092.1 761.04,1083.6 761.49,1086.8 762.30,1130.2 763.00,1170.8 763.70,1173.3 764.45,1176.2 765.20,1186.0 765.65,1168.2 766.10,1130.2 766.90,1096.1 767.43,1082.0 768.50,1130.2 769.07,1167.5 769.45,1182.0 770.50,1130.2 771.14,1094.2 771.56,1082.0 772.50,1130.2 773.25,1173.7 773.75,1189.5 774.90,1130.2 775.60,1091.6 776.30,1091.5 777.00,1084.7 777.70,1088.7 778.40,1078.0 778.85,1094.0 779.30,1130.2 779.88,1167.3 780.26,1182.0 781.30,1130.2 781.97,1097.6 782.41,1085.2 782.86,1087.2 783.70,1130.2 784.40,1177.6 785.10,1181.5 785.80,1181.0 786.50,1185.2 787.20,1194.3 787.65,1174.6 788.10,1130.2 788.80,1091.6 789.50,1091.4 790.35,1066.0 791.20,1085.8 791.65,1094.0 792.10,1130.2 792.72,1167.5 793.14,1177.4 794.10,1130.2 794.80,1088.3 795.50,1084.1 796.14,1083.1 796.79,1084.3 797.43,1081.0 798.07,1079.4 798.71,1078.9 799.36,1079.7 800.00,1074.0 800.45,1090.9 800.90,1130.2 801.60,1174.4 802.30,1180.3 803.00,1188.7 803.70,1181.0 804.40,1182.3 804.85,1171.7 805.30,1130.2 806.00,1084.4 806.70,1077.6 807.32,1077.0 807.94,1079.3 808.56,1075.2 809.18,1073.1 809.80,1073.1 810.42,1073.5 811.04,1073.3 811.66,1072.7 812.28,1071.9 812.90,1074.2 813.52,1075.7 814.14,1072.1 814.76,1072.1 815.38,1075.0 816.00,1070.5 816.62,1072.0 817.24,1072.4 817.86,1073.3 818.48,1069.2 819.10,1071.5 819.55,1087.3 820.00,1130.2 820.70,1171.4 821.40,1170.6 822.10,1173.1 822.80,1186.0 823.50,1176.7 823.95,1168.8 824.40,1130.2 825.10,1085.0 825.80,1083.0 826.50,1080.2 827.20,1069.2 827.90,1074.8 828.35,1087.9 828.80,1130.2 829.41,1158.9 829.81,1171.0 830.26,1169.1 831.20,1130.2 831.90,1087.5 832.60,1088.1 833.20,1083.2 833.80,1079.8 834.40,1080.1 835.00,1080.6 835.60,1075.6 836.20,1076.0 836.80,1072.4 837.25,1090.2 837.70,1130.2 838.40,1172.4 839.10,1175.5 839.95,1178.4 840.80,1186.0 841.25,1169.8 841.70,1130.2 842.42,1091.0 842.90,1079.6 844.10,1130.2 844.80,1172.4 845.50,1175.1 846.11,1175.3 846.72,1180.5 847.33,1181.1 847.94,1181.8 848.55,1193.5 849.16,1183.7 849.77,1180.9 850.38,1181.0 850.99,1185.1 851.60,1183.2 852.05,1169.8 852.50,1130.2 853.45,1089.7 854.09,1082.0 854.54,1084.0 855.30,1130.2 856.00,1177.8 856.70,1182.0 857.35,1187.1 858.00,1193.5 858.45,1174.8 858.90,1130.2 859.67,1092.9 860.18,1081.2 860.63,1083.2 861.70,1130.2 862.40,1178.1 863.10,1185.4 863.75,1185.3 864.40,1195.0 864.85,1175.1 865.30,1130.2 866.00,1087.2 866.70,1084.8 867.32,1081.3 867.95,1071.6 868.58,1079.0 869.20,1076.2 869.65,1089.9 870.10,1130.2 870.81,1172.5 871.29,1182.0 872.10,1130.2 872.87,1084.3 873.38,1074.0 874.50,1130.2 875.21,1171.4 875.68,1179.0 876.50,1130.2 877.19,1089.2 877.65,1078.8 878.90,1130.2 879.60,1174.0 880.30,1176.3 880.90,1181.1 881.50,1193.5 882.10,1184.0 882.70,1179.9 883.30,1184.4 883.90,1185.8 884.35,1171.3 884.80,1130.2 885.50,1086.0 886.20,1083.2 886.93,1070.3 887.67,1076.7 888.40,1075.3 888.85,1088.8 889.30,1130.2 889.88,1175.7 890.27,1187.0 891.60,1130.2 892.41,1094.8 892.94,1081.0 893.90,1130.2 894.60,1171.2 895.30,1171.3 895.93,1171.4 896.57,1176.3 897.20,1186.4 897.65,1168.6 898.10,1130.2 898.89,1094.5 899.42,1084.8 900.30,1130.2 900.88,1175.1 901.26,1185.0 902.20,1130.2 902.88,1091.0 903.33,1075.7 904.50,1130.2 905.47,1171.0 906.11,1186.5 906.56,1183.2 907.20,1130.2 907.88,1083.5 908.33,1069.6 909.10,1130.2 909.42,1171.6 909.63,1184.0 910.30,1184.0" fill="none" stroke="#2f78bd" stroke-width="1" stroke-linejoin="round"/><path d="M268.5,1041 V1219.5 H910.6" fill="none" stroke="#2a2a2a" stroke-width="1"/><line x1="265.5" y1="1041.0" x2="268.5" y2="1041.0" stroke="#2a2a2a" stroke-width="1.1"/><line x1="265.5" y1="1130.2" x2="268.5" y2="1130.2" stroke="#2a2a2a" stroke-width="1.1"/><line x1="265.5" y1="1219.5" x2="268.5" y2="1219.5" stroke="#2a2a2a" stroke-width="1.1"/><line x1="266.5" y1="1085.6" x2="268.5" y2="1085.6" stroke="#2a2a2a" stroke-width="1.1"/><line x1="266.5" y1="1174.9" x2="268.5" y2="1174.9" stroke="#2a2a2a" stroke-width="1.1"/><line x1="268.1" y1="1219.5" x2="268.1" y2="1222.5" stroke="#2a2a2a" stroke-width="1.1"/><line x1="396.6" y1="1219.5" x2="396.6" y2="1222.5" stroke="#2a2a2a" stroke-width="1.1"/><line x1="525.1" y1="1219.5" x2="525.1" y2="1222.5" stroke="#2a2a2a" stroke-width="1.1"/><line x1="653.6" y1="1219.5" x2="653.6" y2="1222.5" stroke="#2a2a2a" stroke-width="1.1"/><line x1="782.1" y1="1219.5" x2="782.1" y2="1222.5" stroke="#2a2a2a" stroke-width="1.1"/><line x1="910.6" y1="1219.5" x2="910.6" y2="1222.5" stroke="#2a2a2a" stroke-width="1.1"/><line x1="332.4" y1="1219.5" x2="332.4" y2="1221.5" stroke="#2a2a2a" stroke-width="1.1"/><line x1="460.9" y1="1219.5" x2="460.9" y2="1221.5" stroke="#2a2a2a" stroke-width="1.1"/><line x1="589.4" y1="1219.5" x2="589.4" y2="1221.5" stroke="#2a2a2a" stroke-width="1.1"/><line x1="717.9" y1="1219.5" x2="717.9" y2="1221.5" stroke="#2a2a2a" stroke-width="1.1"/><line x1="846.4" y1="1219.5" x2="846.4" y2="1221.5" stroke="#2a2a2a" stroke-width="1.1"/><text x="263.2" y="1044.7" font-size="12.5" fill="#000" text-anchor="end" >0.5</text><text x="263.2" y="1134.0" font-size="12.5" fill="#000" text-anchor="end" >0.0</text><text x="263.2" y="1223.2" font-size="12.5" fill="#000" text-anchor="end" >-0.5</text><text x="268.1" y="1234.7" font-size="12.5" fill="#000" text-anchor="middle" >0.00</text><text x="396.6" y="1234.7" font-size="12.5" fill="#000" text-anchor="middle" >0.01</text><text x="525.1" y="1234.7" font-size="12.5" fill="#000" text-anchor="middle" >0.02</text><text x="653.6" y="1234.7" font-size="12.5" fill="#000" text-anchor="middle" >0.03</text><text x="782.1" y="1234.7" font-size="12.5" fill="#000" text-anchor="middle" >0.04</text><text x="910.6" y="1234.7" font-size="12.5" fill="#000" text-anchor="middle" >0.05</text><text x="589.5" y="1256.7" font-size="15.3" fill="#000" text-anchor="middle" >Time (μs)</text><text x="236.3" y="1130.0" font-size="15.3" fill="#000" text-anchor="middle" transform="rotate(-90 236.3 1130)">Volts (V)</text><rect x="674.3" y="1045.3" width="134.2" height="16.2" fill="#fff" stroke="#a0a0a0" stroke-width="1"/><line x1="676.3" y1="1053.3" x2="703.3" y2="1053.3" stroke="#2f78bd" stroke-width="1"/><text x="707.3" y="1057.8" font-size="12" fill="#000" text-anchor="start" >Camera Raw Data</text><rect x="131.8" y="1026.2" width="15.6" height="240" fill="none" stroke="#ff0000" stroke-width="3.4" stroke-linejoin="round"/><line x1="147.8" y1="1147.0" x2="190.5" y2="1147.0" stroke="#000" stroke-width="3.8" stroke-linecap="round"/><path d="M215.0,1147.0 L186.0,1161.6 Q193.0,1147.0 186.0,1132.4 Z" fill="#000"/><line x1="129.2" y1="1429.3" x2="129.2" y2="1733.7" stroke="#f1f1f1" stroke-width="2"/><line x1="337.6" y1="1429.3" x2="337.6" y2="1733.7" stroke="#f1f1f1" stroke-width="2"/><line x1="546.1" y1="1429.3" x2="546.1" y2="1733.7" stroke="#f1f1f1" stroke-width="2"/><line x1="754.5" y1="1429.3" x2="754.5" y2="1733.7" stroke="#f1f1f1" stroke-width="2"/><line x1="962.9" y1="1429.3" x2="962.9" y2="1733.7" stroke="#f1f1f1" stroke-width="2"/><line x1="129.2" y1="1733.7" x2="964.8" y2="1733.7" stroke="#f1f1f1" stroke-width="2"/><line x1="129.2" y1="1581.5" x2="964.8" y2="1581.5" stroke="#f1f1f1" stroke-width="2"/><line x1="129.2" y1="1429.3" x2="964.8" y2="1429.3" stroke="#f1f1f1" stroke-width="2"/><line x1="129.2" y1="1733.7" x2="129.2" y2="1725.7" stroke="#ababab" stroke-width="1.5"/><line x1="129.2" y1="1429.3" x2="129.2" y2="1437.3" stroke="#ababab" stroke-width="1.5"/><line x1="337.6" y1="1733.7" x2="337.6" y2="1725.7" stroke="#ababab" stroke-width="1.5"/><line x1="337.6" y1="1429.3" x2="337.6" y2="1437.3" stroke="#ababab" stroke-width="1.5"/><line x1="546.1" y1="1733.7" x2="546.1" y2="1725.7" stroke="#ababab" stroke-width="1.5"/><line x1="546.1" y1="1429.3" x2="546.1" y2="1437.3" stroke="#ababab" stroke-width="1.5"/><line x1="754.5" y1="1733.7" x2="754.5" y2="1725.7" stroke="#ababab" stroke-width="1.5"/><line x1="754.5" y1="1429.3" x2="754.5" y2="1437.3" stroke="#ababab" stroke-width="1.5"/><line x1="962.9" y1="1733.7" x2="962.9" y2="1725.7" stroke="#ababab" stroke-width="1.5"/><line x1="962.9" y1="1429.3" x2="962.9" y2="1437.3" stroke="#ababab" stroke-width="1.5"/><line x1="129.2" y1="1733.7" x2="137.2" y2="1733.7" stroke="#ababab" stroke-width="1.5"/><line x1="964.8" y1="1733.7" x2="956.8" y2="1733.7" stroke="#ababab" stroke-width="1.5"/><line x1="129.2" y1="1581.5" x2="137.2" y2="1581.5" stroke="#ababab" stroke-width="1.5"/><line x1="964.8" y1="1581.5" x2="956.8" y2="1581.5" stroke="#ababab" stroke-width="1.5"/><line x1="129.2" y1="1429.3" x2="137.2" y2="1429.3" stroke="#ababab" stroke-width="1.5"/><line x1="964.8" y1="1429.3" x2="956.8" y2="1429.3" stroke="#ababab" stroke-width="1.5"/><rect x="129.2" y="1429.3" width="835.5999999999999" height="304.4000000000001" fill="none" stroke="#ababab" stroke-width="1.5"/><polygon points="128.6,1472.0 128.6,1471.1 129.3,1468.2 130.0,1471.2 130.7,1471.8 131.4,1467.7 132.1,1467.8 132.8,1471.3 133.5,1468.5 134.2,1470.6 134.9,1471.8 135.6,1471.2 136.3,1471.7 137.0,1470.4 137.7,1471.7 138.4,1469.6 139.1,1471.2 139.8,1469.2 140.5,1470.8 141.2,1469.4 141.9,1470.7 142.6,1471.1 143.3,1471.3 144.0,1469.7 144.7,1471.8 145.4,1468.2 146.1,1471.1 146.8,1466.1 147.5,1471.5 148.2,1471.1 148.9,1469.1 149.6,1471.9 150.3,1471.3 151.0,1468.0 151.7,1471.1 152.4,1468.2 153.1,1469.3 153.8,1470.7 154.5,1470.3 155.2,1469.4 155.9,1471.7 156.6,1471.7 157.3,1471.4 158.0,1469.5 158.7,1471.2 159.4,1470.0 160.1,1468.9 160.8,1471.4 161.5,1468.5 162.2,1468.8 162.9,1471.8 163.6,1471.8 164.3,1471.0 165.0,1469.3 165.7,1471.4 166.4,1471.0 167.1,1471.2 167.8,1469.8 168.5,1466.8 169.2,1470.7 169.9,1467.8 170.6,1470.4 171.3,1471.8 172.0,1471.8 172.7,1469.6 173.4,1471.9 174.1,1469.3 174.8,1468.0 175.5,1471.8 176.2,1469.6 176.9,1471.5 177.6,1469.4 178.3,1471.2 179.0,1469.0 179.7,1471.2 180.4,1471.0 181.1,1470.9 181.8,1469.3 182.5,1471.6 183.2,1470.2 183.9,1468.1 184.6,1471.3 185.3,1470.8 186.0,1470.8 186.7,1469.1 187.4,1470.0 188.1,1470.7 188.8,1470.5 189.5,1470.2 190.2,1470.7 190.9,1471.7 191.6,1471.9 192.3,1472.0 193.0,1471.4 193.7,1472.0 194.4,1471.1 195.1,1468.7 195.8,1470.4 196.5,1470.9 197.2,1470.2 197.9,1471.0 198.6,1471.3 199.3,1471.9 200.0,1468.2 200.7,1469.5 201.4,1470.7 202.1,1468.8 202.8,1470.2 203.5,1471.2 204.2,1469.7 204.9,1471.0 205.6,1471.4 206.3,1467.8 207.0,1466.2 207.7,1470.7 208.4,1472.0 209.1,1470.7 209.8,1470.1 210.5,1470.1 211.2,1467.7 211.9,1471.6 212.6,1469.8 213.3,1470.6 214.0,1471.3 214.7,1470.1 215.4,1471.4 216.1,1469.5 216.8,1470.6 217.5,1469.3 218.2,1470.9 218.9,1468.5 219.6,1470.0 220.3,1468.6 221.0,1472.0 221.7,1469.0 222.4,1471.3 223.1,1470.0 223.8,1469.8 224.5,1469.4 225.2,1471.8 225.9,1471.8 226.6,1471.6 227.3,1470.8 228.0,1471.1 228.7,1469.8 229.4,1471.4 230.1,1469.7 230.8,1471.1 231.5,1470.7 232.2,1470.5 232.9,1471.1 233.6,1469.3 234.3,1471.3 235.0,1471.6 235.7,1470.4 236.4,1469.4 237.1,1465.5 237.8,1471.7 238.5,1469.5 239.2,1469.9 239.9,1466.8 240.6,1471.4 241.3,1469.1 242.0,1467.0 242.7,1470.5 243.4,1470.1 244.1,1471.0 244.8,1471.6 245.5,1468.2 246.2,1471.7 246.9,1470.6 247.6,1470.4 248.3,1470.6 249.0,1465.0 249.7,1471.4 250.4,1470.9 251.1,1471.8 251.8,1470.5 252.5,1471.5 253.2,1469.0 253.9,1471.7 254.6,1470.3 255.3,1471.5 256.0,1467.0 256.7,1468.6 257.4,1470.9 258.1,1471.0 258.8,1471.5 259.5,1469.7 260.2,1469.6 260.9,1471.5 261.6,1471.9 262.3,1469.5 263.0,1469.8 263.7,1470.9 264.4,1470.0 265.1,1470.8 265.8,1470.5 266.5,1470.5 267.2,1467.0 267.9,1471.1 268.6,1471.8 269.3,1470.0 270.0,1467.4 270.7,1469.7 271.4,1469.0 272.1,1471.8 272.8,1471.1 273.5,1471.2 274.2,1469.5 274.9,1471.1 275.6,1469.7 276.3,1471.4 277.0,1472.0 277.7,1469.1 278.4,1468.5 279.1,1470.9 279.8,1470.8 280.5,1471.1 281.2,1471.8 281.9,1465.2 282.6,1470.9 283.3,1470.4 284.0,1471.2 284.7,1469.4 285.4,1471.0 286.1,1470.6 286.8,1466.6 287.5,1470.7 288.2,1471.5 288.9,1471.8 289.6,1471.7 290.3,1471.7 291.0,1471.1 291.7,1471.9 292.4,1470.0 293.1,1470.4 293.8,1471.5 294.5,1469.4 295.2,1471.6 295.9,1469.9 296.6,1468.4 297.3,1470.5 298.0,1471.8 298.7,1471.3 299.4,1469.9 300.1,1470.8 300.8,1470.3 301.5,1470.5 302.2,1469.7 302.9,1470.9 303.6,1471.4 304.3,1469.3 305.0,1471.4 305.7,1471.8 306.4,1467.7 307.1,1469.4 307.8,1470.8 308.5,1471.8 309.2,1471.0 309.9,1469.4 310.6,1471.7 311.3,1471.7 312.0,1469.9 312.7,1469.5 313.4,1469.2 314.1,1472.0 314.8,1469.7 315.5,1469.9 316.2,1471.4 316.9,1469.6 317.6,1471.8 318.3,1468.9 319.0,1471.2 319.7,1471.0 320.4,1469.1 321.1,1469.0 321.8,1471.6 322.5,1470.0 323.2,1470.7 323.9,1469.5 324.6,1468.2 325.3,1470.3 326.0,1469.1 326.7,1470.2 327.4,1471.9 328.1,1471.6 328.8,1470.0 329.5,1469.9 330.2,1471.7 330.9,1471.2 331.6,1468.5 332.3,1468.4 333.0,1466.3 333.7,1471.5 334.4,1471.5 335.1,1470.6 335.8,1469.1 336.5,1471.4 337.2,1471.4 337.9,1471.2 338.6,1469.0 339.3,1470.3 340.0,1470.8 340.7,1471.4 341.4,1471.2 342.1,1470.4 342.8,1470.3 343.5,1469.8 344.2,1470.7 344.9,1471.9 345.6,1471.4 346.3,1471.7 347.0,1471.1 347.7,1471.2 348.4,1470.5 349.1,1471.2 349.8,1469.1 350.5,1469.5 351.2,1470.3 351.9,1471.5 352.6,1471.8 353.3,1470.7 354.0,1466.3 354.7,1471.5 355.4,1470.9 356.1,1469.3 356.8,1469.2 357.5,1470.3 358.2,1471.1 358.9,1469.9 359.6,1469.4 360.3,1470.9 361.0,1469.4 361.7,1470.6 362.4,1472.0 363.1,1472.0 363.8,1468.6 364.5,1470.7 365.2,1471.2 365.9,1469.7 366.6,1471.6 367.3,1471.5 368.0,1470.9 368.7,1469.9 369.4,1470.6 370.1,1470.0 370.8,1471.1 371.5,1471.3 372.2,1471.4 372.9,1471.6 373.6,1471.1 374.3,1467.9 375.0,1468.2 375.7,1469.6 376.4,1471.3 377.1,1471.9 377.8,1470.9 378.5,1471.5 379.2,1469.5 379.9,1469.1 380.6,1471.7 381.3,1468.6 382.0,1470.4 382.7,1469.8 383.4,1465.0 384.1,1468.8 384.8,1471.5 385.5,1471.6 386.2,1471.8 386.9,1471.2 387.6,1470.5 388.3,1470.3 389.0,1468.4 389.7,1472.0 390.4,1470.3 391.1,1468.7 391.8,1471.7 392.5,1469.5 393.2,1469.2 393.9,1467.3 394.6,1471.0 395.3,1469.3 396.0,1471.7 396.7,1472.0 397.4,1471.7 398.1,1469.8 398.8,1470.1 399.5,1466.6 400.2,1469.3 400.9,1470.9 401.6,1470.8 402.3,1469.2 403.0,1471.4 403.7,1469.2 404.4,1469.3 405.1,1471.9 405.8,1470.2 406.5,1469.0 407.2,1471.6 407.9,1471.0 408.6,1468.8 409.3,1471.0 410.0,1469.1 410.7,1471.6 411.4,1471.6 412.1,1471.5 412.8,1471.4 413.5,1471.0 414.2,1470.6 414.9,1471.7 415.6,1470.6 416.3,1471.4 417.0,1471.9 417.7,1471.4 418.4,1471.5 419.1,1471.5 419.8,1468.5 420.5,1471.9 421.2,1470.8 421.9,1471.4 422.6,1470.7 423.3,1471.5 424.0,1471.6 424.7,1471.4 425.4,1471.7 426.1,1471.3 426.8,1471.1 427.5,1468.6 428.2,1469.8 428.9,1466.6 429.6,1470.4 430.3,1469.8 431.0,1469.4 431.7,1471.8 432.4,1469.7 433.1,1471.9 433.8,1471.7 434.5,1468.8 435.2,1470.4 435.9,1470.8 436.6,1470.2 437.3,1468.7 438.0,1471.0 438.7,1471.3 439.4,1471.5 440.1,1470.4 440.8,1468.5 441.5,1470.4 442.2,1469.0 442.9,1471.3 443.6,1471.7 444.3,1471.6 445.0,1471.6 445.7,1471.1 446.4,1470.1 447.1,1470.3 447.8,1468.6 448.5,1471.9 449.2,1471.3 449.9,1470.3 450.6,1468.7 451.3,1470.8 452.0,1470.6 452.7,1470.5 453.4,1470.5 454.1,1471.9 454.8,1471.9 455.5,1470.1 456.2,1471.3 456.9,1470.1 457.6,1471.7 458.3,1470.9 459.0,1471.6 459.7,1471.7 460.4,1471.6 461.1,1471.7 461.8,1470.1 462.5,1469.1 463.2,1469.8 463.9,1470.7 464.6,1471.6 465.3,1468.9 466.0,1471.7 466.7,1470.3 467.4,1466.1 468.1,1469.9 468.8,1470.0 469.5,1470.2 470.2,1469.8 470.9,1467.7 471.6,1471.5 472.3,1470.3 473.0,1469.5 473.7,1470.7 474.4,1470.9 475.1,1469.9 475.8,1471.2 476.5,1471.0 477.2,1469.1 477.9,1467.6 478.6,1471.0 479.3,1470.4 480.0,1470.3 480.7,1471.8 481.4,1469.4 482.1,1471.4 482.8,1471.4 483.5,1471.9 484.2,1471.7 484.9,1471.5 485.6,1471.7 486.3,1468.7 487.0,1470.6 487.7,1470.8 488.4,1471.3 489.1,1470.9 489.8,1471.3 490.5,1470.2 491.2,1469.2 491.9,1471.5 492.6,1471.6 493.3,1471.4 494.0,1471.7 494.7,1468.0 495.4,1471.5 496.1,1471.8 496.8,1469.1 497.5,1471.8 498.2,1468.9 498.9,1471.2 499.6,1470.9 500.3,1471.5 501.0,1470.3 501.7,1470.1 502.4,1471.1 503.1,1469.4 503.8,1470.4 504.5,1470.5 505.2,1470.1 505.9,1471.7 506.6,1470.6 507.3,1471.2 508.0,1470.1 508.7,1468.8 509.4,1469.5 510.1,1468.3 510.8,1471.0 511.5,1468.9 512.2,1471.9 512.9,1471.5 513.6,1471.1 514.3,1467.6 515.0,1471.7 515.7,1471.9 516.4,1470.1 517.1,1471.8 517.8,1470.1 518.5,1470.5 519.2,1471.5 519.9,1469.6 520.6,1471.3 521.3,1470.8 522.0,1467.1 522.7,1470.2 523.4,1471.2 524.1,1469.2 524.8,1470.0 525.5,1469.9 526.2,1470.9 526.9,1470.7 527.6,1469.9 528.3,1471.6 529.0,1469.4 529.7,1469.1 530.4,1471.5 531.1,1470.9 531.8,1471.4 532.5,1468.1 533.2,1470.2 533.9,1471.6 534.6,1470.0 535.3,1469.3 536.0,1470.2 536.7,1469.3 537.4,1471.8 538.1,1471.3 538.8,1471.1 539.5,1472.0 540.2,1471.6 540.9,1470.6 541.6,1471.4 542.3,1470.3 543.0,1469.6 543.7,1471.9 544.4,1471.3 545.1,1471.8 545.8,1471.9 546.5,1470.7 547.2,1471.3 547.9,1470.1 548.6,1470.9 549.3,1469.5 550.0,1470.8 550.7,1470.1 551.4,1471.4 552.1,1471.8 552.8,1470.3 553.5,1471.6 554.2,1469.8 554.9,1470.4 555.6,1471.7 556.3,1471.4 557.0,1468.8 557.7,1471.4 558.4,1471.1 559.1,1469.9 559.8,1468.0 560.5,1471.3 561.2,1470.1 561.9,1469.8 562.6,1469.6 563.3,1470.3 564.0,1469.3 564.7,1470.7 565.4,1471.1 566.1,1469.1 566.8,1470.7 567.5,1470.7 568.2,1469.9 568.9,1470.4 569.6,1469.7 570.3,1471.1 571.0,1471.7 571.7,1470.8 572.4,1470.7 573.1,1470.5 573.8,1471.3 574.5,1469.8 575.2,1471.3 575.9,1471.5 576.6,1469.8 577.3,1470.4 578.0,1468.1 578.7,1469.3 579.4,1470.5 580.1,1470.2 580.8,1470.9 581.5,1471.3 582.2,1470.0 582.9,1470.5 583.6,1471.6 584.3,1470.7 585.0,1471.7 585.7,1470.3 586.4,1471.6 587.1,1469.7 587.8,1469.1 588.5,1469.6 589.2,1470.6 589.9,1468.5 590.6,1471.0 591.3,1471.7 592.0,1468.2 592.7,1467.1 593.4,1468.9 594.1,1470.6 594.8,1471.6 595.5,1470.2 596.2,1469.0 596.9,1471.0 597.6,1469.5 598.3,1470.7 599.0,1470.3 599.7,1468.4 600.4,1468.1 601.1,1471.5 601.8,1471.3 602.5,1468.6 603.2,1471.7 603.9,1468.9 604.6,1471.0 605.3,1468.8 606.0,1470.9 606.7,1470.4 607.4,1470.8 608.1,1471.2 608.8,1470.0 609.5,1469.8 610.2,1471.4 610.9,1470.3 611.6,1470.6 612.3,1471.2 613.0,1469.6 613.7,1468.9 614.4,1470.9 615.1,1470.5 615.8,1470.8 616.5,1471.4 617.2,1470.7 617.9,1470.7 618.6,1470.8 619.3,1471.8 620.0,1466.1 620.7,1469.2 621.4,1470.3 622.1,1469.9 622.8,1466.1 623.5,1469.8 624.2,1470.7 624.9,1471.3 625.6,1471.8 626.3,1471.0 627.0,1471.4 627.7,1471.4 628.4,1472.0 629.1,1471.1 629.8,1470.3 630.5,1468.9 631.2,1470.3 631.9,1471.9 632.6,1471.4 633.3,1467.4 634.0,1468.6 634.7,1468.7 635.4,1470.4 636.1,1470.6 636.8,1470.9 637.5,1471.3 638.2,1467.7 638.9,1471.2 639.6,1471.5 640.3,1470.6 641.0,1471.5 641.7,1471.5 642.4,1471.0 643.1,1470.8 643.8,1470.6 644.5,1468.0 645.2,1470.4 645.9,1469.5 646.6,1471.8 647.3,1469.0 648.0,1470.8 648.7,1470.9 649.4,1471.3 650.1,1471.6 650.8,1471.3 651.5,1470.6 652.2,1471.9 652.9,1471.3 653.6,1470.4 654.3,1471.9 655.0,1469.3 655.7,1471.4 656.4,1471.9 657.1,1470.3 657.8,1469.3 658.5,1471.1 659.2,1470.2 659.9,1470.6 660.6,1471.3 661.3,1469.9 662.0,1469.2 662.7,1471.2 663.4,1471.7 664.1,1471.1 664.8,1471.7 665.5,1470.0 666.2,1471.5 666.9,1469.7 667.6,1469.6 668.3,1469.1 669.0,1470.7 669.7,1467.9 670.4,1470.0 671.1,1470.6 671.8,1465.1 672.5,1472.0 673.2,1470.1 673.9,1471.2 674.6,1468.5 675.3,1471.8 676.0,1470.7 676.7,1470.1 677.4,1471.6 678.1,1468.9 678.8,1470.9 679.5,1471.6 680.2,1468.2 680.9,1471.3 681.6,1469.5 682.3,1470.4 683.0,1470.6 683.7,1471.2 684.4,1470.1 685.1,1468.1 685.8,1469.8 686.5,1471.6 687.2,1466.7 687.9,1471.5 688.6,1470.4 689.3,1470.7 690.0,1469.9 690.7,1470.2 691.4,1468.2 692.1,1471.5 692.8,1467.9 693.5,1468.1 694.2,1471.8 694.9,1471.2 695.6,1470.6 696.3,1470.9 697.0,1469.7 697.7,1468.7 698.4,1471.6 699.1,1468.6 699.8,1469.1 700.5,1468.8 701.2,1469.4 701.9,1470.8 702.6,1470.3 703.3,1470.0 704.0,1468.2 704.7,1470.3 705.4,1468.7 706.1,1470.5 706.8,1469.9 707.5,1470.0 708.2,1469.1 708.9,1468.8 709.6,1470.7 710.3,1471.7 711.0,1471.0 711.7,1471.7 712.4,1472.0 713.1,1471.9 713.8,1471.7 714.5,1470.7 715.2,1470.9 715.9,1472.0 716.6,1471.4 717.3,1471.2 718.0,1470.3 718.7,1471.1 719.4,1468.6 720.1,1471.9 720.8,1471.3 721.5,1470.6 722.2,1471.4 722.9,1471.6 723.6,1471.9 724.3,1470.9 725.0,1469.8 725.7,1471.8 726.4,1471.6 727.1,1470.8 727.8,1469.4 728.5,1471.5 729.2,1468.1 729.9,1471.8 730.6,1468.4 731.3,1469.5 732.0,1469.8 732.7,1470.8 733.4,1470.8 734.1,1470.8 734.8,1471.9 735.5,1468.6 736.2,1470.9 736.9,1471.4 737.6,1468.2 738.3,1470.0 739.0,1469.9 739.7,1470.7 740.4,1469.8 741.1,1470.1 741.8,1470.4 742.5,1471.2 743.2,1470.5 743.9,1471.8 744.6,1470.9 745.3,1471.1 746.0,1468.7 746.7,1470.2 747.4,1466.8 748.1,1471.3 748.8,1468.1 749.5,1471.3 750.2,1470.6 750.9,1469.4 751.6,1469.7 752.3,1471.6 753.0,1471.5 753.7,1468.7 754.4,1471.2 755.1,1470.8 755.8,1468.4 756.5,1471.1 757.2,1471.9 757.9,1470.1 758.6,1471.4 759.3,1469.8 760.0,1469.1 760.7,1472.0 761.4,1470.7 762.1,1470.6 762.8,1469.3 763.5,1471.6 764.2,1469.1 764.9,1467.3 765.6,1467.7 766.3,1469.1 767.0,1468.9 767.7,1471.2 768.4,1469.6 769.1,1470.3 769.8,1470.3 770.5,1471.5 771.2,1470.2 771.9,1471.8 772.6,1470.7 773.3,1468.2 774.0,1469.7 774.7,1470.8 775.4,1470.5 776.1,1471.6 776.8,1471.7 777.5,1471.7 778.2,1470.9 778.9,1470.5 779.6,1471.8 780.3,1471.1 781.0,1471.9 781.7,1470.6 782.4,1469.7 783.1,1468.7 783.8,1471.2 784.5,1471.0 785.2,1470.6 785.9,1469.7 786.6,1470.4 787.3,1471.4 788.0,1471.8 788.7,1468.8 789.4,1471.4 790.1,1471.5 790.8,1471.5 791.5,1467.0 792.2,1468.4 792.9,1471.7 793.6,1469.4 794.3,1469.9 795.0,1469.3 795.7,1469.6 796.4,1470.2 797.1,1470.6 797.8,1471.6 798.5,1468.4 799.2,1471.4 799.9,1471.4 800.6,1470.9 801.3,1471.6 802.0,1471.6 802.7,1470.8 803.4,1471.9 804.1,1471.2 804.8,1471.3 805.5,1469.3 806.2,1469.1 806.9,1470.9 807.6,1471.4 808.3,1470.2 809.0,1471.7 809.7,1470.0 810.4,1467.7 811.1,1469.0 811.8,1468.4 812.5,1470.5 813.2,1471.0 813.9,1471.6 814.6,1471.4 815.3,1469.9 816.0,1470.2 816.7,1471.6 817.4,1470.3 818.1,1467.6 818.8,1469.0 819.5,1471.5 820.2,1471.6 820.9,1471.2 821.6,1471.7 822.3,1469.4 823.0,1470.2 823.7,1471.8 824.4,1470.6 825.1,1469.2 825.8,1468.2 826.5,1472.0 827.2,1470.7 827.9,1469.0 828.6,1471.6 829.3,1470.3 830.0,1469.7 830.7,1470.8 831.4,1471.8 832.1,1468.9 832.8,1471.3 833.5,1468.6 834.2,1471.1 834.9,1471.9 835.6,1468.0 836.3,1471.8 837.0,1471.8 837.7,1470.9 838.4,1471.3 839.1,1469.3 839.8,1471.6 840.5,1471.5 841.2,1469.0 841.9,1467.0 842.6,1469.9 843.3,1470.2 844.0,1470.5 844.7,1470.9 845.4,1470.8 846.1,1471.7 846.8,1469.6 847.5,1469.6 848.2,1469.1 848.9,1468.5 849.6,1469.6 850.3,1469.1 851.0,1469.1 851.7,1468.9 852.4,1471.5 853.1,1469.6 853.8,1469.8 854.5,1471.4 855.2,1470.4 855.9,1471.1 856.6,1471.1 857.3,1467.9 858.0,1471.8 858.7,1469.9 859.4,1471.2 860.1,1469.1 860.8,1471.8 861.5,1469.6 862.2,1469.6 862.9,1469.5 863.6,1467.6 864.3,1471.0 865.0,1469.8 865.7,1470.5 866.4,1471.5 867.1,1469.6 867.8,1469.7 868.5,1471.7 869.2,1471.8 869.9,1470.6 870.6,1469.8 871.3,1468.0 872.0,1469.7 872.7,1470.0 873.4,1470.9 874.1,1468.3 874.8,1471.5 875.5,1468.1 876.2,1469.6 876.9,1470.4 877.6,1471.3 878.3,1468.0 879.0,1469.8 879.7,1471.9 880.4,1471.4 881.1,1471.4 881.8,1470.6 882.5,1471.8 883.2,1470.9 883.9,1471.3 884.6,1470.9 885.3,1470.3 886.0,1470.3 886.7,1471.6 887.4,1470.3 888.1,1470.0 888.8,1469.3 889.5,1470.5 890.2,1470.4 890.9,1471.8 891.6,1470.7 892.3,1470.4 893.0,1471.7 893.7,1470.3 894.4,1471.9 895.1,1470.9 895.8,1470.0 896.5,1469.0 897.2,1471.0 897.9,1471.0 898.6,1471.9 899.3,1469.9 900.0,1471.4 900.7,1470.2 901.4,1468.3 902.1,1471.6 902.8,1469.8 903.5,1470.7 904.2,1468.9 904.9,1467.7 905.6,1469.6 906.3,1471.2 907.0,1469.3 907.7,1471.2 908.4,1471.1 909.1,1470.8 909.8,1470.6 910.5,1468.5 911.2,1470.6 911.9,1469.7 912.6,1471.2 913.3,1471.4 914.0,1470.5 914.7,1471.7 915.4,1471.1 916.1,1470.8 916.8,1470.4 917.5,1471.4 918.2,1470.0 918.9,1470.7 919.6,1471.7 920.3,1467.5 921.0,1471.3 921.7,1468.8 922.4,1470.8 923.1,1467.8 923.8,1471.0 924.5,1470.5 925.2,1469.4 925.9,1470.0 926.6,1468.2 927.3,1469.0 928.0,1470.9 928.7,1469.5 929.4,1470.5 930.1,1468.7 930.8,1472.0 931.5,1471.1 932.2,1471.8 932.9,1470.3 933.6,1471.0 934.3,1471.5 935.0,1468.8 935.7,1468.4 936.4,1471.4 937.1,1470.9 937.8,1469.6 938.5,1470.9 939.2,1469.5 939.9,1471.5 940.6,1470.9 941.3,1470.2 942.0,1469.7 942.7,1471.7 943.4,1471.4 944.1,1471.3 944.8,1471.7 945.5,1469.7 946.2,1469.6 946.9,1471.4 947.6,1470.2 948.3,1469.4 949.0,1470.0 949.7,1467.5 950.4,1470.6 951.1,1469.2 951.8,1471.7 952.5,1471.9 953.2,1471.4 953.9,1471.7 954.6,1470.8 955.3,1471.2 956.0,1471.3 956.7,1470.8 957.4,1471.6 958.1,1469.8 958.8,1471.2 959.5,1470.5 960.2,1470.4 960.9,1471.4 961.6,1471.7 962.3,1469.3 963.0,1470.6 963.7,1469.3 964.4,1469.2 965.1,1471.9 965.8,1470.0 966.0,1697.3 965.8,1698.2 965.1,1699.1 964.4,1702.0 963.7,1699.0 963.0,1698.2 962.3,1698.1 961.6,1698.5 960.9,1698.5 960.2,1698.0 959.5,1700.7 958.8,1698.4 958.1,1700.5 957.4,1697.7 956.7,1701.5 956.0,1705.0 955.3,1697.5 954.6,1698.1 953.9,1703.7 953.2,1697.8 952.5,1698.6 951.8,1697.9 951.1,1700.6 950.4,1701.5 949.7,1701.8 949.0,1699.4 948.3,1698.5 947.6,1700.8 946.9,1700.4 946.2,1700.9 945.5,1697.8 944.8,1697.5 944.1,1698.8 943.4,1700.8 942.7,1702.0 942.0,1703.9 941.3,1697.9 940.6,1698.7 939.9,1697.6 939.2,1698.7 938.5,1697.4 937.8,1701.0 937.1,1697.8 936.4,1697.4 935.7,1699.8 935.0,1698.4 934.3,1697.8 933.6,1700.0 932.9,1698.2 932.2,1697.6 931.5,1702.4 930.8,1697.3 930.1,1697.8 929.4,1699.4 928.7,1700.5 928.0,1699.6 927.3,1700.4 926.6,1700.2 925.9,1697.8 925.2,1697.4 924.5,1700.7 923.8,1697.8 923.1,1697.7 922.4,1703.7 921.7,1699.3 921.0,1697.4 920.3,1698.3 919.6,1698.1 918.9,1699.6 918.2,1697.5 917.5,1700.5 916.8,1702.9 916.1,1699.9 915.4,1700.2 914.7,1700.4 914.0,1698.6 913.3,1702.0 912.6,1697.8 911.9,1701.2 911.2,1701.3 910.5,1700.1 909.8,1701.7 909.1,1698.1 908.4,1698.7 907.7,1697.8 907.0,1697.9 906.3,1701.2 905.6,1699.7 904.9,1698.1 904.2,1699.5 903.5,1702.5 902.8,1703.1 902.1,1697.6 901.4,1700.6 900.7,1699.6 900.0,1699.5 899.3,1702.3 898.6,1703.2 897.9,1698.1 897.2,1697.9 896.5,1699.4 895.8,1698.6 895.1,1702.4 894.4,1699.8 893.7,1701.5 893.0,1698.8 892.3,1697.8 891.6,1698.5 890.9,1697.8 890.2,1697.9 889.5,1697.9 888.8,1698.1 888.1,1698.7 887.4,1699.4 886.7,1701.3 886.0,1699.0 885.3,1698.7 884.6,1697.8 883.9,1697.4 883.2,1700.6 882.5,1701.2 881.8,1698.2 881.1,1698.7 880.4,1698.4 879.7,1697.5 879.0,1702.5 878.3,1701.8 877.6,1702.3 876.9,1697.5 876.2,1699.5 875.5,1697.9 874.8,1698.0 874.1,1698.9 873.4,1697.9 872.7,1698.8 872.0,1699.8 871.3,1698.4 870.6,1698.0 869.9,1699.4 869.2,1701.7 868.5,1701.0 867.8,1701.1 867.1,1707.2 866.4,1701.1 865.7,1697.4 865.0,1700.9 864.3,1697.7 863.6,1700.4 862.9,1701.1 862.2,1699.2 861.5,1700.4 860.8,1698.2 860.1,1697.9 859.4,1700.1 858.7,1698.1 858.0,1699.5 857.3,1700.2 856.6,1698.6 855.9,1698.6 855.2,1698.5 854.5,1702.2 853.8,1698.7 853.1,1700.0 852.4,1702.5 851.7,1698.9 851.0,1698.3 850.3,1697.6 849.6,1703.7 848.9,1697.7 848.2,1698.9 847.5,1698.9 846.8,1699.3 846.1,1700.9 845.4,1701.6 844.7,1697.9 844.0,1701.9 843.3,1698.5 842.6,1699.9 841.9,1698.8 841.2,1699.6 840.5,1698.6 839.8,1698.5 839.1,1697.8 838.4,1698.0 837.7,1697.9 837.0,1697.6 836.3,1698.1 835.6,1700.5 834.9,1699.0 834.2,1701.9 833.5,1699.7 832.8,1703.3 832.1,1702.6 831.4,1697.6 830.7,1700.8 830.0,1700.2 829.3,1698.8 828.6,1698.2 827.9,1700.5 827.2,1699.0 826.5,1698.9 825.8,1699.2 825.1,1701.9 824.4,1699.6 823.7,1699.0 823.0,1700.3 822.3,1697.9 821.6,1697.7 820.9,1699.6 820.2,1698.5 819.5,1699.8 818.8,1703.0 818.1,1698.4 817.4,1698.1 816.7,1697.5 816.0,1698.7 815.3,1697.4 814.6,1699.9 813.9,1698.5 813.2,1702.3 812.5,1698.3 811.8,1698.3 811.1,1698.2 810.4,1697.6 809.7,1700.5 809.0,1700.0 808.3,1701.3 807.6,1698.0 806.9,1698.7 806.2,1697.7 805.5,1698.3 804.8,1702.7 804.1,1699.0 803.4,1697.5 802.7,1701.6 802.0,1700.2 801.3,1698.5 800.6,1702.3 799.9,1700.0 799.2,1699.0 798.5,1697.5 797.8,1699.5 797.1,1698.5 796.4,1700.7 795.7,1700.1 795.0,1699.7 794.3,1698.8 793.6,1701.9 792.9,1699.9 792.2,1698.2 791.5,1698.1 790.8,1698.6 790.1,1701.7 789.4,1698.5 788.7,1698.3 788.0,1698.7 787.3,1697.8 786.6,1699.1 785.9,1700.4 785.2,1697.6 784.5,1698.6 783.8,1698.9 783.1,1698.4 782.4,1698.1 781.7,1700.5 781.0,1699.6 780.3,1700.1 779.6,1698.6 778.9,1702.1 778.2,1701.1 777.5,1697.9 776.8,1698.3 776.1,1697.9 775.4,1697.6 774.7,1700.9 774.0,1700.0 773.3,1699.5 772.6,1698.9 771.9,1698.3 771.2,1698.4 770.5,1705.1 769.8,1699.9 769.1,1698.4 768.4,1699.6 767.7,1697.4 767.0,1704.0 766.3,1701.3 765.6,1698.2 764.9,1700.3 764.2,1699.1 763.5,1701.6 762.8,1698.4 762.1,1701.2 761.4,1698.6 760.7,1699.9 760.0,1701.9 759.3,1702.6 758.6,1699.1 757.9,1697.4 757.2,1697.4 756.5,1698.5 755.8,1701.0 755.1,1699.0 754.4,1698.0 753.7,1700.4 753.0,1697.7 752.3,1705.2 751.6,1700.1 750.9,1701.3 750.2,1700.4 749.5,1698.2 748.8,1697.8 748.1,1701.2 747.4,1700.1 746.7,1698.6 746.0,1698.7 745.3,1697.7 744.6,1702.1 743.9,1698.1 743.2,1703.5 742.5,1701.2 741.8,1699.1 741.1,1703.5 740.4,1699.1 739.7,1699.3 739.0,1698.4 738.3,1700.5 737.6,1702.3 736.9,1703.0 736.2,1698.8 735.5,1699.9 734.8,1697.4 734.1,1705.1 733.4,1697.6 732.7,1699.9 732.0,1700.0 731.3,1701.1 730.6,1700.9 729.9,1699.3 729.2,1698.1 728.5,1702.7 727.8,1698.1 727.1,1701.0 726.4,1704.0 725.7,1697.4 725.0,1697.6 724.3,1700.3 723.6,1700.4 722.9,1699.0 722.2,1700.8 721.5,1697.4 720.8,1700.1 720.1,1699.2 719.4,1697.5 718.7,1701.9 718.0,1698.0 717.3,1697.8 716.6,1699.3 715.9,1703.2 715.2,1697.8 714.5,1700.3 713.8,1698.1 713.1,1699.8 712.4,1703.6 711.7,1697.6 711.0,1702.6 710.3,1700.8 709.6,1702.0 708.9,1698.8 708.2,1701.7 707.5,1699.9 706.8,1699.3 706.1,1702.1 705.4,1702.5 704.7,1698.4 704.0,1697.7 703.3,1697.9 702.6,1698.3 701.9,1699.1 701.2,1698.8 700.5,1701.1 699.8,1697.3 699.1,1701.7 698.4,1699.4 697.7,1701.2 697.0,1698.0 696.3,1699.6 695.6,1697.5 694.9,1698.3 694.2,1697.9 693.5,1699.3 692.8,1700.9 692.1,1697.7 691.4,1698.1 690.7,1698.6 690.0,1699.5 689.3,1700.3 688.6,1703.2 687.9,1697.7 687.2,1698.4 686.5,1701.1 685.8,1698.9 685.1,1703.7 684.4,1698.0 683.7,1697.8 683.0,1697.8 682.3,1703.1 681.6,1702.7 680.9,1700.4 680.2,1701.3 679.5,1699.0 678.8,1700.6 678.1,1702.5 677.4,1701.6 676.7,1698.4 676.0,1698.5 675.3,1700.9 674.6,1702.9 673.9,1698.2 673.2,1702.3 672.5,1701.6 671.8,1699.1 671.1,1705.9 670.4,1704.3 669.7,1702.9 669.0,1698.4 668.3,1702.7 667.6,1701.5 666.9,1699.0 666.2,1697.9 665.5,1697.3 664.8,1698.1 664.1,1697.6 663.4,1700.4 662.7,1698.2 662.0,1700.7 661.3,1697.7 660.6,1701.0 659.9,1699.1 659.2,1702.2 658.5,1702.3 657.8,1698.7 657.1,1699.4 656.4,1699.1 655.7,1700.4 655.0,1697.8 654.3,1700.3 653.6,1699.2 652.9,1701.9 652.2,1705.3 651.5,1697.6 650.8,1698.6 650.1,1699.5 649.4,1703.6 648.7,1700.6 648.0,1700.8 647.3,1698.0 646.6,1698.1 645.9,1699.5 645.2,1700.0 644.5,1700.4 643.8,1697.7 643.1,1698.4 642.4,1698.7 641.7,1699.2 641.0,1698.2 640.3,1701.5 639.6,1697.7 638.9,1697.8 638.2,1699.2 637.5,1698.0 636.8,1697.8 636.1,1699.5 635.4,1699.8 634.7,1703.0 634.0,1700.5 633.3,1705.1 632.6,1699.3 631.9,1698.3 631.2,1698.9 630.5,1700.6 629.8,1700.9 629.1,1703.3 628.4,1702.1 627.7,1699.0 627.0,1698.6 626.3,1702.1 625.6,1699.5 624.9,1700.1 624.2,1699.5 623.5,1698.0 622.8,1700.4 622.1,1702.9 621.4,1700.2 620.7,1699.9 620.0,1709.1 619.3,1699.3 618.6,1698.0 617.9,1700.1 617.2,1701.4 616.5,1700.5 615.8,1699.2 615.1,1697.6 614.4,1698.4 613.7,1699.8 613.0,1702.1 612.3,1699.3 611.6,1698.3 610.9,1697.6 610.2,1702.0 609.5,1698.1 608.8,1699.0 608.1,1704.3 607.4,1701.8 606.7,1698.7 606.0,1697.4 605.3,1701.8 604.6,1700.3 603.9,1701.7 603.2,1697.8 602.5,1703.1 601.8,1698.0 601.1,1700.9 600.4,1698.1 599.7,1699.2 599.0,1698.7 598.3,1697.5 597.6,1701.1 596.9,1697.9 596.2,1697.6 595.5,1697.5 594.8,1700.4 594.1,1698.6 593.4,1700.4 592.7,1701.3 592.0,1698.3 591.3,1700.5 590.6,1698.8 589.9,1699.4 589.2,1697.5 588.5,1702.4 587.8,1699.9 587.1,1698.5 586.4,1697.7 585.7,1697.9 585.0,1700.8 584.3,1698.2 583.6,1699.5 582.9,1698.2 582.2,1697.3 581.5,1701.9 580.8,1698.9 580.1,1702.3 579.4,1699.3 578.7,1703.4 578.0,1701.5 577.3,1698.7 576.6,1702.4 575.9,1701.9 575.2,1698.2 574.5,1697.4 573.8,1703.1 573.1,1701.1 572.4,1699.1 571.7,1698.4 571.0,1697.5 570.3,1708.3 569.6,1699.1 568.9,1702.5 568.2,1698.4 567.5,1701.6 566.8,1699.9 566.1,1698.9 565.4,1699.6 564.7,1701.8 564.0,1698.1 563.3,1698.3 562.6,1697.8 561.9,1699.5 561.2,1700.0 560.5,1698.3 559.8,1701.3 559.1,1702.8 558.4,1699.0 557.7,1700.0 557.0,1703.0 556.3,1697.7 555.6,1701.4 554.9,1698.2 554.2,1697.4 553.5,1698.3 552.8,1697.6 552.1,1701.4 551.4,1700.6 550.7,1698.0 550.0,1697.7 549.3,1698.2 548.6,1704.3 547.9,1700.6 547.2,1701.8 546.5,1703.1 545.8,1699.6 545.1,1698.7 544.4,1703.0 543.7,1705.7 543.0,1699.0 542.3,1702.3 541.6,1701.5 540.9,1700.4 540.2,1697.7 539.5,1700.9 538.8,1699.3 538.1,1698.3 537.4,1701.1 536.7,1697.3 536.0,1701.1 535.3,1701.1 534.6,1698.9 533.9,1701.4 533.2,1704.2 532.5,1698.0 531.8,1700.0 531.1,1704.0 530.4,1701.3 529.7,1699.5 529.0,1701.2 528.3,1704.5 527.6,1702.0 526.9,1698.2 526.2,1698.8 525.5,1697.4 524.8,1699.7 524.1,1700.5 523.4,1697.9 522.7,1701.3 522.0,1697.4 521.3,1700.4 520.6,1697.7 519.9,1697.4 519.2,1703.2 518.5,1701.5 517.8,1699.2 517.1,1698.9 516.4,1698.1 515.7,1701.8 515.0,1700.9 514.3,1699.9 513.6,1702.3 512.9,1700.4 512.2,1698.0 511.5,1699.9 510.8,1701.3 510.1,1698.9 509.4,1698.2 508.7,1697.7 508.0,1699.0 507.3,1700.2 506.6,1703.5 505.9,1699.5 505.2,1698.7 504.5,1698.6 503.8,1699.3 503.1,1700.8 502.4,1699.5 501.7,1700.2 501.0,1699.6 500.3,1697.5 499.6,1697.6 498.9,1697.6 498.2,1699.8 497.5,1698.0 496.8,1697.4 496.1,1702.7 495.4,1700.2 494.7,1698.4 494.0,1700.0 493.3,1697.7 492.6,1697.9 491.9,1698.9 491.2,1697.4 490.5,1697.6 489.8,1699.3 489.1,1699.6 488.4,1698.6 487.7,1701.5 487.0,1698.7 486.3,1701.2 485.6,1698.1 484.9,1698.8 484.2,1697.7 483.5,1698.7 482.8,1701.2 482.1,1697.4 481.4,1699.3 480.7,1699.5 480.0,1702.8 479.3,1700.2 478.6,1697.7 477.9,1701.0 477.2,1698.2 476.5,1699.5 475.8,1697.8 475.1,1697.9 474.4,1702.2 473.7,1697.3 473.0,1702.5 472.3,1701.7 471.6,1700.4 470.9,1698.9 470.2,1703.2 469.5,1698.0 468.8,1697.5 468.1,1698.8 467.4,1702.6 466.7,1697.9 466.0,1698.8 465.3,1701.9 464.6,1697.5 463.9,1701.4 463.2,1699.5 462.5,1702.5 461.8,1699.4 461.1,1699.4 460.4,1701.3 459.7,1697.3 459.0,1699.4 458.3,1697.7 457.6,1699.0 456.9,1698.7 456.2,1700.9 455.5,1700.5 454.8,1701.6 454.1,1701.7 453.4,1698.7 452.7,1699.4 452.0,1699.0 451.3,1700.9 450.6,1698.5 449.9,1698.5 449.2,1698.5 448.5,1697.7 447.8,1699.8 447.1,1697.7 446.4,1703.2 445.7,1699.1 445.0,1698.0 444.3,1698.3 443.6,1697.7 442.9,1701.3 442.2,1699.7 441.5,1699.1 440.8,1702.9 440.1,1697.4 439.4,1701.8 438.7,1699.1 438.0,1698.7 437.3,1698.0 436.6,1703.6 435.9,1702.7 435.2,1697.3 434.5,1701.3 433.8,1698.5 433.1,1698.6 432.4,1700.7 431.7,1700.7 431.0,1697.5 430.3,1700.6 429.6,1698.1 428.9,1697.5 428.2,1698.4 427.5,1701.3 426.8,1699.1 426.1,1697.6 425.4,1703.5 424.7,1703.5 424.0,1697.8 423.3,1700.0 422.6,1699.1 421.9,1701.3 421.2,1698.7 420.5,1700.8 419.8,1697.5 419.1,1701.0 418.4,1701.5 417.7,1704.0 417.0,1700.7 416.3,1699.8 415.6,1700.3 414.9,1701.2 414.2,1698.8 413.5,1701.9 412.8,1701.0 412.1,1697.8 411.4,1697.3 410.7,1697.9 410.0,1698.6 409.3,1699.0 408.6,1700.0 407.9,1698.2 407.2,1699.1 406.5,1701.2 405.8,1701.6 405.1,1705.3 404.4,1698.6 403.7,1697.5 403.0,1700.8 402.3,1698.7 401.6,1699.8 400.9,1700.0 400.2,1702.0 399.5,1701.6 398.8,1698.7 398.1,1702.2 397.4,1700.6 396.7,1700.8 396.0,1697.4 395.3,1698.9 394.6,1698.3 393.9,1697.5 393.2,1698.2 392.5,1699.1 391.8,1697.3 391.1,1699.4 390.4,1697.4 389.7,1699.3 389.0,1698.6 388.3,1697.9 387.6,1702.2 386.9,1701.5 386.2,1702.3 385.5,1701.8 384.8,1699.7 384.1,1701.1 383.4,1699.2 382.7,1699.6 382.0,1699.0 381.3,1701.2 380.6,1698.8 379.9,1699.4 379.2,1702.9 378.5,1702.2 377.8,1697.8 377.1,1701.3 376.4,1699.4 375.7,1703.2 375.0,1698.0 374.3,1703.7 373.6,1699.2 372.9,1699.7 372.2,1698.6 371.5,1699.4 370.8,1700.8 370.1,1698.5 369.4,1697.7 368.7,1699.5 368.0,1701.3 367.3,1698.6 366.6,1698.0 365.9,1698.4 365.2,1705.8 364.5,1698.4 363.8,1700.4 363.1,1698.3 362.4,1701.4 361.7,1697.9 361.0,1699.3 360.3,1699.0 359.6,1701.1 358.9,1698.9 358.2,1699.0 357.5,1702.6 356.8,1698.8 356.1,1697.5 355.4,1699.2 354.7,1699.1 354.0,1699.2 353.3,1697.8 352.6,1700.6 351.9,1698.0 351.2,1702.3 350.5,1701.4 349.8,1699.5 349.1,1700.0 348.4,1698.0 347.7,1700.9 347.0,1698.6 346.3,1697.4 345.6,1701.3 344.9,1699.2 344.2,1697.8 343.5,1700.3 342.8,1702.9 342.1,1699.2 341.4,1701.3 340.7,1698.2 340.0,1699.6 339.3,1699.0 338.6,1698.3 337.9,1700.5 337.2,1699.4 336.5,1698.0 335.8,1698.5 335.1,1698.1 334.4,1699.8 333.7,1699.9 333.0,1703.3 332.3,1699.6 331.6,1698.0 330.9,1698.8 330.2,1700.6 329.5,1700.1 328.8,1703.7 328.1,1698.9 327.4,1698.6 326.7,1700.6 326.0,1700.7 325.3,1697.4 324.6,1699.7 323.9,1698.9 323.2,1697.7 322.5,1699.2 321.8,1701.0 321.1,1699.8 320.4,1699.1 319.7,1701.1 319.0,1698.4 318.3,1698.0 317.6,1704.1 316.9,1697.6 316.2,1699.1 315.5,1699.1 314.8,1697.8 314.1,1697.5 313.4,1698.8 312.7,1699.9 312.0,1697.9 311.3,1704.7 310.6,1700.7 309.9,1697.7 309.2,1700.4 308.5,1698.2 307.8,1698.1 307.1,1701.1 306.4,1698.5 305.7,1699.3 305.0,1697.9 304.3,1702.8 303.6,1698.7 302.9,1698.9 302.2,1697.7 301.5,1699.6 300.8,1700.0 300.1,1699.0 299.4,1699.7 298.7,1698.8 298.0,1701.2 297.3,1698.7 296.6,1699.1 295.9,1700.0 295.2,1699.2 294.5,1700.6 293.8,1700.1 293.1,1697.4 292.4,1701.8 291.7,1698.6 291.0,1698.8 290.3,1699.4 289.6,1700.2 288.9,1700.2 288.2,1698.0 287.5,1700.2 286.8,1704.1 286.1,1699.5 285.4,1697.3 284.7,1699.5 284.0,1702.7 283.3,1701.1 282.6,1698.0 281.9,1699.1 281.2,1702.5 280.5,1698.8 279.8,1698.1 279.1,1701.5 278.4,1700.3 277.7,1701.3 277.0,1703.2 276.3,1701.9 275.6,1700.3 274.9,1697.9 274.2,1698.1 273.5,1697.6 272.8,1697.9 272.1,1697.3 271.4,1704.4 270.7,1704.5 270.0,1703.2 269.3,1697.4 268.6,1698.9 267.9,1699.2 267.2,1698.6 266.5,1699.8 265.8,1699.7 265.1,1699.3 264.4,1699.1 263.7,1702.1 263.0,1702.1 262.3,1703.8 261.6,1699.9 260.9,1700.5 260.2,1699.4 259.5,1698.1 258.8,1697.3 258.1,1700.4 257.4,1700.2 256.7,1698.2 256.0,1701.4 255.3,1701.7 254.6,1700.4 253.9,1704.9 253.2,1698.1 252.5,1702.9 251.8,1697.8 251.1,1698.9 250.4,1698.0 249.7,1702.8 249.0,1704.0 248.3,1698.7 247.6,1702.1 246.9,1700.2 246.2,1699.0 245.5,1699.1 244.8,1699.4 244.1,1700.5 243.4,1698.2 242.7,1698.9 242.0,1699.6 241.3,1704.4 240.6,1697.3 239.9,1697.9 239.2,1702.4 238.5,1699.4 237.8,1699.4 237.1,1705.8 236.4,1698.1 235.7,1703.2 235.0,1700.5 234.3,1699.0 233.6,1697.5 232.9,1700.9 232.2,1703.4 231.5,1697.5 230.8,1698.0 230.1,1698.7 229.4,1697.9 228.7,1700.9 228.0,1697.9 227.3,1700.4 226.6,1698.5 225.9,1702.1 225.2,1701.8 224.5,1697.9 223.8,1699.8 223.1,1701.2 222.4,1700.3 221.7,1697.6 221.0,1697.6 220.3,1698.7 219.6,1697.4 218.9,1697.6 218.2,1699.1 217.5,1698.5 216.8,1698.7 216.1,1700.7 215.4,1701.1 214.7,1703.8 214.0,1700.4 213.3,1700.9 212.6,1697.9 211.9,1698.9 211.2,1700.6 210.5,1697.3 209.8,1708.3 209.1,1700.1 208.4,1705.6 207.7,1700.0 207.0,1703.2 206.3,1697.7 205.6,1705.2 204.9,1698.2 204.2,1697.8 203.5,1699.4 202.8,1699.8 202.1,1698.0 201.4,1697.8 200.7,1698.9 200.0,1703.2 199.3,1699.9 198.6,1698.3 197.9,1705.2 197.2,1698.3 196.5,1702.0 195.8,1698.0 195.1,1698.2 194.4,1698.1 193.7,1700.0 193.0,1702.6 192.3,1699.8 191.6,1698.3 190.9,1701.1 190.2,1698.8 189.5,1699.4 188.8,1697.4 188.1,1698.4 187.4,1699.5 186.7,1698.1 186.0,1699.0 185.3,1699.1 184.6,1701.6 183.9,1701.5 183.2,1697.7 182.5,1699.4 181.8,1702.2 181.1,1699.1 180.4,1699.4 179.7,1698.4 179.0,1701.0 178.3,1700.8 177.6,1704.3 176.9,1699.8 176.2,1698.1 175.5,1703.1 174.8,1702.9 174.1,1706.3 173.4,1700.1 172.7,1700.8 172.0,1699.3 171.3,1699.3 170.6,1698.7 169.9,1698.6 169.2,1701.1 168.5,1697.7 167.8,1700.1 167.1,1704.6 166.4,1704.1 165.7,1700.7 165.0,1699.0 164.3,1701.8 163.6,1700.2 162.9,1698.2 162.2,1698.8 161.5,1698.9 160.8,1698.5 160.1,1699.6 159.4,1697.7 158.7,1700.7 158.0,1700.3 157.3,1700.9 156.6,1697.8 155.9,1700.2 155.2,1700.1 154.5,1699.7 153.8,1704.4 153.1,1701.7 152.4,1701.1 151.7,1698.6 151.0,1698.2 150.3,1703.8 149.6,1698.3 148.9,1699.4 148.2,1700.5 147.5,1700.0 146.8,1700.0 146.1,1701.4 145.4,1703.8 144.7,1697.8 144.0,1697.6 143.3,1700.9 142.6,1702.9 141.9,1699.4 141.2,1697.9 140.5,1698.5 139.8,1702.3 139.1,1701.7 138.4,1697.4 137.7,1697.7 137.0,1698.5 136.3,1701.3 135.6,1700.1 134.9,1702.3 134.2,1704.7 133.5,1697.5 132.8,1698.6 132.1,1699.3 131.4,1700.9 130.7,1700.3 130.0,1700.8 129.3,1700.1 128.6,1699.7" fill="#ff0000" fill-opacity="0.3"/><polygon points="128.6,1472.0 128.6,1471.1 129.3,1471.8 130.0,1471.3 130.7,1471.0 131.4,1470.2 132.1,1471.4 132.8,1470.7 133.5,1469.5 134.2,1470.6 134.9,1471.0 135.6,1470.4 136.3,1470.2 137.0,1471.6 137.7,1471.4 138.4,1470.6 139.1,1470.6 139.8,1471.6 140.5,1470.2 141.2,1471.2 141.9,1471.6 142.6,1469.7 143.3,1470.4 144.0,1471.4 144.7,1471.7 145.4,1471.4 146.1,1471.7 146.8,1471.0 147.5,1471.7 148.2,1470.4 148.9,1471.3 149.6,1471.6 150.3,1470.9 151.0,1471.5 151.7,1471.2 152.4,1471.5 153.1,1470.5 153.8,1469.5 154.5,1471.8 155.2,1471.2 155.9,1470.3 156.6,1471.0 157.3,1471.2 158.0,1471.0 158.7,1471.2 159.4,1469.9 160.1,1470.9 160.8,1471.0 161.5,1469.2 162.2,1470.7 162.9,1470.5 163.6,1469.9 164.3,1470.5 165.0,1470.5 165.7,1469.6 166.4,1471.1 167.1,1471.8 167.8,1471.0 168.5,1471.5 169.2,1471.1 169.9,1469.9 170.6,1470.9 171.3,1472.0 172.0,1471.6 172.7,1471.1 173.4,1470.8 174.1,1470.7 174.8,1470.9 175.5,1471.4 176.2,1471.9 176.9,1470.7 177.6,1472.0 178.3,1471.1 179.0,1469.9 179.7,1472.0 180.4,1471.9 181.1,1471.0 181.8,1471.7 182.5,1470.8 183.2,1471.3 183.9,1469.0 184.6,1470.7 185.3,1470.4 186.0,1470.2 186.7,1471.1 187.4,1471.6 188.1,1471.3 188.8,1471.4 189.5,1469.9 190.2,1471.0 190.9,1470.6 191.6,1470.6 192.3,1471.7 193.0,1471.6 193.7,1471.5 194.4,1471.4 195.1,1470.9 195.8,1469.7 196.5,1471.8 197.2,1471.5 197.9,1471.8 198.6,1469.9 199.3,1471.3 200.0,1471.2 200.7,1471.3 201.4,1470.2 202.1,1470.7 202.8,1471.7 203.5,1471.8 204.2,1471.3 204.9,1470.2 205.6,1471.4 206.3,1470.8 207.0,1469.5 207.7,1472.0 208.4,1470.2 209.1,1471.2 209.8,1471.5 210.5,1471.2 211.2,1471.2 211.9,1471.7 212.6,1471.2 213.3,1470.1 214.0,1471.6 214.7,1469.6 215.4,1471.7 216.1,1470.9 216.8,1470.5 217.5,1471.3 218.2,1471.4 218.9,1472.0 219.6,1471.0 220.3,1469.8 221.0,1471.4 221.7,1470.9 222.4,1470.4 223.1,1471.3 223.8,1471.4 224.5,1471.5 225.2,1471.6 225.9,1471.1 226.6,1471.5 227.3,1470.8 228.0,1471.4 228.7,1470.3 229.4,1471.2 230.1,1470.6 230.8,1469.4 231.5,1470.9 232.2,1470.8 232.9,1469.9 233.6,1471.3 234.3,1471.1 235.0,1469.5 235.7,1471.9 236.4,1471.3 237.1,1472.0 237.8,1468.7 238.5,1471.8 239.2,1471.0 239.9,1470.4 240.6,1471.5 241.3,1470.0 242.0,1471.7 242.7,1470.9 243.4,1471.0 244.1,1471.3 244.8,1471.4 245.5,1471.9 246.2,1471.1 246.9,1471.1 247.6,1468.5 248.3,1471.8 249.0,1471.6 249.7,1471.1 250.4,1471.9 251.1,1471.7 251.8,1470.2 252.5,1470.1 253.2,1471.7 253.9,1471.9 254.6,1468.8 255.3,1469.4 256.0,1471.6 256.7,1471.9 257.4,1471.3 258.1,1470.5 258.8,1471.3 259.5,1471.6 260.2,1471.4 260.9,1471.8 261.6,1470.8 262.3,1471.3 263.0,1470.9 263.7,1471.2 264.4,1471.7 265.1,1470.6 265.8,1471.3 266.5,1471.5 267.2,1471.4 267.9,1471.1 268.6,1471.5 269.3,1471.1 270.0,1471.8 270.7,1470.7 271.4,1471.9 272.1,1470.8 272.8,1471.4 273.5,1471.1 274.2,1471.9 274.9,1470.5 275.6,1470.2 276.3,1469.6 277.0,1471.5 277.7,1471.5 278.4,1471.8 279.1,1471.4 279.8,1468.5 280.5,1470.6 281.2,1471.9 281.9,1471.9 282.6,1470.6 283.3,1470.5 284.0,1471.1 284.7,1471.6 285.4,1471.4 286.1,1471.0 286.8,1470.6 287.5,1471.5 288.2,1470.2 288.9,1470.9 289.6,1470.6 290.3,1468.4 291.0,1471.0 291.7,1471.4 292.4,1471.3 293.1,1470.4 293.8,1471.5 294.5,1471.9 295.2,1470.7 295.9,1471.6 296.6,1471.5 297.3,1471.4 298.0,1470.7 298.7,1471.7 299.4,1470.2 300.1,1471.2 300.8,1471.0 301.5,1471.0 302.2,1471.5 302.9,1471.9 303.6,1471.7 304.3,1471.8 305.0,1471.2 305.7,1471.4 306.4,1469.5 307.1,1471.1 307.8,1471.3 308.5,1469.6 309.2,1469.1 309.9,1472.0 310.6,1471.8 311.3,1470.7 312.0,1470.6 312.7,1471.8 313.4,1471.0 314.1,1471.5 314.8,1470.3 315.5,1471.2 316.2,1469.3 316.9,1470.6 317.6,1471.5 318.3,1472.0 319.0,1471.3 319.7,1470.5 320.4,1471.0 321.1,1470.7 321.8,1471.7 322.5,1471.1 323.2,1470.5 323.9,1471.8 324.6,1470.4 325.3,1469.9 326.0,1471.3 326.7,1471.5 327.4,1471.7 328.1,1471.7 328.8,1469.9 329.5,1471.8 330.2,1470.3 330.9,1471.8 331.6,1471.9 332.3,1470.6 333.0,1471.9 333.7,1471.5 334.4,1471.6 335.1,1471.5 335.8,1470.3 336.5,1470.8 337.2,1471.8 337.9,1471.3 338.6,1471.7 339.3,1471.5 340.0,1471.1 340.7,1471.7 341.4,1470.5 342.1,1471.7 342.8,1470.3 343.5,1471.3 344.2,1469.8 344.9,1471.0 345.6,1470.6 346.3,1471.7 347.0,1471.1 347.7,1471.9 348.4,1470.1 349.1,1471.5 349.8,1469.4 350.5,1471.8 351.2,1471.3 351.9,1471.6 352.6,1471.8 353.3,1471.6 354.0,1471.4 354.7,1469.3 355.4,1472.0 356.1,1471.8 356.8,1471.2 357.5,1470.4 358.2,1470.0 358.9,1471.2 359.6,1469.7 360.3,1470.3 361.0,1471.0 361.7,1471.6 362.4,1470.6 363.1,1472.0 363.8,1472.0 364.5,1470.6 365.2,1471.1 365.9,1471.5 366.6,1471.9 367.3,1471.7 368.0,1471.2 368.7,1469.9 369.4,1470.0 370.1,1471.2 370.8,1471.7 371.5,1470.8 372.2,1469.2 372.9,1469.9 373.6,1471.5 374.3,1469.7 375.0,1471.9 375.7,1471.4 376.4,1469.2 377.1,1470.7 377.8,1471.5 378.5,1471.7 379.2,1470.2 379.9,1471.3 380.6,1471.0 381.3,1471.5 382.0,1470.5 382.7,1471.7 383.4,1471.8 384.1,1470.6 384.8,1471.0 385.5,1471.0 386.2,1470.8 386.9,1471.4 387.6,1471.7 388.3,1471.4 389.0,1471.4 389.7,1471.4 390.4,1471.3 391.1,1470.4 391.8,1471.2 392.5,1471.7 393.2,1471.9 393.9,1470.7 394.6,1470.0 395.3,1471.7 396.0,1471.5 396.7,1470.8 397.4,1471.7 398.1,1471.5 398.8,1470.6 399.5,1470.6 400.2,1470.3 400.9,1470.8 401.6,1471.5 402.3,1470.9 403.0,1470.9 403.7,1471.1 404.4,1471.0 405.1,1471.7 405.8,1469.7 406.5,1470.5 407.2,1471.0 407.9,1470.3 408.6,1470.8 409.3,1469.2 410.0,1471.3 410.7,1471.8 411.4,1471.6 412.1,1471.4 412.8,1471.9 413.5,1471.8 414.2,1470.1 414.9,1469.8 415.6,1470.6 416.3,1471.7 417.0,1470.7 417.7,1471.1 418.4,1472.0 419.1,1470.0 419.8,1471.7 420.5,1470.7 421.2,1471.6 421.9,1471.7 422.6,1471.1 423.3,1471.7 424.0,1471.8 424.7,1470.8 425.4,1471.7 426.1,1471.4 426.8,1470.6 427.5,1472.0 428.2,1470.5 428.9,1470.9 429.6,1471.6 430.3,1471.4 431.0,1471.3 431.7,1471.5 432.4,1470.3 433.1,1471.9 433.8,1470.4 434.5,1471.7 435.2,1470.5 435.9,1470.8 436.6,1471.8 437.3,1470.7 438.0,1471.2 438.7,1471.3 439.4,1470.9 440.1,1471.1 440.8,1471.5 441.5,1470.2 442.2,1470.9 442.9,1471.0 443.6,1471.0 444.3,1470.3 445.0,1471.5 445.7,1471.7 446.4,1471.7 447.1,1471.4 447.8,1471.7 448.5,1471.0 449.2,1471.7 449.9,1471.9 450.6,1471.3 451.3,1470.2 452.0,1471.3 452.7,1471.8 453.4,1470.8 454.1,1471.3 454.8,1471.9 455.5,1471.5 456.2,1471.3 456.9,1471.9 457.6,1470.3 458.3,1469.2 459.0,1470.8 459.7,1471.3 460.4,1470.2 461.1,1472.0 461.8,1471.1 462.5,1471.3 463.2,1471.7 463.9,1472.0 464.6,1470.9 465.3,1471.2 466.0,1470.7 466.7,1471.4 467.4,1469.8 468.1,1471.3 468.8,1471.7 469.5,1470.0 470.2,1469.7 470.9,1469.4 471.6,1470.3 472.3,1470.6 473.0,1470.0 473.7,1471.7 474.4,1471.5 475.1,1471.9 475.8,1471.6 476.5,1470.9 477.2,1471.8 477.9,1470.6 478.6,1471.6 479.3,1471.5 480.0,1471.1 480.7,1471.7 481.4,1471.5 482.1,1472.0 482.8,1470.9 483.5,1471.7 484.2,1471.5 484.9,1470.3 485.6,1471.6 486.3,1471.0 487.0,1471.0 487.7,1471.5 488.4,1470.8 489.1,1470.4 489.8,1471.5 490.5,1471.1 491.2,1471.2 491.9,1470.7 492.6,1471.4 493.3,1470.8 494.0,1471.7 494.7,1471.9 495.4,1471.5 496.1,1471.4 496.8,1471.3 497.5,1471.5 498.2,1471.9 498.9,1471.9 499.6,1471.3 500.3,1471.9 501.0,1470.3 501.7,1471.0 502.4,1470.7 503.1,1469.7 503.8,1471.9 504.5,1470.6 505.2,1470.5 505.9,1470.7 506.6,1470.9 507.3,1471.6 508.0,1470.8 508.7,1471.9 509.4,1471.5 510.1,1471.3 510.8,1471.3 511.5,1471.9 512.2,1470.7 512.9,1471.5 513.6,1470.6 514.3,1471.7 515.0,1471.9 515.7,1470.2 516.4,1470.3 517.1,1471.2 517.8,1470.8 518.5,1471.7 519.2,1468.6 519.9,1470.1 520.6,1468.8 521.3,1471.5 522.0,1471.5 522.7,1470.7 523.4,1471.8 524.1,1471.6 524.8,1470.8 525.5,1470.9 526.2,1471.8 526.9,1471.0 527.6,1471.7 528.3,1469.8 529.0,1471.4 529.7,1470.6 530.4,1470.4 531.1,1470.8 531.8,1471.6 532.5,1471.7 533.2,1469.9 533.9,1469.9 534.6,1470.8 535.3,1471.3 536.0,1469.8 536.7,1471.6 537.4,1469.6 538.1,1471.0 538.8,1470.6 539.5,1470.9 540.2,1471.7 540.9,1470.2 541.6,1469.6 542.3,1471.3 543.0,1469.4 543.7,1469.8 544.4,1471.4 545.1,1471.8 545.8,1471.6 546.5,1471.3 547.2,1469.6 547.9,1471.6 548.6,1469.8 549.3,1471.8 550.0,1470.4 550.7,1471.0 551.4,1471.6 552.1,1471.8 552.8,1470.7 553.5,1472.0 554.2,1471.0 554.9,1471.4 555.6,1471.7 556.3,1471.5 557.0,1471.7 557.7,1471.1 558.4,1471.8 559.1,1472.0 559.8,1471.3 560.5,1471.8 561.2,1469.8 561.9,1468.8 562.6,1471.2 563.3,1471.9 564.0,1471.4 564.7,1471.4 565.4,1471.5 566.1,1471.4 566.8,1471.5 567.5,1470.3 568.2,1470.9 568.9,1470.6 569.6,1469.8 570.3,1470.4 571.0,1470.7 571.7,1471.8 572.4,1470.3 573.1,1469.9 573.8,1470.1 574.5,1471.9 575.2,1471.6 575.9,1470.3 576.6,1469.8 577.3,1470.8 578.0,1471.1 578.7,1471.9 579.4,1471.1 580.1,1471.8 580.8,1471.9 581.5,1471.3 582.2,1471.8 582.9,1471.7 583.6,1470.9 584.3,1471.2 585.0,1471.5 585.7,1471.7 586.4,1471.1 587.1,1471.2 587.8,1471.4 588.5,1472.0 589.2,1471.1 589.9,1470.9 590.6,1469.0 591.3,1471.0 592.0,1470.1 592.7,1471.0 593.4,1470.8 594.1,1470.4 594.8,1470.5 595.5,1471.0 596.2,1471.0 596.9,1470.2 597.6,1471.1 598.3,1471.4 599.0,1470.7 599.7,1471.2 600.4,1471.5 601.1,1470.5 601.8,1470.5 602.5,1470.8 603.2,1471.4 603.9,1471.6 604.6,1472.0 605.3,1471.8 606.0,1471.0 606.7,1472.0 607.4,1471.5 608.1,1470.1 608.8,1471.6 609.5,1469.8 610.2,1469.9 610.9,1470.3 611.6,1471.2 612.3,1470.7 613.0,1469.6 613.7,1470.9 614.4,1470.0 615.1,1471.7 615.8,1469.1 616.5,1471.0 617.2,1470.5 617.9,1472.0 618.6,1471.6 619.3,1470.8 620.0,1471.6 620.7,1471.7 621.4,1471.8 622.1,1471.7 622.8,1469.0 623.5,1471.4 624.2,1471.1 624.9,1471.7 625.6,1470.2 626.3,1471.6 627.0,1471.7 627.7,1470.8 628.4,1471.2 629.1,1471.0 629.8,1471.6 630.5,1471.8 631.2,1469.3 631.9,1471.6 632.6,1471.3 633.3,1471.2 634.0,1471.4 634.7,1471.8 635.4,1469.2 636.1,1471.7 636.8,1471.9 637.5,1470.4 638.2,1470.4 638.9,1471.7 639.6,1471.7 640.3,1470.4 641.0,1470.0 641.7,1471.3 642.4,1470.1 643.1,1471.4 643.8,1471.0 644.5,1471.2 645.2,1470.0 645.9,1471.5 646.6,1470.7 647.3,1471.8 648.0,1471.8 648.7,1471.4 649.4,1472.0 650.1,1470.8 650.8,1470.0 651.5,1471.3 652.2,1471.2 652.9,1471.7 653.6,1470.7 654.3,1470.5 655.0,1471.6 655.7,1471.9 656.4,1471.6 657.1,1471.8 657.8,1470.7 658.5,1469.9 659.2,1471.0 659.9,1471.7 660.6,1470.9 661.3,1470.5 662.0,1471.7 662.7,1471.3 663.4,1471.6 664.1,1471.3 664.8,1471.6 665.5,1469.1 666.2,1471.5 666.9,1471.4 667.6,1471.5 668.3,1471.5 669.0,1470.9 669.7,1471.8 670.4,1471.4 671.1,1472.0 671.8,1471.0 672.5,1470.6 673.2,1471.3 673.9,1470.9 674.6,1470.3 675.3,1471.7 676.0,1471.0 676.7,1471.9 677.4,1470.5 678.1,1471.7 678.8,1471.7 679.5,1470.7 680.2,1470.8 680.9,1469.8 681.6,1469.7 682.3,1471.7 683.0,1471.4 683.7,1470.9 684.4,1471.9 685.1,1470.5 685.8,1469.2 686.5,1470.9 687.2,1471.6 687.9,1469.8 688.6,1471.1 689.3,1470.5 690.0,1469.5 690.7,1471.5 691.4,1471.7 692.1,1471.9 692.8,1470.2 693.5,1471.0 694.2,1469.2 694.9,1471.8 695.6,1470.0 696.3,1468.6 697.0,1470.6 697.7,1471.4 698.4,1471.6 699.1,1471.6 699.8,1470.7 700.5,1470.7 701.2,1470.7 701.9,1469.7 702.6,1471.8 703.3,1469.7 704.0,1471.0 704.7,1469.7 705.4,1471.6 706.1,1470.8 706.8,1471.7 707.5,1471.2 708.2,1468.8 708.9,1470.5 709.6,1471.4 710.3,1471.6 711.0,1470.6 711.7,1470.8 712.4,1470.7 713.1,1471.5 713.8,1471.5 714.5,1470.4 715.2,1471.8 715.9,1471.1 716.6,1471.4 717.3,1471.7 718.0,1470.5 718.7,1470.3 719.4,1471.2 720.1,1471.8 720.8,1470.0 721.5,1471.7 722.2,1470.1 722.9,1470.8 723.6,1471.5 724.3,1469.9 725.0,1471.8 725.7,1471.7 726.4,1471.0 727.1,1470.5 727.8,1471.0 728.5,1470.3 729.2,1471.0 729.9,1471.5 730.6,1469.1 731.3,1471.8 732.0,1470.3 732.7,1471.6 733.4,1469.2 734.1,1471.9 734.8,1470.7 735.5,1471.3 736.2,1471.7 736.9,1471.0 737.6,1471.7 738.3,1470.4 739.0,1471.3 739.7,1471.9 740.4,1470.4 741.1,1471.0 741.8,1471.8 742.5,1471.2 743.2,1471.4 743.9,1471.7 744.6,1471.7 745.3,1471.1 746.0,1471.1 746.7,1470.8 747.4,1471.8 748.1,1471.3 748.8,1470.0 749.5,1471.5 750.2,1471.0 750.9,1469.7 751.6,1470.0 752.3,1469.7 753.0,1471.6 753.7,1471.3 754.4,1471.7 755.1,1468.9 755.8,1472.0 756.5,1471.0 757.2,1469.9 757.9,1471.0 758.6,1470.2 759.3,1470.7 760.0,1471.2 760.7,1472.0 761.4,1471.6 762.1,1470.1 762.8,1471.6 763.5,1469.3 764.2,1471.1 764.9,1471.8 765.6,1471.2 766.3,1470.5 767.0,1471.2 767.7,1470.8 768.4,1470.7 769.1,1470.7 769.8,1470.9 770.5,1469.3 771.2,1469.3 771.9,1470.4 772.6,1470.1 773.3,1471.5 774.0,1471.8 774.7,1469.6 775.4,1471.0 776.1,1471.9 776.8,1470.6 777.5,1470.9 778.2,1470.2 778.9,1472.0 779.6,1470.9 780.3,1470.0 781.0,1470.9 781.7,1471.0 782.4,1471.4 783.1,1471.8 783.8,1471.6 784.5,1471.9 785.2,1471.0 785.9,1471.0 786.6,1470.7 787.3,1471.0 788.0,1470.9 788.7,1469.5 789.4,1469.7 790.1,1471.2 790.8,1471.2 791.5,1471.1 792.2,1471.0 792.9,1470.3 793.6,1471.6 794.3,1471.1 795.0,1471.2 795.7,1471.4 796.4,1470.5 797.1,1470.6 797.8,1469.2 798.5,1468.9 799.2,1470.3 799.9,1471.3 800.6,1470.9 801.3,1472.0 802.0,1471.1 802.7,1471.8 803.4,1469.8 804.1,1471.6 804.8,1470.6 805.5,1471.3 806.2,1469.9 806.9,1471.2 807.6,1471.6 808.3,1471.7 809.0,1470.7 809.7,1471.3 810.4,1471.4 811.1,1469.5 811.8,1469.3 812.5,1472.0 813.2,1471.0 813.9,1471.5 814.6,1471.8 815.3,1472.0 816.0,1470.1 816.7,1470.1 817.4,1471.3 818.1,1469.6 818.8,1471.5 819.5,1471.4 820.2,1471.4 820.9,1470.4 821.6,1472.0 822.3,1470.8 823.0,1469.9 823.7,1469.4 824.4,1469.3 825.1,1471.6 825.8,1471.6 826.5,1469.6 827.2,1471.6 827.9,1469.1 828.6,1471.9 829.3,1471.8 830.0,1469.8 830.7,1471.6 831.4,1470.7 832.1,1470.6 832.8,1469.5 833.5,1471.7 834.2,1471.1 834.9,1470.1 835.6,1470.6 836.3,1471.6 837.0,1472.0 837.7,1470.5 838.4,1471.5 839.1,1471.1 839.8,1471.4 840.5,1471.8 841.2,1470.9 841.9,1470.3 842.6,1469.8 843.3,1471.8 844.0,1471.8 844.7,1469.9 845.4,1471.4 846.1,1471.2 846.8,1470.3 847.5,1471.3 848.2,1469.3 848.9,1471.3 849.6,1468.4 850.3,1472.0 851.0,1471.7 851.7,1470.4 852.4,1471.7 853.1,1471.5 853.8,1470.7 854.5,1470.4 855.2,1471.1 855.9,1471.7 856.6,1471.2 857.3,1469.5 858.0,1471.4 858.7,1471.8 859.4,1471.6 860.1,1471.2 860.8,1469.2 861.5,1470.0 862.2,1471.4 862.9,1471.3 863.6,1470.3 864.3,1470.6 865.0,1471.8 865.7,1472.0 866.4,1471.6 867.1,1470.9 867.8,1471.3 868.5,1471.4 869.2,1471.4 869.9,1471.5 870.6,1471.1 871.3,1471.7 872.0,1470.3 872.7,1471.8 873.4,1470.9 874.1,1471.9 874.8,1471.3 875.5,1470.8 876.2,1471.8 876.9,1471.3 877.6,1470.4 878.3,1471.9 879.0,1471.4 879.7,1471.4 880.4,1470.4 881.1,1471.9 881.8,1471.4 882.5,1471.1 883.2,1470.4 883.9,1471.9 884.6,1471.9 885.3,1471.8 886.0,1470.6 886.7,1470.8 887.4,1469.9 888.1,1470.3 888.8,1471.9 889.5,1471.2 890.2,1469.2 890.9,1471.5 891.6,1470.8 892.3,1472.0 893.0,1469.5 893.7,1471.9 894.4,1471.7 895.1,1469.8 895.8,1469.3 896.5,1469.3 897.2,1470.9 897.9,1471.0 898.6,1470.3 899.3,1471.4 900.0,1471.9 900.7,1471.7 901.4,1471.0 902.1,1471.4 902.8,1470.9 903.5,1471.9 904.2,1471.7 904.9,1469.9 905.6,1471.2 906.3,1470.0 907.0,1471.5 907.7,1470.2 908.4,1471.6 909.1,1470.6 909.8,1472.0 910.5,1471.1 911.2,1470.8 911.9,1471.0 912.6,1470.3 913.3,1470.4 914.0,1470.1 914.7,1469.4 915.4,1471.3 916.1,1471.8 916.8,1471.9 917.5,1471.5 918.2,1472.0 918.9,1470.9 919.6,1471.7 920.3,1471.6 921.0,1471.4 921.7,1469.5 922.4,1471.1 923.1,1471.9 923.8,1471.3 924.5,1471.4 925.2,1470.5 925.9,1471.3 926.6,1470.7 927.3,1471.7 928.0,1471.2 928.7,1471.1 929.4,1471.4 930.1,1471.2 930.8,1471.0 931.5,1471.9 932.2,1471.9 932.9,1470.2 933.6,1470.0 934.3,1471.4 935.0,1470.0 935.7,1470.3 936.4,1471.5 937.1,1471.2 937.8,1471.4 938.5,1471.6 939.2,1471.8 939.9,1471.6 940.6,1471.3 941.3,1470.7 942.0,1470.6 942.7,1470.5 943.4,1470.3 944.1,1471.9 944.8,1471.6 945.5,1468.8 946.2,1471.3 946.9,1472.0 947.6,1470.2 948.3,1471.1 949.0,1471.6 949.7,1470.8 950.4,1471.0 951.1,1471.5 951.8,1471.6 952.5,1470.5 953.2,1471.8 953.9,1471.3 954.6,1471.1 955.3,1471.8 956.0,1471.3 956.7,1470.0 957.4,1470.8 958.1,1470.9 958.8,1470.1 959.5,1470.3 960.2,1471.2 960.9,1470.6 961.6,1471.1 962.3,1470.5 963.0,1471.9 963.7,1471.9 964.4,1470.0 965.1,1470.8 965.8,1469.5 966.0,1697.3 965.8,1698.2 965.1,1699.0 964.4,1699.9 963.7,1698.4 963.0,1699.5 962.3,1700.6 961.6,1700.0 960.9,1697.6 960.2,1701.3 959.5,1698.3 958.8,1699.0 958.1,1699.1 957.4,1698.2 956.7,1699.3 956.0,1699.1 955.3,1698.2 954.6,1700.3 953.9,1699.7 953.2,1697.6 952.5,1698.2 951.8,1699.4 951.1,1697.5 950.4,1698.0 949.7,1701.2 949.0,1698.2 948.3,1699.0 947.6,1698.3 946.9,1697.3 946.2,1697.6 945.5,1699.9 944.8,1697.4 944.1,1699.7 943.4,1697.6 942.7,1698.7 942.0,1699.2 941.3,1698.2 940.6,1697.5 939.9,1698.1 939.2,1698.4 938.5,1697.9 937.8,1699.5 937.1,1699.2 936.4,1698.3 935.7,1703.1 935.0,1698.9 934.3,1698.1 933.6,1697.9 932.9,1698.8 932.2,1697.9 931.5,1697.5 930.8,1697.8 930.1,1698.1 929.4,1697.5 928.7,1699.1 928.0,1697.9 927.3,1698.6 926.6,1697.3 925.9,1700.7 925.2,1697.7 924.5,1699.2 923.8,1697.8 923.1,1697.7 922.4,1698.8 921.7,1697.9 921.0,1697.9 920.3,1698.1 919.6,1698.2 918.9,1698.7 918.2,1697.5 917.5,1698.3 916.8,1697.7 916.1,1697.5 915.4,1698.2 914.7,1697.7 914.0,1698.7 913.3,1698.4 912.6,1697.9 911.9,1698.7 911.2,1697.9 910.5,1699.5 909.8,1699.3 909.1,1699.1 908.4,1698.1 907.7,1697.7 907.0,1697.7 906.3,1699.6 905.6,1698.7 904.9,1697.9 904.2,1697.5 903.5,1699.5 902.8,1697.4 902.1,1700.4 901.4,1700.8 900.7,1698.0 900.0,1698.5 899.3,1698.8 898.6,1698.7 897.9,1702.6 897.2,1701.8 896.5,1697.8 895.8,1697.9 895.1,1697.4 894.4,1697.8 893.7,1697.8 893.0,1698.3 892.3,1700.6 891.6,1699.1 890.9,1698.1 890.2,1697.7 889.5,1698.0 888.8,1699.4 888.1,1699.7 887.4,1699.1 886.7,1699.8 886.0,1698.7 885.3,1699.9 884.6,1698.5 883.9,1697.6 883.2,1699.5 882.5,1698.8 881.8,1698.8 881.1,1699.3 880.4,1698.1 879.7,1697.3 879.0,1699.3 878.3,1699.9 877.6,1699.9 876.9,1698.4 876.2,1697.4 875.5,1697.8 874.8,1697.4 874.1,1698.1 873.4,1699.9 872.7,1699.4 872.0,1698.6 871.3,1698.1 870.6,1699.4 869.9,1697.4 869.2,1698.1 868.5,1698.7 867.8,1698.6 867.1,1698.9 866.4,1700.0 865.7,1697.4 865.0,1699.3 864.3,1697.5 863.6,1698.2 862.9,1697.7 862.2,1697.3 861.5,1698.4 860.8,1699.9 860.1,1697.7 859.4,1697.6 858.7,1700.6 858.0,1698.4 857.3,1697.6 856.6,1698.0 855.9,1697.4 855.2,1698.2 854.5,1698.9 853.8,1700.1 853.1,1698.6 852.4,1702.5 851.7,1697.3 851.0,1699.3 850.3,1697.6 849.6,1699.1 848.9,1698.3 848.2,1700.0 847.5,1698.8 846.8,1699.0 846.1,1701.6 845.4,1697.3 844.7,1702.2 844.0,1701.1 843.3,1698.5 842.6,1697.3 841.9,1698.9 841.2,1698.2 840.5,1698.2 839.8,1700.0 839.1,1698.3 838.4,1698.1 837.7,1701.1 837.0,1698.1 836.3,1699.4 835.6,1697.6 834.9,1697.9 834.2,1697.4 833.5,1698.7 832.8,1698.3 832.1,1698.9 831.4,1698.4 830.7,1698.8 830.0,1699.3 829.3,1699.0 828.6,1697.4 827.9,1698.3 827.2,1699.1 826.5,1698.2 825.8,1700.9 825.1,1699.0 824.4,1698.8 823.7,1697.7 823.0,1699.8 822.3,1697.5 821.6,1698.4 820.9,1698.1 820.2,1697.4 819.5,1699.3 818.8,1697.4 818.1,1699.4 817.4,1699.6 816.7,1697.7 816.0,1697.9 815.3,1697.9 814.6,1698.3 813.9,1698.3 813.2,1701.8 812.5,1700.0 811.8,1697.4 811.1,1697.7 810.4,1697.5 809.7,1698.2 809.0,1697.6 808.3,1701.2 807.6,1697.4 806.9,1698.9 806.2,1698.3 805.5,1698.5 804.8,1698.0 804.1,1698.1 803.4,1698.6 802.7,1699.2 802.0,1699.8 801.3,1697.3 800.6,1697.7 799.9,1698.7 799.2,1698.2 798.5,1697.9 797.8,1698.5 797.1,1701.3 796.4,1698.5 795.7,1698.2 795.0,1698.3 794.3,1699.4 793.6,1698.1 792.9,1698.3 792.2,1699.3 791.5,1699.9 790.8,1697.9 790.1,1698.0 789.4,1697.4 788.7,1697.6 788.0,1697.6 787.3,1698.4 786.6,1701.3 785.9,1697.8 785.2,1697.7 784.5,1697.7 783.8,1698.0 783.1,1699.9 782.4,1697.4 781.7,1698.0 781.0,1698.4 780.3,1697.5 779.6,1697.4 778.9,1698.3 778.2,1699.5 777.5,1698.0 776.8,1697.8 776.1,1699.7 775.4,1698.1 774.7,1697.7 774.0,1697.5 773.3,1698.3 772.6,1698.1 771.9,1698.3 771.2,1698.1 770.5,1699.0 769.8,1697.5 769.1,1697.6 768.4,1698.0 767.7,1697.6 767.0,1697.7 766.3,1699.1 765.6,1699.2 764.9,1698.7 764.2,1699.3 763.5,1700.1 762.8,1699.3 762.1,1699.0 761.4,1697.8 760.7,1698.6 760.0,1699.1 759.3,1698.5 758.6,1697.8 757.9,1697.6 757.2,1697.5 756.5,1699.3 755.8,1702.4 755.1,1698.6 754.4,1699.0 753.7,1698.2 753.0,1698.6 752.3,1698.0 751.6,1698.2 750.9,1700.5 750.2,1697.5 749.5,1697.5 748.8,1698.9 748.1,1698.0 747.4,1698.2 746.7,1697.8 746.0,1697.9 745.3,1697.4 744.6,1698.4 743.9,1698.9 743.2,1699.3 742.5,1697.4 741.8,1698.5 741.1,1698.0 740.4,1699.8 739.7,1697.7 739.0,1697.4 738.3,1697.5 737.6,1698.4 736.9,1698.2 736.2,1697.5 735.5,1698.6 734.8,1698.8 734.1,1698.9 733.4,1697.4 732.7,1697.6 732.0,1700.4 731.3,1698.7 730.6,1698.0 729.9,1697.6 729.2,1699.2 728.5,1698.7 727.8,1699.9 727.1,1697.6 726.4,1699.7 725.7,1698.5 725.0,1700.9 724.3,1697.4 723.6,1697.8 722.9,1699.2 722.2,1698.4 721.5,1699.1 720.8,1699.5 720.1,1700.1 719.4,1697.3 718.7,1698.1 718.0,1697.6 717.3,1697.6 716.6,1700.4 715.9,1697.8 715.2,1698.5 714.5,1697.4 713.8,1697.9 713.1,1697.5 712.4,1697.6 711.7,1699.4 711.0,1697.9 710.3,1698.6 709.6,1698.7 708.9,1697.6 708.2,1697.8 707.5,1697.5 706.8,1698.1 706.1,1699.3 705.4,1699.8 704.7,1697.6 704.0,1699.6 703.3,1700.5 702.6,1698.2 701.9,1697.6 701.2,1700.0 700.5,1699.6 699.8,1698.1 699.1,1700.6 698.4,1697.8 697.7,1699.0 697.0,1699.0 696.3,1699.4 695.6,1697.4 694.9,1699.3 694.2,1697.4 693.5,1697.5 692.8,1698.1 692.1,1697.8 691.4,1698.0 690.7,1698.4 690.0,1698.2 689.3,1698.2 688.6,1699.5 687.9,1698.2 687.2,1702.3 686.5,1698.1 685.8,1697.7 685.1,1698.6 684.4,1698.8 683.7,1701.2 683.0,1698.8 682.3,1700.0 681.6,1698.4 680.9,1697.5 680.2,1698.5 679.5,1698.5 678.8,1698.7 678.1,1698.2 677.4,1698.4 676.7,1698.5 676.0,1700.9 675.3,1697.6 674.6,1697.5 673.9,1697.7 673.2,1698.9 672.5,1700.5 671.8,1701.2 671.1,1698.2 670.4,1697.4 669.7,1697.5 669.0,1699.6 668.3,1698.4 667.6,1698.6 666.9,1698.0 666.2,1698.8 665.5,1698.3 664.8,1697.7 664.1,1699.8 663.4,1699.7 662.7,1698.9 662.0,1699.1 661.3,1699.7 660.6,1700.8 659.9,1697.9 659.2,1699.0 658.5,1698.5 657.8,1698.7 657.1,1698.2 656.4,1697.7 655.7,1700.6 655.0,1699.3 654.3,1698.1 653.6,1698.1 652.9,1697.4 652.2,1697.5 651.5,1698.5 650.8,1698.6 650.1,1698.0 649.4,1699.0 648.7,1698.6 648.0,1699.5 647.3,1698.8 646.6,1697.8 645.9,1698.4 645.2,1698.8 644.5,1698.6 643.8,1700.8 643.1,1698.6 642.4,1700.3 641.7,1700.1 641.0,1700.0 640.3,1698.2 639.6,1698.4 638.9,1697.6 638.2,1698.6 637.5,1701.1 636.8,1701.6 636.1,1699.3 635.4,1697.8 634.7,1698.9 634.0,1699.5 633.3,1698.0 632.6,1697.9 631.9,1697.8 631.2,1699.0 630.5,1697.6 629.8,1701.3 629.1,1699.1 628.4,1699.7 627.7,1698.3 627.0,1698.7 626.3,1698.2 625.6,1697.6 624.9,1698.6 624.2,1698.4 623.5,1697.4 622.8,1698.0 622.1,1702.3 621.4,1699.2 620.7,1699.3 620.0,1698.4 619.3,1697.8 618.6,1698.6 617.9,1699.5 617.2,1698.6 616.5,1700.0 615.8,1699.0 615.1,1697.7 614.4,1698.8 613.7,1700.7 613.0,1698.6 612.3,1700.2 611.6,1697.3 610.9,1698.9 610.2,1699.6 609.5,1697.4 608.8,1698.5 608.1,1700.9 607.4,1697.5 606.7,1698.7 606.0,1699.2 605.3,1697.5 604.6,1699.5 603.9,1698.5 603.2,1697.5 602.5,1698.9 601.8,1699.2 601.1,1697.7 600.4,1699.1 599.7,1697.8 599.0,1698.2 598.3,1700.4 597.6,1700.2 596.9,1697.9 596.2,1699.0 595.5,1697.6 594.8,1701.0 594.1,1699.5 593.4,1698.9 592.7,1697.7 592.0,1697.7 591.3,1698.8 590.6,1698.1 589.9,1697.4 589.2,1700.0 588.5,1701.3 587.8,1698.5 587.1,1699.3 586.4,1698.6 585.7,1697.8 585.0,1700.1 584.3,1698.2 583.6,1700.2 582.9,1702.3 582.2,1699.6 581.5,1700.4 580.8,1697.5 580.1,1698.3 579.4,1698.8 578.7,1701.8 578.0,1697.6 577.3,1698.4 576.6,1697.7 575.9,1697.9 575.2,1698.2 574.5,1697.5 573.8,1697.7 573.1,1699.6 572.4,1700.3 571.7,1698.4 571.0,1698.4 570.3,1698.6 569.6,1699.7 568.9,1697.9 568.2,1699.0 567.5,1700.5 566.8,1697.4 566.1,1701.1 565.4,1697.7 564.7,1697.4 564.0,1699.8 563.3,1698.9 562.6,1699.3 561.9,1697.6 561.2,1697.5 560.5,1698.3 559.8,1699.4 559.1,1697.5 558.4,1697.8 557.7,1697.4 557.0,1697.7 556.3,1697.9 555.6,1699.7 554.9,1698.1 554.2,1697.9 553.5,1698.0 552.8,1698.1 552.1,1699.8 551.4,1697.3 550.7,1697.4 550.0,1702.0 549.3,1699.3 548.6,1700.5 547.9,1697.9 547.2,1700.7 546.5,1698.1 545.8,1699.1 545.1,1697.3 544.4,1698.0 543.7,1698.0 543.0,1698.6 542.3,1698.8 541.6,1698.8 540.9,1698.3 540.2,1697.9 539.5,1699.7 538.8,1697.3 538.1,1698.9 537.4,1697.6 536.7,1698.0 536.0,1698.8 535.3,1698.6 534.6,1699.0 533.9,1698.2 533.2,1698.5 532.5,1698.8 531.8,1698.4 531.1,1697.5 530.4,1699.4 529.7,1697.7 529.0,1698.6 528.3,1699.4 527.6,1699.7 526.9,1699.1 526.2,1699.0 525.5,1698.0 524.8,1698.0 524.1,1697.3 523.4,1697.7 522.7,1698.8 522.0,1699.9 521.3,1697.4 520.6,1698.6 519.9,1702.7 519.2,1698.0 518.5,1698.4 517.8,1702.6 517.1,1700.8 516.4,1700.0 515.7,1699.5 515.0,1700.4 514.3,1698.1 513.6,1698.4 512.9,1698.5 512.2,1701.6 511.5,1697.8 510.8,1697.4 510.1,1701.0 509.4,1698.2 508.7,1699.2 508.0,1699.3 507.3,1698.5 506.6,1699.0 505.9,1698.7 505.2,1699.4 504.5,1698.6 503.8,1698.9 503.1,1699.2 502.4,1697.4 501.7,1698.7 501.0,1699.3 500.3,1698.6 499.6,1698.2 498.9,1697.9 498.2,1698.0 497.5,1699.5 496.8,1697.7 496.1,1699.2 495.4,1698.2 494.7,1698.9 494.0,1698.9 493.3,1699.2 492.6,1697.9 491.9,1699.5 491.2,1697.6 490.5,1698.8 489.8,1699.8 489.1,1697.4 488.4,1698.6 487.7,1697.4 487.0,1698.4 486.3,1700.1 485.6,1699.4 484.9,1700.4 484.2,1698.4 483.5,1697.8 482.8,1698.5 482.1,1697.5 481.4,1698.6 480.7,1698.1 480.0,1698.7 479.3,1700.0 478.6,1698.8 477.9,1700.4 477.2,1698.0 476.5,1698.5 475.8,1697.7 475.1,1697.5 474.4,1698.7 473.7,1699.2 473.0,1698.1 472.3,1700.7 471.6,1698.0 470.9,1699.2 470.2,1698.2 469.5,1697.7 468.8,1698.4 468.1,1699.3 467.4,1697.6 466.7,1697.7 466.0,1699.1 465.3,1699.8 464.6,1697.7 463.9,1700.3 463.2,1699.0 462.5,1698.5 461.8,1697.4 461.1,1697.3 460.4,1698.3 459.7,1697.3 459.0,1697.6 458.3,1697.8 457.6,1699.9 456.9,1698.7 456.2,1699.1 455.5,1698.9 454.8,1697.6 454.1,1698.5 453.4,1697.5 452.7,1701.2 452.0,1698.9 451.3,1699.2 450.6,1697.7 449.9,1701.9 449.2,1697.7 448.5,1698.3 447.8,1700.6 447.1,1699.2 446.4,1698.7 445.7,1697.5 445.0,1698.7 444.3,1698.9 443.6,1698.7 442.9,1697.9 442.2,1697.7 441.5,1697.3 440.8,1698.2 440.1,1699.2 439.4,1700.9 438.7,1697.4 438.0,1698.9 437.3,1698.7 436.6,1699.5 435.9,1698.4 435.2,1700.5 434.5,1698.8 433.8,1698.2 433.1,1698.3 432.4,1698.0 431.7,1698.2 431.0,1700.7 430.3,1697.9 429.6,1701.0 428.9,1698.4 428.2,1699.0 427.5,1698.4 426.8,1698.8 426.1,1698.5 425.4,1700.0 424.7,1698.8 424.0,1701.0 423.3,1699.4 422.6,1700.1 421.9,1697.4 421.2,1699.0 420.5,1699.8 419.8,1699.4 419.1,1697.7 418.4,1697.9 417.7,1699.1 417.0,1697.6 416.3,1700.5 415.6,1697.6 414.9,1698.4 414.2,1698.0 413.5,1698.1 412.8,1699.6 412.1,1698.1 411.4,1698.5 410.7,1698.8 410.0,1698.7 409.3,1698.2 408.6,1698.0 407.9,1698.3 407.2,1697.4 406.5,1699.0 405.8,1698.0 405.1,1697.4 404.4,1700.0 403.7,1698.4 403.0,1697.4 402.3,1698.3 401.6,1699.2 400.9,1697.6 400.2,1698.3 399.5,1700.0 398.8,1698.0 398.1,1701.0 397.4,1698.2 396.7,1699.4 396.0,1698.1 395.3,1697.3 394.6,1697.9 393.9,1698.0 393.2,1698.7 392.5,1698.7 391.8,1700.6 391.1,1697.5 390.4,1698.6 389.7,1698.1 389.0,1698.9 388.3,1701.3 387.6,1697.4 386.9,1697.9 386.2,1700.4 385.5,1699.8 384.8,1701.7 384.1,1698.0 383.4,1699.2 382.7,1698.1 382.0,1699.4 381.3,1697.5 380.6,1698.6 379.9,1697.4 379.2,1702.8 378.5,1698.4 377.8,1697.6 377.1,1698.9 376.4,1697.5 375.7,1699.0 375.0,1698.1 374.3,1697.5 373.6,1697.8 372.9,1698.9 372.2,1698.5 371.5,1698.3 370.8,1698.9 370.1,1697.9 369.4,1697.9 368.7,1700.1 368.0,1698.8 367.3,1697.7 366.6,1697.7 365.9,1698.6 365.2,1699.5 364.5,1701.4 363.8,1697.3 363.1,1697.7 362.4,1699.1 361.7,1700.8 361.0,1697.8 360.3,1699.0 359.6,1698.2 358.9,1699.4 358.2,1698.4 357.5,1700.0 356.8,1699.6 356.1,1700.6 355.4,1698.1 354.7,1700.0 354.0,1697.6 353.3,1699.9 352.6,1700.7 351.9,1699.7 351.2,1697.7 350.5,1698.5 349.8,1697.8 349.1,1697.7 348.4,1698.5 347.7,1698.1 347.0,1698.2 346.3,1700.0 345.6,1698.2 344.9,1698.0 344.2,1698.8 343.5,1697.3 342.8,1698.8 342.1,1698.8 341.4,1697.7 340.7,1698.3 340.0,1698.9 339.3,1697.4 338.6,1699.8 337.9,1698.5 337.2,1701.1 336.5,1699.3 335.8,1702.0 335.1,1699.0 334.4,1699.1 333.7,1698.9 333.0,1699.6 332.3,1699.9 331.6,1697.8 330.9,1697.3 330.2,1700.3 329.5,1697.4 328.8,1697.5 328.1,1699.3 327.4,1699.0 326.7,1698.5 326.0,1698.5 325.3,1698.7 324.6,1697.5 323.9,1699.8 323.2,1699.4 322.5,1699.9 321.8,1697.7 321.1,1699.4 320.4,1698.3 319.7,1699.2 319.0,1697.6 318.3,1697.4 317.6,1698.0 316.9,1697.4 316.2,1697.9 315.5,1699.5 314.8,1698.0 314.1,1697.3 313.4,1698.6 312.7,1697.9 312.0,1699.8 311.3,1699.4 310.6,1697.8 309.9,1698.4 309.2,1699.1 308.5,1699.3 307.8,1697.7 307.1,1699.8 306.4,1699.3 305.7,1701.0 305.0,1697.8 304.3,1700.4 303.6,1699.6 302.9,1698.3 302.2,1698.5 301.5,1698.8 300.8,1699.5 300.1,1698.5 299.4,1698.0 298.7,1698.8 298.0,1699.5 297.3,1697.6 296.6,1697.9 295.9,1697.9 295.2,1699.1 294.5,1698.0 293.8,1699.5 293.1,1700.2 292.4,1698.4 291.7,1698.5 291.0,1698.6 290.3,1698.8 289.6,1697.4 288.9,1699.8 288.2,1699.7 287.5,1698.0 286.8,1699.4 286.1,1697.7 285.4,1701.4 284.7,1697.3 284.0,1698.0 283.3,1697.9 282.6,1699.8 281.9,1701.7 281.2,1697.3 280.5,1697.9 279.8,1698.2 279.1,1697.5 278.4,1700.5 277.7,1697.4 277.0,1700.7 276.3,1698.4 275.6,1700.9 274.9,1699.3 274.2,1698.1 273.5,1699.6 272.8,1697.4 272.1,1698.9 271.4,1698.6 270.7,1700.4 270.0,1697.5 269.3,1698.7 268.6,1699.7 267.9,1698.6 267.2,1697.4 266.5,1698.4 265.8,1697.5 265.1,1698.6 264.4,1698.4 263.7,1698.4 263.0,1700.0 262.3,1699.9 261.6,1698.0 260.9,1701.0 260.2,1700.3 259.5,1698.8 258.8,1700.4 258.1,1699.0 257.4,1700.1 256.7,1700.3 256.0,1698.3 255.3,1697.7 254.6,1697.6 253.9,1698.6 253.2,1697.8 252.5,1697.8 251.8,1701.0 251.1,1698.9 250.4,1697.6 249.7,1697.3 249.0,1698.0 248.3,1699.3 247.6,1699.9 246.9,1699.0 246.2,1698.0 245.5,1700.0 244.8,1699.8 244.1,1699.3 243.4,1698.2 242.7,1698.6 242.0,1700.8 241.3,1698.1 240.6,1698.1 239.9,1698.7 239.2,1699.1 238.5,1698.6 237.8,1697.7 237.1,1698.7 236.4,1697.8 235.7,1699.5 235.0,1699.5 234.3,1697.8 233.6,1698.4 232.9,1699.4 232.2,1699.4 231.5,1697.5 230.8,1697.4 230.1,1697.7 229.4,1697.5 228.7,1697.4 228.0,1701.1 227.3,1698.3 226.6,1699.1 225.9,1699.8 225.2,1698.4 224.5,1698.5 223.8,1697.4 223.1,1698.0 222.4,1698.2 221.7,1698.1 221.0,1699.7 220.3,1700.0 219.6,1698.5 218.9,1697.7 218.2,1699.1 217.5,1699.2 216.8,1699.2 216.1,1697.4 215.4,1697.8 214.7,1700.8 214.0,1697.5 213.3,1699.7 212.6,1697.6 211.9,1697.6 211.2,1697.6 210.5,1698.6 209.8,1699.0 209.1,1698.0 208.4,1699.3 207.7,1698.3 207.0,1698.3 206.3,1699.3 205.6,1698.7 204.9,1699.7 204.2,1698.3 203.5,1697.5 202.8,1699.9 202.1,1700.7 201.4,1697.9 200.7,1699.9 200.0,1699.8 199.3,1698.6 198.6,1701.3 197.9,1698.0 197.2,1699.5 196.5,1700.9 195.8,1699.0 195.1,1697.7 194.4,1697.9 193.7,1698.3 193.0,1697.7 192.3,1698.9 191.6,1698.5 190.9,1698.7 190.2,1697.6 189.5,1698.8 188.8,1701.4 188.1,1697.4 187.4,1698.0 186.7,1698.0 186.0,1698.5 185.3,1699.8 184.6,1697.5 183.9,1698.4 183.2,1700.9 182.5,1701.3 181.8,1699.4 181.1,1697.8 180.4,1697.9 179.7,1698.3 179.0,1699.4 178.3,1698.5 177.6,1697.7 176.9,1699.3 176.2,1699.2 175.5,1698.2 174.8,1698.6 174.1,1697.9 173.4,1699.9 172.7,1697.7 172.0,1697.6 171.3,1699.6 170.6,1698.1 169.9,1697.7 169.2,1697.5 168.5,1697.8 167.8,1699.0 167.1,1697.6 166.4,1700.0 165.7,1698.7 165.0,1699.5 164.3,1698.8 163.6,1698.5 162.9,1698.3 162.2,1698.7 161.5,1698.8 160.8,1698.6 160.1,1700.8 159.4,1698.5 158.7,1701.0 158.0,1697.8 157.3,1699.6 156.6,1699.6 155.9,1699.4 155.2,1697.6 154.5,1698.7 153.8,1699.2 153.1,1698.5 152.4,1698.9 151.7,1697.7 151.0,1699.4 150.3,1697.6 149.6,1697.8 148.9,1702.0 148.2,1700.4 147.5,1698.0 146.8,1698.1 146.1,1699.9 145.4,1702.7 144.7,1698.9 144.0,1698.2 143.3,1699.2 142.6,1700.6 141.9,1697.5 141.2,1699.3 140.5,1697.5 139.8,1697.3 139.1,1698.2 138.4,1698.8 137.7,1699.3 137.0,1698.3 136.3,1698.6 135.6,1699.0 134.9,1698.7 134.2,1697.8 133.5,1698.0 132.8,1699.5 132.1,1698.8 131.4,1698.8 130.7,1699.0 130.0,1698.8 129.3,1702.3 128.6,1698.9" fill="#ff0000" fill-opacity="1.0"/><text transform="translate(129.2 1771.0) scale(1 1.09)" font-size="30" fill="#262626" text-anchor="middle" >0</text><text transform="translate(337.6 1771.0) scale(1 1.09)" font-size="30" fill="#262626" text-anchor="middle" >500</text><text transform="translate(546.1 1771.0) scale(1 1.09)" font-size="30" fill="#262626" text-anchor="middle" >1000</text><text transform="translate(754.5 1771.0) scale(1 1.09)" font-size="30" fill="#262626" text-anchor="middle" >1500</text><text transform="translate(962.9 1771.0) scale(1 1.09)" font-size="30" fill="#262626" text-anchor="middle" >2000</text><text transform="translate(120.2 1746.3) scale(1 1.09)" font-size="30" fill="#262626" text-anchor="end" >-0.5</text><text transform="translate(120.2 1594.1) scale(1 1.09)" font-size="30" fill="#262626" text-anchor="end" >0</text><text transform="translate(120.2 1441.9) scale(1 1.09)" font-size="30" fill="#262626" text-anchor="end" >0.5</text><text x="547.5" y="1808.9" font-size="33" fill="#262626" text-anchor="middle" >Time (μs)</text><text x="57.5" y="1579.2" font-size="34.5" fill="#262626" text-anchor="middle" transform="rotate(-90 57.5 1579.2)">Volts (V)</text><text x="547.5" y="1415.3" font-size="33" fill="#000" text-anchor="middle" >After Baseband Data</text><rect x="235.2" y="1466.0" width="723.8" height="239.5999999999999" fill="#fff" stroke="#000" stroke-width="3.4" stroke-linejoin="round"/><polyline points="293.50,1520.4 293.74,1533.5 293.90,1520.4 294.20,1571.2 294.83,1611.5 295.26,1620.6 296.20,1571.2 296.90,1527.0 297.60,1523.4 298.22,1522.1 298.85,1520.0 299.47,1517.7 300.09,1516.1 300.72,1513.6 301.34,1519.1 301.96,1516.4 302.58,1520.6 303.21,1517.6 303.83,1513.2 304.45,1515.0 305.08,1518.4 305.70,1515.2 306.15,1529.8 306.60,1571.2 307.53,1601.9 308.15,1612.6 308.60,1609.6 309.40,1571.2 310.12,1530.8 310.60,1523.6 311.40,1571.2 312.09,1611.9 312.56,1619.8 313.40,1571.2 314.06,1534.5 314.49,1524.4 315.40,1571.2 316.28,1605.3 316.87,1619.0 317.32,1617.1 317.90,1571.2 318.53,1534.5 318.96,1523.6 319.90,1571.2 320.60,1612.6 321.30,1613.8 321.98,1615.3 322.67,1620.7 323.35,1621.0 324.03,1622.5 324.72,1634.3 325.40,1621.9 325.85,1610.0 326.30,1571.2 327.00,1541.8 327.47,1534.1 328.70,1571.2 329.37,1605.8 329.82,1619.8 330.70,1571.2 331.40,1535.5 332.10,1533.4 332.80,1534.8 333.50,1527.7 334.20,1521.2 334.65,1537.7 335.10,1571.2 335.80,1614.2 336.50,1616.3 337.12,1620.7 337.75,1621.0 338.37,1621.0 338.99,1622.1 339.62,1623.4 340.24,1626.0 340.86,1622.9 341.48,1624.6 342.11,1623.8 342.73,1625.4 343.35,1630.3 343.98,1622.5 344.60,1629.0 345.05,1611.5 345.50,1571.2 346.20,1530.4 346.90,1526.8 347.54,1525.1 348.19,1523.7 348.83,1515.6 349.47,1521.7 350.11,1522.0 350.76,1518.1 351.40,1519.3 351.85,1532.9 352.30,1571.2 353.00,1610.3 353.70,1612.2 354.40,1624.6 355.10,1614.4 355.80,1617.8 356.25,1607.9 356.70,1571.2 357.40,1530.2 358.10,1526.2 358.71,1526.4 359.32,1524.2 359.93,1521.7 360.54,1524.9 361.15,1519.2 361.76,1515.6 362.37,1521.2 362.98,1520.7 363.59,1519.9 364.20,1522.5 364.65,1532.8 365.10,1571.2 365.80,1608.0 366.50,1610.6 367.15,1613.6 367.80,1613.6 368.45,1622.0 369.10,1619.4 369.55,1605.7 370.00,1571.2 370.70,1527.8 371.40,1524.9 372.15,1513.2 372.90,1519.7 373.35,1530.5 373.80,1571.2 374.56,1603.9 375.07,1615.8 375.52,1613.3 376.60,1571.2 377.30,1532.8 378.00,1531.6 378.85,1518.8 379.70,1526.3 380.15,1535.2 380.60,1571.2 381.30,1615.1 382.00,1619.5 382.70,1630.3 383.40,1625.4 384.10,1620.0 384.55,1612.3 385.00,1571.2 385.70,1530.7 386.40,1525.6 387.10,1525.7 387.80,1516.4 388.50,1522.6 388.95,1533.3 389.40,1571.2 390.10,1610.2 390.80,1613.9 391.43,1611.6 392.07,1614.0 392.70,1620.1 393.33,1617.0 393.97,1619.4 394.60,1630.3 395.05,1607.8 395.50,1571.2 396.20,1527.4 396.90,1525.1 397.51,1522.1 398.12,1520.5 398.73,1520.9 399.34,1519.7 399.95,1518.1 400.56,1511.6 401.17,1516.1 401.78,1515.5 402.39,1515.0 403.00,1518.0 403.45,1530.2 403.90,1571.2 404.68,1602.2 405.21,1614.2 405.66,1612.3 406.30,1571.2 407.00,1530.0 407.70,1528.4 408.38,1525.1 409.07,1524.7 409.75,1515.6 410.43,1518.8 411.12,1521.3 411.80,1519.0 412.25,1532.6 412.70,1571.2 413.69,1600.6 414.35,1610.2 414.80,1607.0 415.50,1571.2 416.20,1526.6 416.90,1522.7 417.53,1520.2 418.16,1519.9 418.79,1516.1 419.42,1516.8 420.06,1517.5 420.69,1517.6 421.32,1515.4 421.95,1516.3 422.58,1517.9 423.21,1516.1 423.84,1512.6 424.48,1515.8 425.11,1515.9 425.74,1514.7 426.37,1511.6 427.00,1512.9 427.45,1529.4 427.90,1571.2 428.60,1611.8 429.30,1614.6 429.95,1615.8 430.60,1619.0 431.25,1620.0 431.90,1619.1 432.55,1616.5 433.20,1616.6 433.85,1625.0 434.50,1630.3 435.15,1621.3 435.80,1622.9 436.25,1609.3 436.70,1571.2 437.40,1527.0 438.10,1523.5 438.71,1523.4 439.32,1518.0 439.94,1519.4 440.55,1514.0 441.16,1518.3 441.77,1517.9 442.38,1517.1 442.99,1516.8 443.61,1516.7 444.22,1517.6 444.83,1517.7 445.44,1514.5 446.05,1511.6 446.66,1514.4 447.28,1516.3 447.89,1515.6 448.50,1516.8 448.95,1529.8 449.40,1571.2 450.10,1611.8 450.80,1612.9 451.42,1614.9 452.05,1626.2 452.68,1620.5 453.30,1621.2 453.75,1609.2 454.20,1571.2 454.90,1534.6 455.60,1531.8 456.30,1532.1 457.00,1526.8 457.70,1520.4 458.15,1536.9 458.60,1571.2 459.30,1614.5 460.00,1618.4 460.62,1620.0 461.23,1620.2 461.85,1624.5 462.47,1625.8 463.08,1625.5 463.70,1628.7 464.15,1611.8 464.60,1571.2 465.30,1529.2 466.00,1527.0 466.68,1523.7 467.37,1518.6 468.05,1520.9 468.73,1513.2 469.42,1517.0 470.10,1517.8 470.55,1531.8 471.00,1571.2 471.70,1615.1 472.40,1619.1 473.05,1618.9 473.70,1620.8 474.35,1631.0 475.00,1624.6 475.45,1612.4 475.90,1571.2 476.75,1535.5 477.31,1520.4 477.76,1523.7 478.30,1571.2 479.00,1607.7 479.70,1609.0 480.55,1620.6 481.40,1613.4 481.85,1605.5 482.30,1571.2 483.04,1536.0 483.54,1525.2 484.70,1571.2 485.40,1611.7 486.10,1612.9 486.95,1615.2 487.80,1626.2 488.25,1609.2 488.70,1571.2 489.41,1538.7 489.88,1526.0 490.70,1571.2 491.40,1613.3 492.10,1616.4 492.80,1617.6 493.50,1620.7 494.20,1627.0 494.65,1610.6 495.10,1571.2 495.73,1539.2 496.15,1527.6 497.50,1571.2 498.16,1608.8 498.60,1615.8 499.50,1571.2 500.20,1531.9 500.90,1531.9 501.60,1527.3 502.30,1527.2 503.00,1518.0 503.45,1534.4 503.90,1571.2 504.53,1603.1 504.95,1614.2 505.40,1611.0 506.30,1571.2 506.88,1533.5 507.26,1525.2 508.30,1571.2 509.00,1613.4 509.70,1616.1 510.32,1616.8 510.95,1619.3 511.57,1621.1 512.19,1620.8 512.82,1625.1 513.44,1622.1 514.06,1621.4 514.68,1631.0 515.31,1625.0 515.93,1619.9 516.55,1623.0 517.18,1625.6 517.80,1622.7 518.25,1610.8 518.70,1571.2 519.40,1530.9 520.10,1525.2 520.83,1515.6 521.57,1525.2 522.30,1525.2 522.75,1533.4 523.20,1571.2 524.10,1607.1 524.69,1617.4 525.14,1614.4 526.00,1571.2 526.43,1534.3 526.72,1526.8 527.40,1571.2 528.10,1613.4 528.80,1616.0 529.42,1619.5 530.03,1634.3 530.65,1621.7 531.27,1623.3 531.88,1624.0 532.50,1620.7 532.95,1610.8 533.40,1571.2 534.21,1536.9 534.75,1523.6 535.20,1525.9 536.20,1571.2 536.90,1612.6 537.60,1612.1 538.45,1614.0 539.30,1626.2 539.75,1610.0 540.20,1571.2 540.87,1537.4 541.32,1527.6 542.60,1571.2 543.30,1614.2 544.00,1617.2 544.62,1619.7 545.25,1623.4 545.87,1624.1 546.49,1626.3 547.12,1628.3 547.74,1625.7 548.36,1626.0 548.99,1628.0 549.61,1623.4 550.24,1624.4 550.86,1625.4 551.48,1622.4 552.11,1626.7 552.73,1627.7 553.35,1634.3 553.98,1623.7 554.60,1626.6 555.05,1611.5 555.50,1571.2 556.20,1532.0 556.90,1531.3 557.52,1527.2 558.15,1518.0 558.77,1523.8 559.40,1522.8 559.85,1534.4 560.30,1571.2 561.00,1614.3 561.70,1617.0 562.55,1630.3 563.40,1622.2 563.85,1611.6 564.30,1571.2 565.00,1531.3 565.70,1531.1 566.40,1528.0 567.10,1523.0 567.80,1516.4 568.25,1533.8 568.70,1571.2 569.32,1604.0 569.74,1615.8 571.10,1571.2 571.80,1530.2 572.50,1529.0 573.13,1524.0 573.77,1521.5 574.40,1520.6 575.03,1521.6 575.67,1515.6 576.30,1520.6 576.93,1522.7 577.57,1519.8 578.20,1521.6 578.65,1532.8 579.10,1571.2 579.80,1612.6 580.50,1615.3 581.12,1626.2 581.75,1621.7 582.38,1620.6 583.00,1620.2 583.45,1610.0 583.90,1571.2 584.69,1537.0 585.22,1527.6 585.67,1528.9 586.70,1571.2 587.40,1615.8 588.10,1617.2 588.75,1631.9 589.40,1622.7 589.85,1613.1 590.30,1571.2 591.00,1534.1 591.70,1533.0 592.40,1530.9 593.10,1529.2 593.80,1519.6 594.25,1536.4 594.70,1571.2 595.34,1607.4 595.77,1619.0 596.70,1571.2 597.49,1534.3 598.01,1525.2 599.10,1571.2 599.80,1614.2 600.50,1620.0 601.12,1622.6 601.73,1619.7 602.35,1623.1 602.96,1624.3 603.58,1626.0 604.19,1626.1 604.81,1631.0 605.42,1625.2 606.04,1621.9 606.65,1624.1 607.27,1623.3 607.88,1623.9 608.50,1627.6 608.95,1611.5 609.40,1571.2 610.12,1543.6 610.60,1533.3 611.05,1536.5 612.20,1571.2 612.73,1612.4 613.08,1619.8 614.20,1571.2 614.81,1535.5 615.21,1528.5 616.20,1571.2 616.99,1611.8 617.52,1622.2 618.60,1571.2 619.17,1529.9 619.54,1520.4 620.60,1571.2 621.16,1603.9 621.53,1617.4 622.60,1571.2 623.30,1528.4 624.00,1527.0 624.70,1524.3 625.40,1514.0 626.10,1521.7 626.55,1531.1 627.00,1571.2 627.67,1604.4 628.12,1618.2 629.10,1571.2 629.91,1535.9 630.45,1521.2 631.50,1571.2 632.11,1609.7 632.52,1625.4 633.50,1571.2 634.22,1537.5 634.70,1524.4 635.90,1571.2 636.60,1613.4 637.30,1617.8 637.93,1621.4 638.57,1622.5 639.20,1617.9 639.83,1622.0 640.47,1636.7 641.10,1622.2 641.73,1622.2 642.37,1622.8 643.00,1624.8 643.45,1610.8 643.90,1571.2 644.66,1539.8 645.17,1528.5 645.62,1531.3 646.70,1571.2 647.40,1614.2 648.10,1613.9 648.73,1620.8 649.37,1620.6 650.00,1621.8 650.63,1623.9 651.27,1623.4 651.90,1625.5 652.53,1622.4 653.17,1631.9 653.80,1628.2 654.25,1611.5 654.70,1571.2 655.40,1530.7 656.10,1524.3 656.75,1528.7 657.40,1521.6 658.05,1526.3 658.70,1525.1 659.35,1517.2 660.00,1521.2 660.65,1519.5 661.30,1522.5 661.95,1520.1 662.60,1522.5 663.05,1533.2 663.50,1571.2 664.20,1613.2 664.90,1614.4 665.52,1628.7 666.15,1619.3 666.77,1621.6 667.40,1620.6 667.85,1610.6 668.30,1571.2 668.93,1540.6 669.36,1530.0 670.30,1571.2 671.01,1604.9 671.49,1618.2 672.30,1571.2 673.11,1533.1 673.65,1522.0 674.10,1524.4 674.70,1571.2 675.38,1604.4 675.83,1614.2 676.70,1571.2 677.40,1534.5 678.10,1534.5 678.83,1520.4 679.57,1528.5 680.30,1528.2 680.75,1536.8 681.20,1571.2 681.90,1611.1 682.60,1612.5 683.23,1618.2 683.87,1615.4 684.50,1626.2 684.95,1608.6 685.40,1571.2 686.10,1529.8 686.80,1524.4 687.48,1523.0 688.17,1521.2 688.85,1523.1 689.53,1520.1 690.22,1514.8 690.90,1520.2 691.35,1532.4 691.80,1571.2 692.50,1612.4 693.20,1617.9 693.90,1617.3 694.60,1616.8 695.30,1627.8 695.75,1609.8 696.20,1571.2 696.73,1536.2 697.08,1529.3 698.20,1571.2 698.90,1610.1 699.60,1610.2 700.30,1624.6 701.00,1617.1 701.70,1618.4 702.15,1607.7 702.60,1571.2 703.40,1540.1 703.93,1527.6 705.00,1571.2 705.58,1608.8 705.96,1620.6 707.00,1571.2 707.73,1537.6 708.22,1523.6 708.67,1524.6 709.50,1571.2 710.20,1610.2 710.90,1613.9 711.52,1615.0 712.13,1617.8 712.75,1615.6 713.37,1613.5 713.98,1620.7 714.60,1633.5 715.05,1607.8 715.50,1571.2 716.33,1535.9 716.88,1527.6 717.33,1528.6 718.30,1571.2 719.00,1618.2 719.70,1619.8 720.32,1624.6 720.93,1627.4 721.55,1625.8 722.17,1633.5 722.78,1630.3 723.40,1632.1 723.85,1615.2 724.30,1571.2 725.00,1529.9 725.70,1530.4 726.32,1525.8 726.95,1525.3 727.57,1518.8 728.19,1521.0 728.82,1514.8 729.44,1519.4 730.06,1520.5 730.68,1519.7 731.31,1517.6 731.93,1520.2 732.55,1520.8 733.18,1519.5 733.80,1521.0 734.25,1532.5 734.70,1571.2 735.40,1611.0 736.10,1615.0 736.73,1624.6 737.35,1618.3 737.98,1617.6 738.60,1619.3 739.05,1608.5 739.50,1571.2 740.19,1529.4 740.65,1521.2 741.50,1571.2 742.24,1610.7 742.73,1620.6 743.90,1571.2 744.63,1537.5 745.11,1527.6 746.30,1571.2 747.00,1612.8 747.70,1616.5 748.35,1619.6 749.00,1627.0 749.45,1610.2 749.90,1571.2 750.86,1540.1 751.49,1533.3 751.94,1536.0 752.70,1571.2 753.40,1610.2 754.10,1610.9 754.70,1616.7 755.30,1617.3 755.90,1630.0 756.50,1620.7 757.10,1619.2 757.70,1617.8 758.30,1621.1 758.90,1618.1 759.50,1618.3 760.10,1619.1 760.55,1607.8 761.00,1571.2 761.64,1539.3 762.07,1527.6 763.40,1571.2 764.07,1609.2 764.52,1618.2 765.40,1571.2 766.10,1534.5 766.80,1533.3 767.50,1521.2 768.20,1526.5 768.90,1526.7 769.35,1536.8 769.80,1571.2 770.50,1614.5 771.20,1618.2 771.90,1618.8 772.60,1620.9 773.30,1630.3 773.75,1611.8 774.20,1571.2 774.73,1537.0 775.08,1527.6 776.20,1571.2 776.84,1614.1 777.27,1622.2 778.20,1571.2 778.87,1537.2 779.31,1528.5 780.60,1571.2 781.30,1615.0 782.00,1619.8 782.73,1629.5 783.47,1624.1 784.20,1628.3 784.65,1612.3 785.10,1571.2 785.83,1539.9 786.31,1530.0 787.50,1571.2 788.20,1608.5 788.90,1609.4 789.55,1623.0 790.20,1611.2 790.65,1606.1 791.10,1571.2 791.84,1539.9 792.33,1530.9 793.50,1571.2 794.08,1606.6 794.46,1619.8 795.50,1571.2 796.19,1536.3 796.65,1523.6 797.90,1571.2 798.58,1602.8 799.03,1615.8 800.30,1571.2 801.00,1530.3 801.70,1529.6 802.55,1515.6 803.40,1525.7 803.85,1532.9 804.30,1571.2 805.03,1603.6 805.51,1617.4 805.96,1615.5 806.70,1571.2 807.24,1538.4 807.60,1525.2 808.70,1571.2 809.40,1612.0 810.10,1615.8 810.73,1615.5 811.35,1625.4 811.98,1620.5 812.60,1622.0 813.05,1609.5 813.50,1571.2 814.20,1531.3 814.90,1529.4 815.75,1525.1 816.60,1518.0 817.05,1533.8 817.50,1571.2 818.20,1604.9 818.66,1618.2 819.50,1571.2 820.20,1525.4 820.90,1520.6 821.58,1522.5 822.27,1518.2 822.95,1515.2 823.63,1510.8 824.32,1514.3 825.00,1516.6 825.45,1528.2 825.90,1571.2 826.60,1610.6 827.30,1610.5 828.00,1615.5 828.70,1623.9 829.40,1616.9 829.85,1608.2 830.30,1571.2 831.00,1527.0 831.70,1523.6 832.31,1521.5 832.92,1517.6 833.53,1517.0 834.14,1518.4 834.75,1515.8 835.36,1519.4 835.97,1519.2 836.58,1515.5 837.19,1516.8 837.80,1517.1 838.40,1517.3 839.01,1515.2 839.62,1517.3 840.23,1513.2 840.84,1515.9 841.45,1518.1 842.06,1515.9 842.67,1514.4 843.28,1515.0 843.89,1516.6 844.50,1514.7 844.95,1529.8 845.40,1571.2 846.10,1612.3 846.80,1612.9 847.50,1626.2 848.20,1618.3 848.90,1621.8 849.35,1609.8 849.80,1571.2 850.50,1530.9 851.20,1528.5 851.90,1527.4 852.60,1516.4 853.30,1524.0 853.75,1533.5 854.20,1571.2 854.82,1603.7 855.23,1611.0 856.20,1571.2 856.90,1525.6 857.60,1524.3 858.20,1518.5 858.80,1509.2 859.40,1518.1 860.00,1516.9 860.60,1519.7 861.20,1514.8 861.80,1517.1 862.25,1528.4 862.70,1571.2 863.40,1613.3 864.10,1615.8 864.80,1620.6 865.50,1621.8 866.20,1627.8 866.65,1610.7 867.10,1571.2 867.77,1540.3 868.22,1528.5 869.50,1571.2 870.20,1611.8 870.90,1612.6 871.53,1617.1 872.17,1619.5 872.80,1620.0 873.43,1619.7 874.07,1622.5 874.70,1619.8 875.33,1629.5 875.97,1617.3 876.60,1618.5 877.05,1609.3 877.50,1571.2 878.44,1539.8 879.06,1526.8 879.51,1527.9 880.30,1571.2 881.00,1613.5 881.70,1615.7 882.55,1619.5 883.40,1627.8 883.85,1610.8 884.30,1571.2 884.98,1539.7 885.43,1531.7 885.88,1533.2 886.70,1571.2 887.40,1615.8 888.10,1618.2 888.80,1631.0 889.50,1623.3 890.20,1625.5 890.65,1613.0 891.10,1571.2 891.80,1533.4 892.50,1531.2 893.35,1529.2 894.20,1520.4 894.65,1535.7 895.10,1571.2 895.87,1607.1 896.38,1619.8 897.50,1571.2 898.03,1533.4 898.39,1523.6 899.50,1571.2 900.06,1609.3 900.43,1617.4 901.50,1571.2 902.23,1536.3 902.71,1530.0 903.16,1532.0 904.00,1571.2 904.70,1611.8 905.40,1616.2 906.03,1616.2 906.67,1631.8 907.30,1621.1 907.93,1621.8 908.57,1622.1 909.20,1622.0 909.65,1609.3 910.10,1571.2 910.80,1530.5 911.50,1530.5 912.17,1515.6 912.83,1524.3 913.50,1524.4 913.95,1533.0 914.40,1571.2 915.11,1604.1 915.59,1617.0 916.60,1571.2 917.30,1530.2 917.77,1521.7 918.90,1571.2 919.60,1608.3 920.30,1609.9 920.93,1612.9 921.57,1614.5 922.20,1622.0 922.65,1606.0 923.10,1571.2 923.86,1535.5 924.37,1528.6 925.30,1571.2 926.10,1606.2 926.64,1618.0 927.60,1571.2 928.41,1536.3 928.94,1522.5 929.90,1571.2 930.50,1607.9 930.91,1622.0 932.20,1571.2 932.90,1532.4 933.37,1520.2 934.50,1571.2 934.80,1610.4 935.00,1618.0 935.60,1618.0" fill="none" stroke="#e11b1b" stroke-width="1" stroke-linejoin="round"/><path d="M293.0,1481.9 V1660.5 H934.9" fill="none" stroke="#2a2a2a" stroke-width="1"/><line x1="290.0" y1="1481.9" x2="293.0" y2="1481.9" stroke="#2a2a2a" stroke-width="1.1"/><line x1="290.0" y1="1571.2" x2="293.0" y2="1571.2" stroke="#2a2a2a" stroke-width="1.1"/><line x1="290.0" y1="1660.5" x2="293.0" y2="1660.5" stroke="#2a2a2a" stroke-width="1.1"/><line x1="291.0" y1="1526.6" x2="293.0" y2="1526.6" stroke="#2a2a2a" stroke-width="1.1"/><line x1="291.0" y1="1615.8" x2="293.0" y2="1615.8" stroke="#2a2a2a" stroke-width="1.1"/><line x1="359.5" y1="1660.5" x2="359.5" y2="1663.5" stroke="#2a2a2a" stroke-width="1.1"/><line x1="488.1" y1="1660.5" x2="488.1" y2="1663.5" stroke="#2a2a2a" stroke-width="1.1"/><line x1="616.7" y1="1660.5" x2="616.7" y2="1663.5" stroke="#2a2a2a" stroke-width="1.1"/><line x1="745.3" y1="1660.5" x2="745.3" y2="1663.5" stroke="#2a2a2a" stroke-width="1.1"/><line x1="873.9" y1="1660.5" x2="873.9" y2="1663.5" stroke="#2a2a2a" stroke-width="1.1"/><line x1="295.2" y1="1660.5" x2="295.2" y2="1662.5" stroke="#2a2a2a" stroke-width="1.1"/><line x1="423.8" y1="1660.5" x2="423.8" y2="1662.5" stroke="#2a2a2a" stroke-width="1.1"/><line x1="552.4" y1="1660.5" x2="552.4" y2="1662.5" stroke="#2a2a2a" stroke-width="1.1"/><line x1="681.0" y1="1660.5" x2="681.0" y2="1662.5" stroke="#2a2a2a" stroke-width="1.1"/><line x1="809.6" y1="1660.5" x2="809.6" y2="1662.5" stroke="#2a2a2a" stroke-width="1.1"/><text x="287.7" y="1485.6" font-size="12.5" fill="#000" text-anchor="end" >0.5</text><text x="287.7" y="1574.9" font-size="12.5" fill="#000" text-anchor="end" >0.0</text><text x="287.7" y="1664.2" font-size="12.5" fill="#000" text-anchor="end" >-0.5</text><text x="359.5" y="1675.7" font-size="12.5" fill="#000" text-anchor="middle" >48.91</text><text x="488.1" y="1675.7" font-size="12.5" fill="#000" text-anchor="middle" >48.92</text><text x="616.7" y="1675.7" font-size="12.5" fill="#000" text-anchor="middle" >48.93</text><text x="745.3" y="1675.7" font-size="12.5" fill="#000" text-anchor="middle" >48.94</text><text x="873.9" y="1675.7" font-size="12.5" fill="#000" text-anchor="middle" >48.95</text><text x="614.0" y="1697.6" font-size="15.3" fill="#000" text-anchor="middle" >Time (μs)</text><text x="261.0" y="1571.8" font-size="15.3" fill="#000" text-anchor="middle" transform="rotate(-90 261 1571.8)">Volts (V)</text><rect x="698.5" y="1486.9" width="146.7" height="15.5" fill="#fff" stroke="#a0a0a0" stroke-width="1"/><line x1="700.5" y1="1494.5" x2="726.8" y2="1494.5" stroke="#e11b1b" stroke-width="1"/><text x="730.8" y="1499.0" font-size="12" fill="#000" text-anchor="start" >After Baseband Data</text><rect x="141" y="1465.2" width="15.6" height="238.9" fill="none" stroke="#0072BD" stroke-width="3.4" stroke-linejoin="round"/><line x1="157.2" y1="1585.1" x2="200.2" y2="1585.1" stroke="#000" stroke-width="3.6" stroke-linecap="round"/><path d="M225.6,1585.1 L196.0,1599.6 Q202.4,1585.1 196.0,1570.6 Z" fill="#000"/><line x1="140.3" y1="1285.2" x2="149.0" y2="1427.0" stroke="#000" stroke-width="3.5" stroke-linecap="round"/><path d="M150.5,1451.8 L134.0,1423.4 Q149.1,1429.6 163.4,1421.6 Z" fill="#000"/>
</svg>
</body></html>
